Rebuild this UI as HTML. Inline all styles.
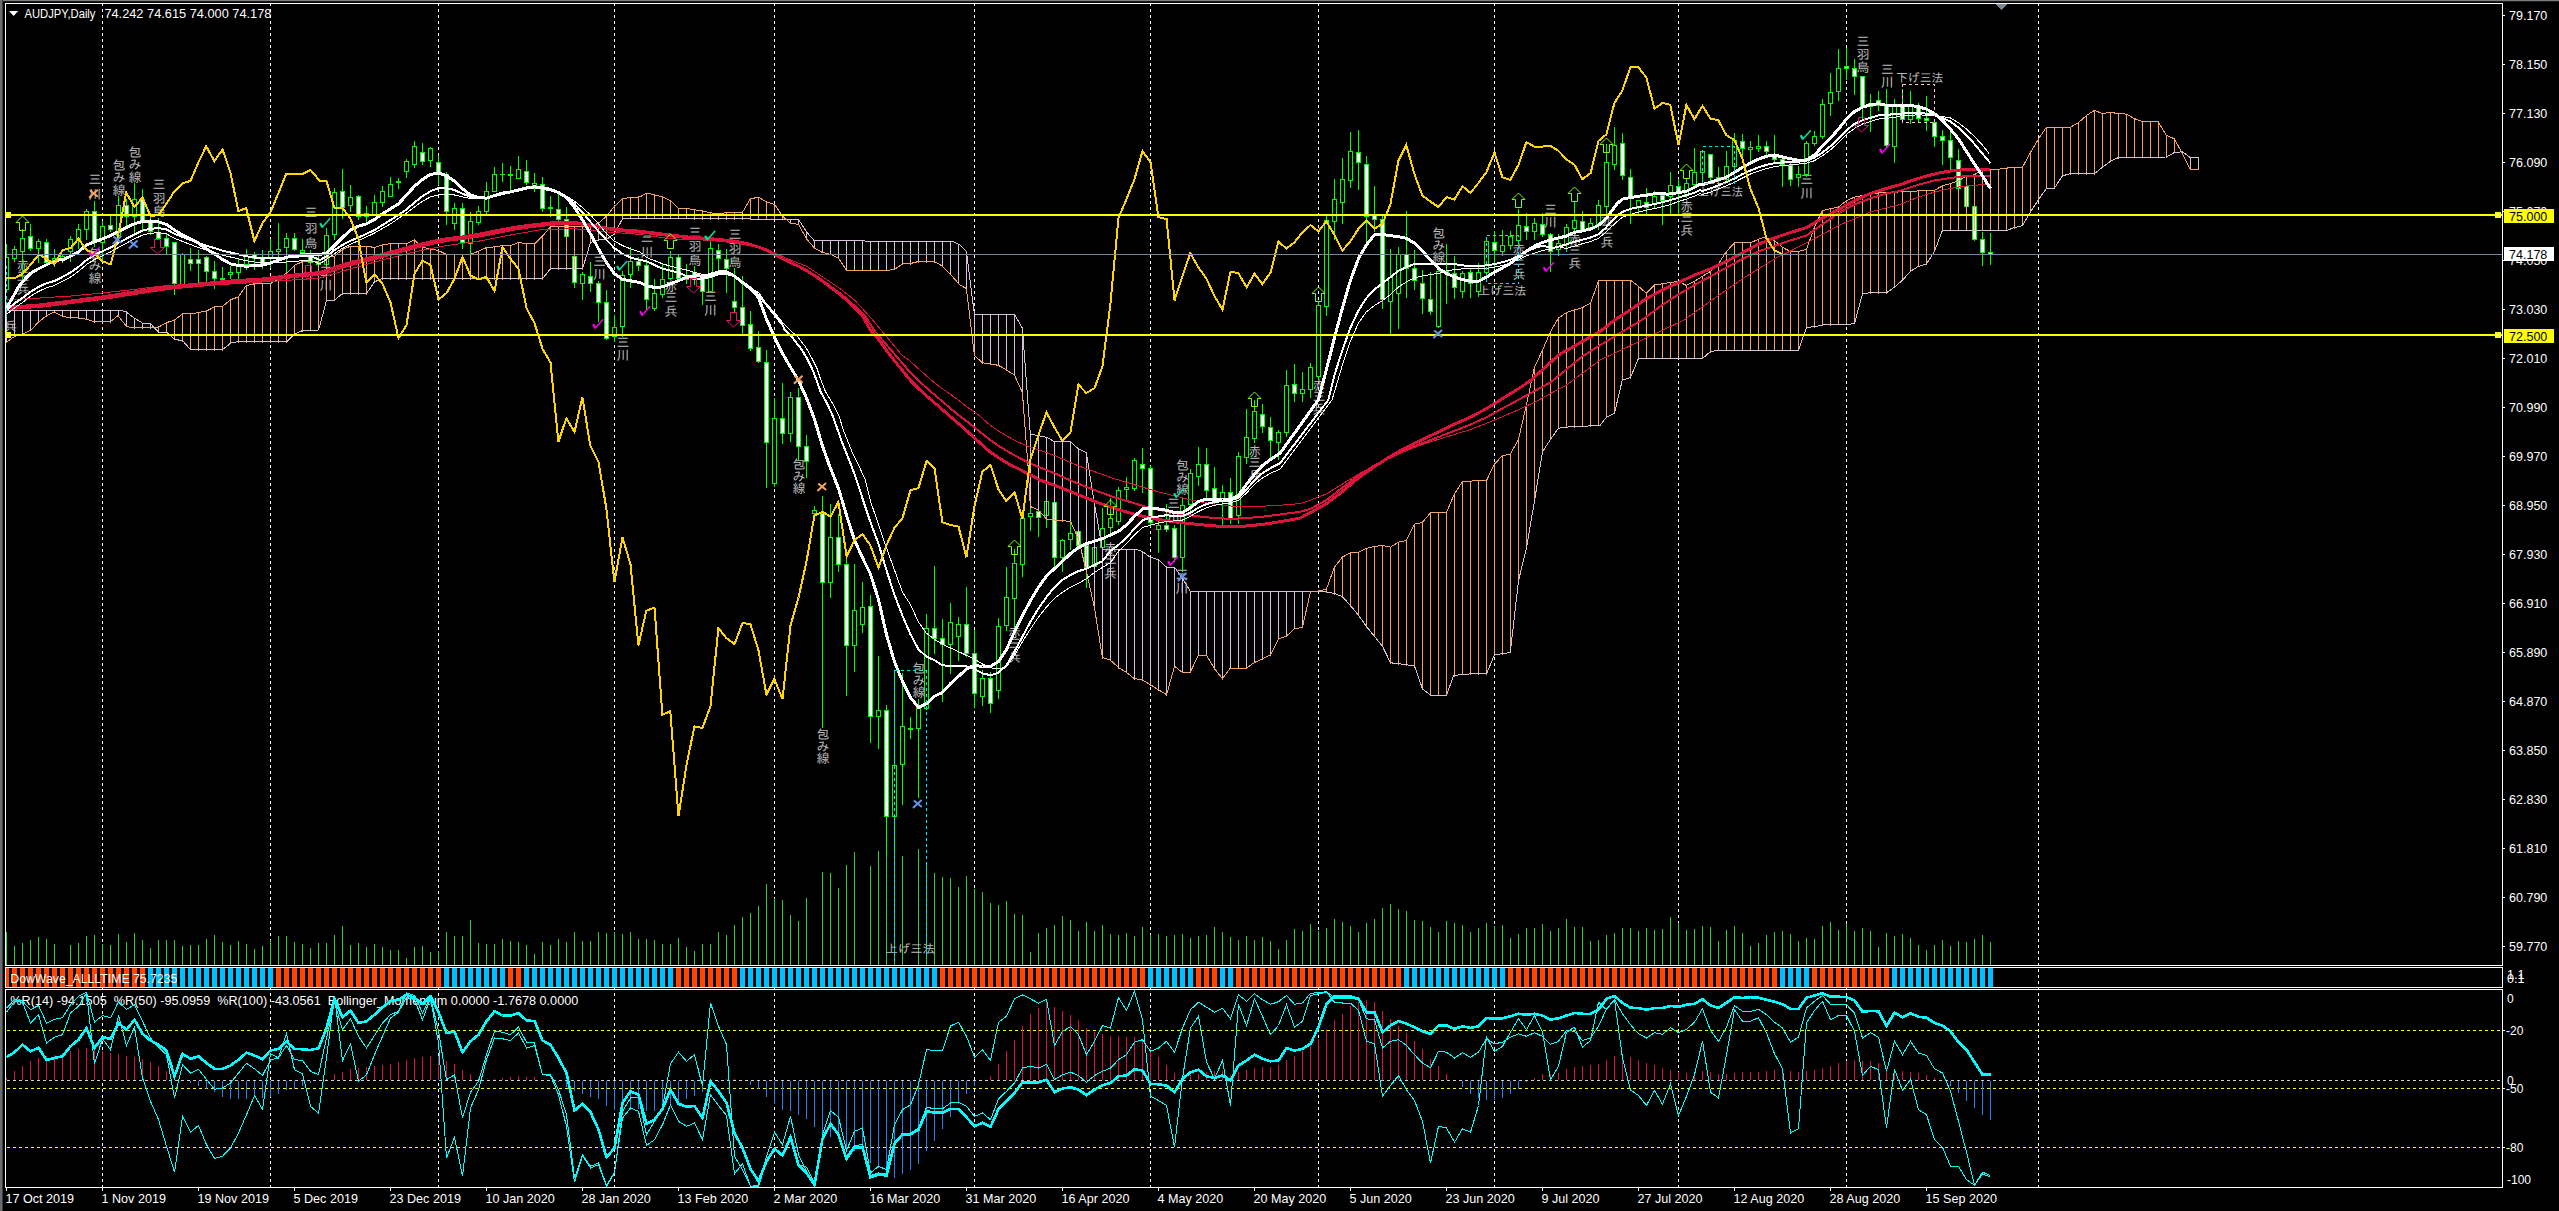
<!DOCTYPE html>
<html><head><meta charset="utf-8"><title>AUDJPY Daily</title><style>html,body{margin:0;padding:0;background:#000;overflow:hidden}svg{display:block}text{white-space:pre}</style></head><body>
<svg width="2559" height="1211" viewBox="0 0 2559 1211" shape-rendering="crispEdges" font-family="'Liberation Sans', 'Noto Sans CJK JP', sans-serif">
<rect x="0" y="0" width="2559" height="1211" fill="#000"/>
<rect x="0" y="0" width="2559" height="1" fill="#7c7c7c"/>
<rect x="0" y="1" width="2559" height="1" fill="#1c1c1c"/>
<rect x="0" y="0" width="2" height="1211" fill="#696d72"/>
<rect x="2" y="0" width="1" height="1211" fill="#3a3d40"/>
<g stroke="#fff" stroke-width="1" stroke-dasharray="3 3">
<line x1="102.5" y1="3" x2="102.5" y2="1187"/>
<line x1="270.5" y1="3" x2="270.5" y2="1187"/>
<line x1="438.5" y1="3" x2="438.5" y2="1187"/>
<line x1="614.5" y1="3" x2="614.5" y2="1187"/>
<line x1="774.5" y1="3" x2="774.5" y2="1187"/>
<line x1="974.5" y1="3" x2="974.5" y2="1187"/>
<line x1="1150.5" y1="3" x2="1150.5" y2="1187"/>
<line x1="1318.5" y1="3" x2="1318.5" y2="1187"/>
<line x1="1494.5" y1="3" x2="1494.5" y2="1187"/>
<line x1="1678.5" y1="3" x2="1678.5" y2="1187"/>
<line x1="1846.5" y1="3" x2="1846.5" y2="1187"/>
<line x1="2038.5" y1="3" x2="2038.5" y2="1187"/>
</g>
<rect x="6" y="932" width="1" height="33" fill="#32cd32"/>
<rect x="14" y="946" width="1" height="19" fill="#32cd32"/>
<rect x="22" y="943" width="1" height="22" fill="#32cd32"/>
<rect x="30" y="940" width="1" height="25" fill="#32cd32"/>
<rect x="38" y="937" width="1" height="28" fill="#32cd32"/>
<rect x="46" y="939" width="1" height="26" fill="#32cd32"/>
<rect x="54" y="944" width="1" height="21" fill="#32cd32"/>
<rect x="70" y="945" width="1" height="20" fill="#32cd32"/>
<rect x="78" y="943" width="1" height="22" fill="#32cd32"/>
<rect x="86" y="936" width="1" height="29" fill="#32cd32"/>
<rect x="94" y="935" width="1" height="30" fill="#32cd32"/>
<rect x="102" y="944" width="1" height="21" fill="#32cd32"/>
<rect x="110" y="945" width="1" height="20" fill="#32cd32"/>
<rect x="118" y="934" width="1" height="31" fill="#32cd32"/>
<rect x="126" y="942" width="1" height="23" fill="#32cd32"/>
<rect x="134" y="933" width="1" height="32" fill="#32cd32"/>
<rect x="142" y="940" width="1" height="25" fill="#32cd32"/>
<rect x="150" y="948" width="1" height="17" fill="#32cd32"/>
<rect x="158" y="940" width="1" height="25" fill="#32cd32"/>
<rect x="166" y="940" width="1" height="25" fill="#32cd32"/>
<rect x="174" y="940" width="1" height="25" fill="#32cd32"/>
<rect x="182" y="946" width="1" height="19" fill="#32cd32"/>
<rect x="190" y="945" width="1" height="20" fill="#32cd32"/>
<rect x="198" y="945" width="1" height="20" fill="#32cd32"/>
<rect x="206" y="939" width="1" height="26" fill="#32cd32"/>
<rect x="214" y="935" width="1" height="30" fill="#32cd32"/>
<rect x="222" y="942" width="1" height="23" fill="#32cd32"/>
<rect x="230" y="945" width="1" height="20" fill="#32cd32"/>
<rect x="238" y="941" width="1" height="24" fill="#32cd32"/>
<rect x="246" y="944" width="1" height="21" fill="#32cd32"/>
<rect x="254" y="949" width="1" height="16" fill="#32cd32"/>
<rect x="262" y="946" width="1" height="19" fill="#32cd32"/>
<rect x="270" y="940" width="1" height="25" fill="#32cd32"/>
<rect x="278" y="936" width="1" height="29" fill="#32cd32"/>
<rect x="286" y="936" width="1" height="29" fill="#32cd32"/>
<rect x="294" y="942" width="1" height="23" fill="#32cd32"/>
<rect x="302" y="944" width="1" height="21" fill="#32cd32"/>
<rect x="310" y="948" width="1" height="17" fill="#32cd32"/>
<rect x="318" y="943" width="1" height="22" fill="#32cd32"/>
<rect x="326" y="943" width="1" height="22" fill="#32cd32"/>
<rect x="334" y="935" width="1" height="30" fill="#32cd32"/>
<rect x="342" y="926" width="1" height="39" fill="#32cd32"/>
<rect x="350" y="945" width="1" height="20" fill="#32cd32"/>
<rect x="358" y="943" width="1" height="22" fill="#32cd32"/>
<rect x="366" y="947" width="1" height="18" fill="#32cd32"/>
<rect x="374" y="944" width="1" height="21" fill="#32cd32"/>
<rect x="382" y="947" width="1" height="18" fill="#32cd32"/>
<rect x="390" y="950" width="1" height="15" fill="#32cd32"/>
<rect x="398" y="950" width="1" height="15" fill="#32cd32"/>
<rect x="406" y="958" width="1" height="7" fill="#32cd32"/>
<rect x="414" y="947" width="1" height="18" fill="#32cd32"/>
<rect x="422" y="946" width="1" height="19" fill="#32cd32"/>
<rect x="430" y="952" width="1" height="13" fill="#32cd32"/>
<rect x="438" y="951" width="1" height="14" fill="#32cd32"/>
<rect x="446" y="932" width="1" height="33" fill="#32cd32"/>
<rect x="454" y="936" width="1" height="29" fill="#32cd32"/>
<rect x="462" y="936" width="1" height="29" fill="#32cd32"/>
<rect x="470" y="920" width="1" height="45" fill="#32cd32"/>
<rect x="478" y="943" width="1" height="22" fill="#32cd32"/>
<rect x="486" y="944" width="1" height="21" fill="#32cd32"/>
<rect x="494" y="944" width="1" height="21" fill="#32cd32"/>
<rect x="502" y="939" width="1" height="26" fill="#32cd32"/>
<rect x="510" y="941" width="1" height="24" fill="#32cd32"/>
<rect x="518" y="942" width="1" height="23" fill="#32cd32"/>
<rect x="526" y="945" width="1" height="20" fill="#32cd32"/>
<rect x="534" y="954" width="1" height="11" fill="#32cd32"/>
<rect x="542" y="942" width="1" height="23" fill="#32cd32"/>
<rect x="550" y="945" width="1" height="20" fill="#32cd32"/>
<rect x="558" y="939" width="1" height="26" fill="#32cd32"/>
<rect x="566" y="942" width="1" height="23" fill="#32cd32"/>
<rect x="574" y="932" width="1" height="33" fill="#32cd32"/>
<rect x="582" y="941" width="1" height="24" fill="#32cd32"/>
<rect x="590" y="941" width="1" height="24" fill="#32cd32"/>
<rect x="598" y="932" width="1" height="33" fill="#32cd32"/>
<rect x="606" y="933" width="1" height="32" fill="#32cd32"/>
<rect x="614" y="932" width="1" height="33" fill="#32cd32"/>
<rect x="622" y="934" width="1" height="31" fill="#32cd32"/>
<rect x="630" y="932" width="1" height="33" fill="#32cd32"/>
<rect x="638" y="939" width="1" height="26" fill="#32cd32"/>
<rect x="646" y="939" width="1" height="26" fill="#32cd32"/>
<rect x="654" y="940" width="1" height="25" fill="#32cd32"/>
<rect x="662" y="944" width="1" height="21" fill="#32cd32"/>
<rect x="670" y="944" width="1" height="21" fill="#32cd32"/>
<rect x="678" y="938" width="1" height="27" fill="#32cd32"/>
<rect x="686" y="947" width="1" height="18" fill="#32cd32"/>
<rect x="694" y="951" width="1" height="14" fill="#32cd32"/>
<rect x="702" y="944" width="1" height="21" fill="#32cd32"/>
<rect x="710" y="944" width="1" height="21" fill="#32cd32"/>
<rect x="718" y="932" width="1" height="33" fill="#32cd32"/>
<rect x="726" y="935" width="1" height="30" fill="#32cd32"/>
<rect x="734" y="925" width="1" height="40" fill="#32cd32"/>
<rect x="742" y="917" width="1" height="48" fill="#32cd32"/>
<rect x="750" y="913" width="1" height="52" fill="#32cd32"/>
<rect x="758" y="906" width="1" height="59" fill="#32cd32"/>
<rect x="766" y="884" width="1" height="81" fill="#32cd32"/>
<rect x="774" y="898" width="1" height="67" fill="#32cd32"/>
<rect x="782" y="900" width="1" height="65" fill="#32cd32"/>
<rect x="790" y="915" width="1" height="50" fill="#32cd32"/>
<rect x="798" y="921" width="1" height="44" fill="#32cd32"/>
<rect x="806" y="898" width="1" height="67" fill="#32cd32"/>
<rect x="822" y="872" width="1" height="93" fill="#32cd32"/>
<rect x="830" y="873" width="1" height="92" fill="#32cd32"/>
<rect x="838" y="888" width="1" height="77" fill="#32cd32"/>
<rect x="846" y="865" width="1" height="100" fill="#32cd32"/>
<rect x="854" y="852" width="1" height="113" fill="#32cd32"/>
<rect x="870" y="866" width="1" height="99" fill="#32cd32"/>
<rect x="878" y="851" width="1" height="114" fill="#32cd32"/>
<rect x="886" y="842" width="1" height="123" fill="#32cd32"/>
<rect x="894" y="845" width="1" height="120" fill="#32cd32"/>
<rect x="902" y="856" width="1" height="109" fill="#32cd32"/>
<rect x="918" y="849" width="1" height="116" fill="#32cd32"/>
<rect x="926" y="865" width="1" height="100" fill="#32cd32"/>
<rect x="934" y="873" width="1" height="92" fill="#32cd32"/>
<rect x="942" y="877" width="1" height="88" fill="#32cd32"/>
<rect x="950" y="878" width="1" height="87" fill="#32cd32"/>
<rect x="958" y="887" width="1" height="78" fill="#32cd32"/>
<rect x="966" y="876" width="1" height="89" fill="#32cd32"/>
<rect x="974" y="889" width="1" height="76" fill="#32cd32"/>
<rect x="982" y="892" width="1" height="73" fill="#32cd32"/>
<rect x="990" y="903" width="1" height="62" fill="#32cd32"/>
<rect x="998" y="905" width="1" height="60" fill="#32cd32"/>
<rect x="1006" y="901" width="1" height="64" fill="#32cd32"/>
<rect x="1014" y="914" width="1" height="51" fill="#32cd32"/>
<rect x="1022" y="915" width="1" height="50" fill="#32cd32"/>
<rect x="1030" y="952" width="1" height="13" fill="#32cd32"/>
<rect x="1038" y="933" width="1" height="32" fill="#32cd32"/>
<rect x="1046" y="928" width="1" height="37" fill="#32cd32"/>
<rect x="1054" y="925" width="1" height="40" fill="#32cd32"/>
<rect x="1062" y="916" width="1" height="49" fill="#32cd32"/>
<rect x="1070" y="920" width="1" height="45" fill="#32cd32"/>
<rect x="1078" y="931" width="1" height="34" fill="#32cd32"/>
<rect x="1086" y="922" width="1" height="43" fill="#32cd32"/>
<rect x="1094" y="931" width="1" height="34" fill="#32cd32"/>
<rect x="1102" y="925" width="1" height="40" fill="#32cd32"/>
<rect x="1110" y="934" width="1" height="31" fill="#32cd32"/>
<rect x="1118" y="935" width="1" height="30" fill="#32cd32"/>
<rect x="1126" y="933" width="1" height="32" fill="#32cd32"/>
<rect x="1134" y="936" width="1" height="29" fill="#32cd32"/>
<rect x="1142" y="927" width="1" height="38" fill="#32cd32"/>
<rect x="1150" y="935" width="1" height="30" fill="#32cd32"/>
<rect x="1158" y="934" width="1" height="31" fill="#32cd32"/>
<rect x="1166" y="936" width="1" height="29" fill="#32cd32"/>
<rect x="1174" y="935" width="1" height="30" fill="#32cd32"/>
<rect x="1182" y="934" width="1" height="31" fill="#32cd32"/>
<rect x="1190" y="938" width="1" height="27" fill="#32cd32"/>
<rect x="1198" y="936" width="1" height="29" fill="#32cd32"/>
<rect x="1206" y="935" width="1" height="30" fill="#32cd32"/>
<rect x="1214" y="927" width="1" height="38" fill="#32cd32"/>
<rect x="1222" y="932" width="1" height="33" fill="#32cd32"/>
<rect x="1230" y="937" width="1" height="28" fill="#32cd32"/>
<rect x="1238" y="940" width="1" height="25" fill="#32cd32"/>
<rect x="1246" y="936" width="1" height="29" fill="#32cd32"/>
<rect x="1254" y="940" width="1" height="25" fill="#32cd32"/>
<rect x="1262" y="937" width="1" height="28" fill="#32cd32"/>
<rect x="1270" y="941" width="1" height="24" fill="#32cd32"/>
<rect x="1278" y="949" width="1" height="16" fill="#32cd32"/>
<rect x="1286" y="940" width="1" height="25" fill="#32cd32"/>
<rect x="1294" y="929" width="1" height="36" fill="#32cd32"/>
<rect x="1302" y="931" width="1" height="34" fill="#32cd32"/>
<rect x="1310" y="924" width="1" height="41" fill="#32cd32"/>
<rect x="1318" y="931" width="1" height="34" fill="#32cd32"/>
<rect x="1326" y="928" width="1" height="37" fill="#32cd32"/>
<rect x="1334" y="919" width="1" height="46" fill="#32cd32"/>
<rect x="1342" y="922" width="1" height="43" fill="#32cd32"/>
<rect x="1350" y="926" width="1" height="39" fill="#32cd32"/>
<rect x="1358" y="932" width="1" height="33" fill="#32cd32"/>
<rect x="1366" y="923" width="1" height="42" fill="#32cd32"/>
<rect x="1374" y="919" width="1" height="46" fill="#32cd32"/>
<rect x="1382" y="908" width="1" height="57" fill="#32cd32"/>
<rect x="1390" y="904" width="1" height="61" fill="#32cd32"/>
<rect x="1398" y="909" width="1" height="56" fill="#32cd32"/>
<rect x="1406" y="911" width="1" height="54" fill="#32cd32"/>
<rect x="1414" y="920" width="1" height="45" fill="#32cd32"/>
<rect x="1422" y="921" width="1" height="44" fill="#32cd32"/>
<rect x="1430" y="927" width="1" height="38" fill="#32cd32"/>
<rect x="1438" y="932" width="1" height="33" fill="#32cd32"/>
<rect x="1446" y="921" width="1" height="44" fill="#32cd32"/>
<rect x="1454" y="923" width="1" height="42" fill="#32cd32"/>
<rect x="1462" y="925" width="1" height="40" fill="#32cd32"/>
<rect x="1470" y="932" width="1" height="33" fill="#32cd32"/>
<rect x="1478" y="928" width="1" height="37" fill="#32cd32"/>
<rect x="1486" y="923" width="1" height="42" fill="#32cd32"/>
<rect x="1494" y="926" width="1" height="39" fill="#32cd32"/>
<rect x="1502" y="925" width="1" height="40" fill="#32cd32"/>
<rect x="1510" y="938" width="1" height="27" fill="#32cd32"/>
<rect x="1518" y="934" width="1" height="31" fill="#32cd32"/>
<rect x="1526" y="928" width="1" height="37" fill="#32cd32"/>
<rect x="1534" y="928" width="1" height="37" fill="#32cd32"/>
<rect x="1542" y="924" width="1" height="41" fill="#32cd32"/>
<rect x="1550" y="931" width="1" height="34" fill="#32cd32"/>
<rect x="1558" y="928" width="1" height="37" fill="#32cd32"/>
<rect x="1566" y="919" width="1" height="46" fill="#32cd32"/>
<rect x="1574" y="927" width="1" height="38" fill="#32cd32"/>
<rect x="1582" y="927" width="1" height="38" fill="#32cd32"/>
<rect x="1590" y="941" width="1" height="24" fill="#32cd32"/>
<rect x="1598" y="940" width="1" height="25" fill="#32cd32"/>
<rect x="1606" y="935" width="1" height="30" fill="#32cd32"/>
<rect x="1614" y="933" width="1" height="32" fill="#32cd32"/>
<rect x="1622" y="928" width="1" height="37" fill="#32cd32"/>
<rect x="1630" y="928" width="1" height="37" fill="#32cd32"/>
<rect x="1638" y="931" width="1" height="34" fill="#32cd32"/>
<rect x="1646" y="928" width="1" height="37" fill="#32cd32"/>
<rect x="1654" y="930" width="1" height="35" fill="#32cd32"/>
<rect x="1662" y="929" width="1" height="36" fill="#32cd32"/>
<rect x="1670" y="917" width="1" height="48" fill="#32cd32"/>
<rect x="1678" y="923" width="1" height="42" fill="#32cd32"/>
<rect x="1686" y="930" width="1" height="35" fill="#32cd32"/>
<rect x="1694" y="929" width="1" height="36" fill="#32cd32"/>
<rect x="1702" y="926" width="1" height="39" fill="#32cd32"/>
<rect x="1710" y="927" width="1" height="38" fill="#32cd32"/>
<rect x="1718" y="941" width="1" height="24" fill="#32cd32"/>
<rect x="1726" y="930" width="1" height="35" fill="#32cd32"/>
<rect x="1734" y="926" width="1" height="39" fill="#32cd32"/>
<rect x="1742" y="933" width="1" height="32" fill="#32cd32"/>
<rect x="1750" y="946" width="1" height="19" fill="#32cd32"/>
<rect x="1758" y="943" width="1" height="22" fill="#32cd32"/>
<rect x="1766" y="935" width="1" height="30" fill="#32cd32"/>
<rect x="1774" y="932" width="1" height="33" fill="#32cd32"/>
<rect x="1782" y="931" width="1" height="34" fill="#32cd32"/>
<rect x="1790" y="934" width="1" height="31" fill="#32cd32"/>
<rect x="1798" y="941" width="1" height="24" fill="#32cd32"/>
<rect x="1806" y="938" width="1" height="27" fill="#32cd32"/>
<rect x="1814" y="939" width="1" height="26" fill="#32cd32"/>
<rect x="1822" y="926" width="1" height="39" fill="#32cd32"/>
<rect x="1830" y="922" width="1" height="43" fill="#32cd32"/>
<rect x="1838" y="930" width="1" height="35" fill="#32cd32"/>
<rect x="1846" y="924" width="1" height="41" fill="#32cd32"/>
<rect x="1854" y="931" width="1" height="34" fill="#32cd32"/>
<rect x="1862" y="928" width="1" height="37" fill="#32cd32"/>
<rect x="1870" y="931" width="1" height="34" fill="#32cd32"/>
<rect x="1878" y="947" width="1" height="18" fill="#32cd32"/>
<rect x="1886" y="933" width="1" height="32" fill="#32cd32"/>
<rect x="1894" y="936" width="1" height="29" fill="#32cd32"/>
<rect x="1902" y="934" width="1" height="31" fill="#32cd32"/>
<rect x="1910" y="938" width="1" height="27" fill="#32cd32"/>
<rect x="1918" y="945" width="1" height="20" fill="#32cd32"/>
<rect x="1926" y="950" width="1" height="15" fill="#32cd32"/>
<rect x="1934" y="945" width="1" height="20" fill="#32cd32"/>
<rect x="1942" y="940" width="1" height="25" fill="#32cd32"/>
<rect x="1950" y="946" width="1" height="19" fill="#32cd32"/>
<rect x="1958" y="941" width="1" height="24" fill="#32cd32"/>
<rect x="1966" y="942" width="1" height="23" fill="#32cd32"/>
<rect x="1974" y="939" width="1" height="26" fill="#32cd32"/>
<rect x="1982" y="935" width="1" height="30" fill="#32cd32"/>
<rect x="1990" y="942" width="1" height="23" fill="#32cd32"/>
<text x="95" y="184" fill="#bcbcbc" font-size="13" text-anchor="middle" font-family="'Liberation Sans','IPAGothic',sans-serif">三</text>
<text x="95" y="199" fill="#bcbcbc" font-size="13" text-anchor="middle" font-family="'Liberation Sans','IPAGothic',sans-serif">川</text>
<text x="119" y="170" fill="#bcbcbc" font-size="13" text-anchor="middle" font-family="'Liberation Sans','IPAGothic',sans-serif">包</text>
<text x="119" y="182" fill="#bcbcbc" font-size="13" text-anchor="middle" font-family="'Liberation Sans','IPAGothic',sans-serif">み</text>
<text x="119" y="194.5" fill="#bcbcbc" font-size="13" text-anchor="middle" font-family="'Liberation Sans','IPAGothic',sans-serif">線</text>
<text x="135" y="157" fill="#bcbcbc" font-size="13" text-anchor="middle" font-family="'Liberation Sans','IPAGothic',sans-serif">包</text>
<text x="135" y="169" fill="#bcbcbc" font-size="13" text-anchor="middle" font-family="'Liberation Sans','IPAGothic',sans-serif">み</text>
<text x="135" y="181.5" fill="#bcbcbc" font-size="13" text-anchor="middle" font-family="'Liberation Sans','IPAGothic',sans-serif">線</text>
<text x="159" y="189" fill="#bcbcbc" font-size="13" text-anchor="middle" font-family="'Liberation Sans','IPAGothic',sans-serif">三</text>
<text x="159" y="203" fill="#bcbcbc" font-size="13" text-anchor="middle" font-family="'Liberation Sans','IPAGothic',sans-serif">羽</text>
<text x="159" y="215.5" fill="#bcbcbc" font-size="13" text-anchor="middle" font-family="'Liberation Sans','IPAGothic',sans-serif">烏</text>
<text x="23" y="270" fill="#bcbcbc" font-size="13" text-anchor="middle" font-family="'Liberation Sans','IPAGothic',sans-serif">赤</text>
<text x="23" y="280.5" fill="#bcbcbc" font-size="13" text-anchor="middle" font-family="'Liberation Sans','IPAGothic',sans-serif">三</text>
<text x="23" y="294" fill="#bcbcbc" font-size="13" text-anchor="middle" font-family="'Liberation Sans','IPAGothic',sans-serif">兵</text>
<text x="95" y="258" fill="#bcbcbc" font-size="13" text-anchor="middle" font-family="'Liberation Sans','IPAGothic',sans-serif">包</text>
<text x="95" y="270" fill="#bcbcbc" font-size="13" text-anchor="middle" font-family="'Liberation Sans','IPAGothic',sans-serif">み</text>
<text x="95" y="283" fill="#bcbcbc" font-size="13" text-anchor="middle" font-family="'Liberation Sans','IPAGothic',sans-serif">線</text>
<text x="311" y="217" fill="#bcbcbc" font-size="13" text-anchor="middle" font-family="'Liberation Sans','IPAGothic',sans-serif">三</text>
<text x="311" y="233" fill="#bcbcbc" font-size="13" text-anchor="middle" font-family="'Liberation Sans','IPAGothic',sans-serif">羽</text>
<text x="311" y="248" fill="#bcbcbc" font-size="13" text-anchor="middle" font-family="'Liberation Sans','IPAGothic',sans-serif">烏</text>
<text x="326" y="276" fill="#bcbcbc" font-size="13" text-anchor="middle" font-family="'Liberation Sans','IPAGothic',sans-serif">三</text>
<text x="326" y="290" fill="#bcbcbc" font-size="13" text-anchor="middle" font-family="'Liberation Sans','IPAGothic',sans-serif">川</text>
<text x="599.5" y="265.5" fill="#bcbcbc" font-size="13" text-anchor="middle" font-family="'Liberation Sans','IPAGothic',sans-serif">三</text>
<text x="599.5" y="279" fill="#bcbcbc" font-size="13" text-anchor="middle" font-family="'Liberation Sans','IPAGothic',sans-serif">川</text>
<text x="623" y="347" fill="#bcbcbc" font-size="13" text-anchor="middle" font-family="'Liberation Sans','IPAGothic',sans-serif">三</text>
<text x="623" y="360" fill="#bcbcbc" font-size="13" text-anchor="middle" font-family="'Liberation Sans','IPAGothic',sans-serif">川</text>
<text x="647" y="242" fill="#bcbcbc" font-size="13" text-anchor="middle" font-family="'Liberation Sans','IPAGothic',sans-serif">三</text>
<text x="647" y="256.5" fill="#bcbcbc" font-size="13" text-anchor="middle" font-family="'Liberation Sans','IPAGothic',sans-serif">川</text>
<text x="695" y="237" fill="#bcbcbc" font-size="13" text-anchor="middle" font-family="'Liberation Sans','IPAGothic',sans-serif">三</text>
<text x="695" y="251" fill="#bcbcbc" font-size="13" text-anchor="middle" font-family="'Liberation Sans','IPAGothic',sans-serif">羽</text>
<text x="695" y="264.5" fill="#bcbcbc" font-size="13" text-anchor="middle" font-family="'Liberation Sans','IPAGothic',sans-serif">烏</text>
<text x="735" y="239" fill="#bcbcbc" font-size="13" text-anchor="middle" font-family="'Liberation Sans','IPAGothic',sans-serif">三</text>
<text x="735" y="253" fill="#bcbcbc" font-size="13" text-anchor="middle" font-family="'Liberation Sans','IPAGothic',sans-serif">羽</text>
<text x="735" y="266.5" fill="#bcbcbc" font-size="13" text-anchor="middle" font-family="'Liberation Sans','IPAGothic',sans-serif">烏</text>
<text x="671" y="290.5" fill="#bcbcbc" font-size="13" text-anchor="middle" font-family="'Liberation Sans','IPAGothic',sans-serif">赤</text>
<text x="671" y="302" fill="#bcbcbc" font-size="13" text-anchor="middle" font-family="'Liberation Sans','IPAGothic',sans-serif">三</text>
<text x="671" y="316" fill="#bcbcbc" font-size="13" text-anchor="middle" font-family="'Liberation Sans','IPAGothic',sans-serif">兵</text>
<text x="710.6" y="301" fill="#bcbcbc" font-size="13" text-anchor="middle" font-family="'Liberation Sans','IPAGothic',sans-serif">三</text>
<text x="710.6" y="315" fill="#bcbcbc" font-size="13" text-anchor="middle" font-family="'Liberation Sans','IPAGothic',sans-serif">川</text>
<text x="799" y="469" fill="#bcbcbc" font-size="13" text-anchor="middle" font-family="'Liberation Sans','IPAGothic',sans-serif">包</text>
<text x="799" y="481" fill="#bcbcbc" font-size="13" text-anchor="middle" font-family="'Liberation Sans','IPAGothic',sans-serif">み</text>
<text x="799" y="493" fill="#bcbcbc" font-size="13" text-anchor="middle" font-family="'Liberation Sans','IPAGothic',sans-serif">線</text>
<text x="823" y="739" fill="#bcbcbc" font-size="13" text-anchor="middle" font-family="'Liberation Sans','IPAGothic',sans-serif">包</text>
<text x="823" y="751" fill="#bcbcbc" font-size="13" text-anchor="middle" font-family="'Liberation Sans','IPAGothic',sans-serif">み</text>
<text x="823" y="762.5" fill="#bcbcbc" font-size="13" text-anchor="middle" font-family="'Liberation Sans','IPAGothic',sans-serif">線</text>
<text x="919" y="673" fill="#bcbcbc" font-size="13" text-anchor="middle" font-family="'Liberation Sans','IPAGothic',sans-serif">包</text>
<text x="919" y="684.5" fill="#bcbcbc" font-size="13" text-anchor="middle" font-family="'Liberation Sans','IPAGothic',sans-serif">み</text>
<text x="919" y="696.5" fill="#bcbcbc" font-size="13" text-anchor="middle" font-family="'Liberation Sans','IPAGothic',sans-serif">線</text>
<text x="1014.5" y="637" fill="#bcbcbc" font-size="13" text-anchor="middle" font-family="'Liberation Sans','IPAGothic',sans-serif">赤</text>
<text x="1014.5" y="648" fill="#bcbcbc" font-size="13" text-anchor="middle" font-family="'Liberation Sans','IPAGothic',sans-serif">三</text>
<text x="1014.5" y="662" fill="#bcbcbc" font-size="13" text-anchor="middle" font-family="'Liberation Sans','IPAGothic',sans-serif">兵</text>
<text x="1110.6" y="552.6" fill="#bcbcbc" font-size="13" text-anchor="middle" font-family="'Liberation Sans','IPAGothic',sans-serif">赤</text>
<text x="1110.6" y="563.7" fill="#bcbcbc" font-size="13" text-anchor="middle" font-family="'Liberation Sans','IPAGothic',sans-serif">三</text>
<text x="1110.6" y="577.5" fill="#bcbcbc" font-size="13" text-anchor="middle" font-family="'Liberation Sans','IPAGothic',sans-serif">兵</text>
<text x="1182.4" y="469.6" fill="#bcbcbc" font-size="13" text-anchor="middle" font-family="'Liberation Sans','IPAGothic',sans-serif">包</text>
<text x="1182.4" y="482" fill="#bcbcbc" font-size="13" text-anchor="middle" font-family="'Liberation Sans','IPAGothic',sans-serif">み</text>
<text x="1182.4" y="494" fill="#bcbcbc" font-size="13" text-anchor="middle" font-family="'Liberation Sans','IPAGothic',sans-serif">線</text>
<text x="1182" y="578.5" fill="#bcbcbc" font-size="13" text-anchor="middle" font-family="'Liberation Sans','IPAGothic',sans-serif">三</text>
<text x="1182" y="592.5" fill="#bcbcbc" font-size="13" text-anchor="middle" font-family="'Liberation Sans','IPAGothic',sans-serif">川</text>
<text x="1173.5" y="508" fill="#bcbcbc" font-size="13" text-anchor="middle" font-family="'Liberation Sans','IPAGothic',sans-serif">三</text>
<text x="1173.5" y="520.5" fill="#bcbcbc" font-size="13" text-anchor="middle" font-family="'Liberation Sans','IPAGothic',sans-serif">川</text>
<text x="1254.7" y="456" fill="#bcbcbc" font-size="13" text-anchor="middle" font-family="'Liberation Sans','IPAGothic',sans-serif">赤</text>
<text x="1254.7" y="466.5" fill="#bcbcbc" font-size="13" text-anchor="middle" font-family="'Liberation Sans','IPAGothic',sans-serif">三</text>
<text x="1254.7" y="479.5" fill="#bcbcbc" font-size="13" text-anchor="middle" font-family="'Liberation Sans','IPAGothic',sans-serif">兵</text>
<text x="1319" y="390" fill="#bcbcbc" font-size="13" text-anchor="middle" font-family="'Liberation Sans','IPAGothic',sans-serif">赤</text>
<text x="1319" y="400.5" fill="#bcbcbc" font-size="13" text-anchor="middle" font-family="'Liberation Sans','IPAGothic',sans-serif">三</text>
<text x="1319" y="414" fill="#bcbcbc" font-size="13" text-anchor="middle" font-family="'Liberation Sans','IPAGothic',sans-serif">兵</text>
<text x="1438.8" y="238" fill="#bcbcbc" font-size="13" text-anchor="middle" font-family="'Liberation Sans','IPAGothic',sans-serif">包</text>
<text x="1438.8" y="250" fill="#bcbcbc" font-size="13" text-anchor="middle" font-family="'Liberation Sans','IPAGothic',sans-serif">み</text>
<text x="1438.8" y="261.5" fill="#bcbcbc" font-size="13" text-anchor="middle" font-family="'Liberation Sans','IPAGothic',sans-serif">線</text>
<text x="1519" y="254" fill="#bcbcbc" font-size="13" text-anchor="middle" font-family="'Liberation Sans','IPAGothic',sans-serif">赤</text>
<text x="1519" y="264.8" fill="#bcbcbc" font-size="13" text-anchor="middle" font-family="'Liberation Sans','IPAGothic',sans-serif">三</text>
<text x="1519" y="278.8" fill="#bcbcbc" font-size="13" text-anchor="middle" font-family="'Liberation Sans','IPAGothic',sans-serif">兵</text>
<text x="1550.5" y="214" fill="#bcbcbc" font-size="13" text-anchor="middle" font-family="'Liberation Sans','IPAGothic',sans-serif">三</text>
<text x="1550.5" y="227" fill="#bcbcbc" font-size="13" text-anchor="middle" font-family="'Liberation Sans','IPAGothic',sans-serif">川</text>
<text x="1574.7" y="244" fill="#bcbcbc" font-size="13" text-anchor="middle" font-family="'Liberation Sans','IPAGothic',sans-serif">赤</text>
<text x="1574.7" y="254.9" fill="#bcbcbc" font-size="13" text-anchor="middle" font-family="'Liberation Sans','IPAGothic',sans-serif">三</text>
<text x="1574.7" y="267.6" fill="#bcbcbc" font-size="13" text-anchor="middle" font-family="'Liberation Sans','IPAGothic',sans-serif">兵</text>
<text x="1607" y="223.5" fill="#bcbcbc" font-size="13" text-anchor="middle" font-family="'Liberation Sans','IPAGothic',sans-serif">赤</text>
<text x="1607" y="233.5" fill="#bcbcbc" font-size="13" text-anchor="middle" font-family="'Liberation Sans','IPAGothic',sans-serif">三</text>
<text x="1607" y="247" fill="#bcbcbc" font-size="13" text-anchor="middle" font-family="'Liberation Sans','IPAGothic',sans-serif">兵</text>
<text x="1686.7" y="211" fill="#bcbcbc" font-size="13" text-anchor="middle" font-family="'Liberation Sans','IPAGothic',sans-serif">赤</text>
<text x="1686.7" y="222" fill="#bcbcbc" font-size="13" text-anchor="middle" font-family="'Liberation Sans','IPAGothic',sans-serif">三</text>
<text x="1686.7" y="234.5" fill="#bcbcbc" font-size="13" text-anchor="middle" font-family="'Liberation Sans','IPAGothic',sans-serif">兵</text>
<text x="1806.8" y="184" fill="#bcbcbc" font-size="13" text-anchor="middle" font-family="'Liberation Sans','IPAGothic',sans-serif">三</text>
<text x="1806.8" y="197.5" fill="#bcbcbc" font-size="13" text-anchor="middle" font-family="'Liberation Sans','IPAGothic',sans-serif">川</text>
<text x="1863" y="45.5" fill="#bcbcbc" font-size="13" text-anchor="middle" font-family="'Liberation Sans','IPAGothic',sans-serif">三</text>
<text x="1863" y="59" fill="#bcbcbc" font-size="13" text-anchor="middle" font-family="'Liberation Sans','IPAGothic',sans-serif">羽</text>
<text x="1863" y="71.8" fill="#bcbcbc" font-size="13" text-anchor="middle" font-family="'Liberation Sans','IPAGothic',sans-serif">烏</text>
<text x="1887.3" y="74" fill="#bcbcbc" font-size="13" text-anchor="middle" font-family="'Liberation Sans','IPAGothic',sans-serif">三</text>
<text x="1887.3" y="86.6" fill="#bcbcbc" font-size="13" text-anchor="middle" font-family="'Liberation Sans','IPAGothic',sans-serif">川</text>
<text x="885.4" y="953" fill="#bcbcbc" font-size="12" text-anchor="start" font-family="'Liberation Sans','IPAGothic',sans-serif" textLength="49.6" lengthAdjust="spacingAndGlyphs">上げ三法</text>
<text x="1478" y="294.8" fill="#bcbcbc" font-size="12" text-anchor="start" font-family="'Liberation Sans','IPAGothic',sans-serif" textLength="48.4" lengthAdjust="spacingAndGlyphs">上げ三法</text>
<text x="1697.8" y="195.5" fill="#bcbcbc" font-size="12" text-anchor="start" font-family="'Liberation Sans','IPAGothic',sans-serif" textLength="45.2" lengthAdjust="spacingAndGlyphs">上げ三法</text>
<text x="1896" y="82.2" fill="#bcbcbc" font-size="12" text-anchor="start" font-family="'Liberation Sans','IPAGothic',sans-serif" textLength="47.3" lengthAdjust="spacingAndGlyphs">下げ三法</text>
<clipPath id="cl"><rect x="6" y="4" width="2496" height="961"/></clipPath>
<g clip-path="url(#cl)">
<text x="10.5" y="330.5" fill="#bcbcbc" font-size="13" text-anchor="middle" font-family="'Liberation Sans','IPAGothic',sans-serif">兵</text>
</g>
<g>
<rect x="6" y="244" width="1" height="48" fill="#00ff00"/>
<rect x="4" y="257" width="5" height="33" fill="#00ff00"/>
<rect x="5" y="258" width="3" height="31" fill="#000"/>
<rect x="14" y="246" width="1" height="16" fill="#00ff00"/>
<rect x="12" y="249" width="5" height="10" fill="#00ff00"/>
<rect x="13" y="250" width="3" height="8" fill="#000"/>
<rect x="22" y="229" width="1" height="51" fill="#00ff00"/>
<rect x="20" y="238" width="5" height="14" fill="#00ff00"/>
<rect x="21" y="239" width="3" height="12" fill="#000"/>
<rect x="30" y="224" width="1" height="27" fill="#00ff00"/>
<rect x="28" y="236" width="5" height="13" fill="#00ff00"/>
<rect x="29" y="237" width="3" height="11" fill="#fff"/>
<rect x="38" y="239" width="1" height="24" fill="#00ff00"/>
<rect x="36" y="241" width="5" height="8" fill="#00ff00"/>
<rect x="37" y="242" width="3" height="6" fill="#000"/>
<rect x="46" y="239" width="1" height="26" fill="#00ff00"/>
<rect x="44" y="242" width="5" height="21" fill="#00ff00"/>
<rect x="45" y="243" width="3" height="19" fill="#fff"/>
<rect x="54" y="249" width="1" height="18" fill="#00ff00"/>
<rect x="52" y="258" width="5" height="5" fill="#00ff00"/>
<rect x="53" y="259" width="3" height="3" fill="#000"/>
<rect x="62" y="255" width="1" height="8" fill="#00ff00"/>
<rect x="60" y="256" width="5" height="4" fill="#00ff00"/>
<rect x="61" y="257" width="3" height="2" fill="#000"/>
<rect x="70" y="236" width="1" height="26" fill="#00ff00"/>
<rect x="68" y="239" width="5" height="13" fill="#00ff00"/>
<rect x="69" y="240" width="3" height="11" fill="#000"/>
<rect x="78" y="224" width="1" height="25" fill="#00ff00"/>
<rect x="76" y="229" width="5" height="11" fill="#00ff00"/>
<rect x="77" y="230" width="3" height="9" fill="#000"/>
<rect x="86" y="209" width="1" height="31" fill="#00ff00"/>
<rect x="84" y="211" width="5" height="19" fill="#00ff00"/>
<rect x="85" y="212" width="3" height="17" fill="#000"/>
<rect x="94" y="201" width="1" height="46" fill="#00ff00"/>
<rect x="92" y="211" width="5" height="32" fill="#00ff00"/>
<rect x="93" y="212" width="3" height="30" fill="#fff"/>
<rect x="102" y="221" width="1" height="40" fill="#00ff00"/>
<rect x="100" y="226" width="5" height="17" fill="#00ff00"/>
<rect x="101" y="227" width="3" height="15" fill="#000"/>
<rect x="110" y="216" width="1" height="16" fill="#00ff00"/>
<rect x="108" y="225" width="5" height="5" fill="#00ff00"/>
<rect x="109" y="226" width="3" height="3" fill="#fff"/>
<rect x="118" y="196" width="1" height="45" fill="#00ff00"/>
<rect x="116" y="205" width="5" height="31" fill="#00ff00"/>
<rect x="117" y="206" width="3" height="29" fill="#000"/>
<rect x="126" y="199" width="1" height="27" fill="#00ff00"/>
<rect x="124" y="205" width="5" height="12" fill="#00ff00"/>
<rect x="125" y="206" width="3" height="10" fill="#fff"/>
<rect x="134" y="183" width="1" height="53" fill="#00ff00"/>
<rect x="132" y="199" width="5" height="18" fill="#00ff00"/>
<rect x="133" y="200" width="3" height="16" fill="#000"/>
<rect x="142" y="189" width="1" height="41" fill="#00ff00"/>
<rect x="140" y="199" width="5" height="22" fill="#00ff00"/>
<rect x="141" y="200" width="3" height="20" fill="#fff"/>
<rect x="150" y="216" width="1" height="19" fill="#00ff00"/>
<rect x="148" y="220" width="5" height="12" fill="#00ff00"/>
<rect x="149" y="221" width="3" height="10" fill="#fff"/>
<rect x="158" y="218" width="1" height="22" fill="#00ff00"/>
<rect x="156" y="232" width="5" height="7" fill="#00ff00"/>
<rect x="157" y="233" width="3" height="5" fill="#fff"/>
<rect x="166" y="234" width="1" height="21" fill="#00ff00"/>
<rect x="164" y="238" width="5" height="9" fill="#00ff00"/>
<rect x="165" y="239" width="3" height="7" fill="#fff"/>
<rect x="174" y="242" width="1" height="53" fill="#00ff00"/>
<rect x="172" y="242" width="5" height="42" fill="#00ff00"/>
<rect x="173" y="243" width="3" height="40" fill="#fff"/>
<rect x="182" y="253" width="1" height="33" fill="#00ff00"/>
<rect x="180" y="254" width="5" height="31" fill="#00ff00"/>
<rect x="181" y="255" width="3" height="29" fill="#000"/>
<rect x="190" y="248" width="1" height="23" fill="#00ff00"/>
<rect x="188" y="259" width="5" height="5" fill="#00ff00"/>
<rect x="189" y="260" width="3" height="3" fill="#fff"/>
<rect x="198" y="250" width="1" height="34" fill="#00ff00"/>
<rect x="196" y="259" width="5" height="5" fill="#00ff00"/>
<rect x="197" y="260" width="3" height="3" fill="#fff"/>
<rect x="206" y="256" width="1" height="28" fill="#00ff00"/>
<rect x="204" y="257" width="5" height="15" fill="#00ff00"/>
<rect x="205" y="258" width="3" height="13" fill="#fff"/>
<rect x="214" y="261" width="1" height="28" fill="#00ff00"/>
<rect x="212" y="271" width="5" height="8" fill="#00ff00"/>
<rect x="213" y="272" width="3" height="6" fill="#fff"/>
<rect x="222" y="267" width="1" height="16" fill="#00ff00"/>
<rect x="220" y="278" width="5" height="2" fill="#00ff00"/>
<rect x="230" y="266" width="1" height="13" fill="#00ff00"/>
<rect x="228" y="272" width="5" height="3" fill="#00ff00"/>
<rect x="229" y="273" width="3" height="1" fill="#000"/>
<rect x="238" y="259" width="1" height="20" fill="#00ff00"/>
<rect x="236" y="264" width="5" height="9" fill="#00ff00"/>
<rect x="237" y="265" width="3" height="7" fill="#000"/>
<rect x="246" y="249" width="1" height="21" fill="#00ff00"/>
<rect x="244" y="256" width="5" height="9" fill="#00ff00"/>
<rect x="245" y="257" width="3" height="7" fill="#000"/>
<rect x="254" y="252" width="1" height="18" fill="#00ff00"/>
<rect x="252" y="254" width="5" height="5" fill="#00ff00"/>
<rect x="253" y="255" width="3" height="3" fill="#fff"/>
<rect x="262" y="250" width="1" height="19" fill="#00ff00"/>
<rect x="260" y="258" width="5" height="7" fill="#00ff00"/>
<rect x="261" y="259" width="3" height="5" fill="#fff"/>
<rect x="270" y="239" width="1" height="29" fill="#00ff00"/>
<rect x="268" y="251" width="5" height="8" fill="#00ff00"/>
<rect x="269" y="252" width="3" height="6" fill="#000"/>
<rect x="278" y="223" width="1" height="34" fill="#00ff00"/>
<rect x="276" y="249" width="5" height="3" fill="#00ff00"/>
<rect x="277" y="250" width="3" height="1" fill="#000"/>
<rect x="286" y="233" width="1" height="40" fill="#00ff00"/>
<rect x="284" y="238" width="5" height="10" fill="#00ff00"/>
<rect x="285" y="239" width="3" height="8" fill="#000"/>
<rect x="294" y="233" width="1" height="18" fill="#00ff00"/>
<rect x="292" y="238" width="5" height="12" fill="#00ff00"/>
<rect x="293" y="239" width="3" height="10" fill="#fff"/>
<rect x="302" y="239" width="1" height="14" fill="#00ff00"/>
<rect x="300" y="250" width="5" height="3" fill="#00ff00"/>
<rect x="301" y="251" width="3" height="1" fill="#000"/>
<rect x="310" y="250" width="1" height="17" fill="#00ff00"/>
<rect x="308" y="255" width="5" height="8" fill="#00ff00"/>
<rect x="309" y="256" width="3" height="6" fill="#fff"/>
<rect x="318" y="256" width="1" height="13" fill="#00ff00"/>
<rect x="316" y="262" width="5" height="3" fill="#00ff00"/>
<rect x="317" y="263" width="3" height="1" fill="#fff"/>
<rect x="326" y="228" width="1" height="38" fill="#00ff00"/>
<rect x="324" y="235" width="5" height="30" fill="#00ff00"/>
<rect x="325" y="236" width="3" height="28" fill="#000"/>
<rect x="334" y="188" width="1" height="52" fill="#00ff00"/>
<rect x="332" y="192" width="5" height="43" fill="#00ff00"/>
<rect x="333" y="193" width="3" height="41" fill="#000"/>
<rect x="342" y="169" width="1" height="50" fill="#00ff00"/>
<rect x="340" y="191" width="5" height="17" fill="#00ff00"/>
<rect x="341" y="192" width="3" height="15" fill="#fff"/>
<rect x="350" y="185" width="1" height="27" fill="#00ff00"/>
<rect x="348" y="197" width="5" height="9" fill="#00ff00"/>
<rect x="349" y="198" width="3" height="7" fill="#000"/>
<rect x="358" y="195" width="1" height="25" fill="#00ff00"/>
<rect x="356" y="196" width="5" height="21" fill="#00ff00"/>
<rect x="357" y="197" width="3" height="19" fill="#fff"/>
<rect x="366" y="206" width="1" height="16" fill="#00ff00"/>
<rect x="364" y="213" width="5" height="4" fill="#00ff00"/>
<rect x="365" y="214" width="3" height="2" fill="#000"/>
<rect x="374" y="195" width="1" height="20" fill="#00ff00"/>
<rect x="372" y="202" width="5" height="13" fill="#00ff00"/>
<rect x="373" y="203" width="3" height="11" fill="#000"/>
<rect x="382" y="186" width="1" height="21" fill="#00ff00"/>
<rect x="380" y="191" width="5" height="12" fill="#00ff00"/>
<rect x="381" y="192" width="3" height="10" fill="#000"/>
<rect x="390" y="177" width="1" height="20" fill="#00ff00"/>
<rect x="388" y="184" width="5" height="13" fill="#00ff00"/>
<rect x="389" y="185" width="3" height="11" fill="#000"/>
<rect x="398" y="178" width="1" height="11" fill="#00ff00"/>
<rect x="396" y="181" width="5" height="2" fill="#00ff00"/>
<rect x="406" y="159" width="1" height="19" fill="#00ff00"/>
<rect x="404" y="161" width="5" height="11" fill="#00ff00"/>
<rect x="405" y="162" width="3" height="9" fill="#000"/>
<rect x="414" y="141" width="1" height="27" fill="#00ff00"/>
<rect x="412" y="146" width="5" height="19" fill="#00ff00"/>
<rect x="413" y="147" width="3" height="17" fill="#000"/>
<rect x="422" y="143" width="1" height="22" fill="#00ff00"/>
<rect x="420" y="152" width="5" height="10" fill="#00ff00"/>
<rect x="421" y="153" width="3" height="8" fill="#fff"/>
<rect x="430" y="147" width="1" height="20" fill="#00ff00"/>
<rect x="428" y="148" width="5" height="13" fill="#00ff00"/>
<rect x="429" y="149" width="3" height="11" fill="#000"/>
<rect x="438" y="156" width="1" height="29" fill="#00ff00"/>
<rect x="436" y="162" width="5" height="11" fill="#00ff00"/>
<rect x="437" y="163" width="3" height="9" fill="#fff"/>
<rect x="446" y="172" width="1" height="53" fill="#00ff00"/>
<rect x="444" y="174" width="5" height="38" fill="#00ff00"/>
<rect x="445" y="175" width="3" height="36" fill="#fff"/>
<rect x="454" y="203" width="1" height="27" fill="#00ff00"/>
<rect x="452" y="208" width="5" height="16" fill="#00ff00"/>
<rect x="453" y="209" width="3" height="14" fill="#000"/>
<rect x="462" y="203" width="1" height="46" fill="#00ff00"/>
<rect x="460" y="208" width="5" height="35" fill="#00ff00"/>
<rect x="461" y="209" width="3" height="33" fill="#fff"/>
<rect x="470" y="212" width="1" height="44" fill="#00ff00"/>
<rect x="468" y="221" width="5" height="23" fill="#00ff00"/>
<rect x="469" y="222" width="3" height="21" fill="#000"/>
<rect x="478" y="206" width="1" height="19" fill="#00ff00"/>
<rect x="476" y="211" width="5" height="12" fill="#00ff00"/>
<rect x="477" y="212" width="3" height="10" fill="#000"/>
<rect x="486" y="182" width="1" height="33" fill="#00ff00"/>
<rect x="484" y="191" width="5" height="21" fill="#00ff00"/>
<rect x="485" y="192" width="3" height="19" fill="#000"/>
<rect x="494" y="167" width="1" height="25" fill="#00ff00"/>
<rect x="492" y="174" width="5" height="18" fill="#00ff00"/>
<rect x="493" y="175" width="3" height="16" fill="#000"/>
<rect x="502" y="163" width="1" height="19" fill="#00ff00"/>
<rect x="500" y="174" width="5" height="1" fill="#00ff00"/>
<rect x="510" y="166" width="1" height="24" fill="#00ff00"/>
<rect x="508" y="174" width="5" height="2" fill="#00ff00"/>
<rect x="518" y="156" width="1" height="23" fill="#00ff00"/>
<rect x="516" y="169" width="5" height="10" fill="#00ff00"/>
<rect x="517" y="170" width="3" height="8" fill="#000"/>
<rect x="526" y="160" width="1" height="25" fill="#00ff00"/>
<rect x="524" y="171" width="5" height="12" fill="#00ff00"/>
<rect x="525" y="172" width="3" height="10" fill="#fff"/>
<rect x="534" y="173" width="1" height="19" fill="#00ff00"/>
<rect x="532" y="183" width="5" height="4" fill="#00ff00"/>
<rect x="533" y="184" width="3" height="2" fill="#000"/>
<rect x="542" y="177" width="1" height="35" fill="#00ff00"/>
<rect x="540" y="184" width="5" height="25" fill="#00ff00"/>
<rect x="541" y="185" width="3" height="23" fill="#fff"/>
<rect x="550" y="196" width="1" height="21" fill="#00ff00"/>
<rect x="548" y="207" width="5" height="2" fill="#00ff00"/>
<rect x="558" y="194" width="1" height="31" fill="#00ff00"/>
<rect x="556" y="209" width="5" height="11" fill="#00ff00"/>
<rect x="557" y="210" width="3" height="9" fill="#fff"/>
<rect x="566" y="207" width="1" height="31" fill="#00ff00"/>
<rect x="564" y="219" width="5" height="18" fill="#00ff00"/>
<rect x="565" y="220" width="3" height="16" fill="#fff"/>
<rect x="574" y="255" width="1" height="33" fill="#00ff00"/>
<rect x="572" y="256" width="5" height="27" fill="#00ff00"/>
<rect x="573" y="257" width="3" height="25" fill="#fff"/>
<rect x="582" y="272" width="1" height="28" fill="#00ff00"/>
<rect x="580" y="274" width="5" height="10" fill="#00ff00"/>
<rect x="581" y="275" width="3" height="8" fill="#000"/>
<rect x="590" y="262" width="1" height="30" fill="#00ff00"/>
<rect x="588" y="276" width="5" height="8" fill="#00ff00"/>
<rect x="589" y="277" width="3" height="6" fill="#fff"/>
<rect x="598" y="281" width="1" height="41" fill="#00ff00"/>
<rect x="596" y="283" width="5" height="20" fill="#00ff00"/>
<rect x="597" y="284" width="3" height="18" fill="#fff"/>
<rect x="606" y="290" width="1" height="50" fill="#00ff00"/>
<rect x="604" y="302" width="5" height="37" fill="#00ff00"/>
<rect x="605" y="303" width="3" height="35" fill="#fff"/>
<rect x="614" y="315" width="1" height="27" fill="#00ff00"/>
<rect x="612" y="327" width="5" height="10" fill="#00ff00"/>
<rect x="613" y="328" width="3" height="8" fill="#000"/>
<rect x="622" y="271" width="1" height="66" fill="#00ff00"/>
<rect x="620" y="275" width="5" height="52" fill="#00ff00"/>
<rect x="621" y="276" width="3" height="50" fill="#000"/>
<rect x="630" y="247" width="1" height="41" fill="#00ff00"/>
<rect x="628" y="261" width="5" height="14" fill="#00ff00"/>
<rect x="629" y="262" width="3" height="12" fill="#000"/>
<rect x="638" y="257" width="1" height="14" fill="#00ff00"/>
<rect x="636" y="261" width="5" height="5" fill="#00ff00"/>
<rect x="637" y="262" width="3" height="3" fill="#fff"/>
<rect x="646" y="259" width="1" height="52" fill="#00ff00"/>
<rect x="644" y="265" width="5" height="35" fill="#00ff00"/>
<rect x="645" y="266" width="3" height="33" fill="#fff"/>
<rect x="654" y="279" width="1" height="32" fill="#00ff00"/>
<rect x="652" y="293" width="5" height="16" fill="#00ff00"/>
<rect x="653" y="294" width="3" height="14" fill="#000"/>
<rect x="662" y="264" width="1" height="34" fill="#00ff00"/>
<rect x="660" y="279" width="5" height="16" fill="#00ff00"/>
<rect x="661" y="280" width="3" height="14" fill="#000"/>
<rect x="670" y="251" width="1" height="29" fill="#00ff00"/>
<rect x="668" y="257" width="5" height="22" fill="#00ff00"/>
<rect x="669" y="258" width="3" height="20" fill="#000"/>
<rect x="678" y="255" width="1" height="25" fill="#00ff00"/>
<rect x="676" y="257" width="5" height="22" fill="#00ff00"/>
<rect x="677" y="258" width="3" height="20" fill="#fff"/>
<rect x="686" y="264" width="1" height="20" fill="#00ff00"/>
<rect x="684" y="276" width="5" height="4" fill="#00ff00"/>
<rect x="685" y="277" width="3" height="2" fill="#000"/>
<rect x="694" y="266" width="1" height="19" fill="#00ff00"/>
<rect x="692" y="272" width="5" height="8" fill="#00ff00"/>
<rect x="693" y="273" width="3" height="6" fill="#fff"/>
<rect x="702" y="275" width="1" height="30" fill="#00ff00"/>
<rect x="700" y="276" width="5" height="16" fill="#00ff00"/>
<rect x="701" y="277" width="3" height="14" fill="#fff"/>
<rect x="710" y="241" width="1" height="51" fill="#00ff00"/>
<rect x="708" y="248" width="5" height="44" fill="#00ff00"/>
<rect x="709" y="249" width="3" height="42" fill="#000"/>
<rect x="718" y="244" width="1" height="28" fill="#00ff00"/>
<rect x="716" y="250" width="5" height="9" fill="#00ff00"/>
<rect x="717" y="251" width="3" height="7" fill="#fff"/>
<rect x="726" y="249" width="1" height="44" fill="#00ff00"/>
<rect x="724" y="259" width="5" height="10" fill="#00ff00"/>
<rect x="725" y="260" width="3" height="8" fill="#fff"/>
<rect x="734" y="268" width="1" height="45" fill="#00ff00"/>
<rect x="732" y="301" width="5" height="7" fill="#00ff00"/>
<rect x="733" y="302" width="3" height="5" fill="#fff"/>
<rect x="742" y="276" width="1" height="58" fill="#00ff00"/>
<rect x="740" y="307" width="5" height="19" fill="#00ff00"/>
<rect x="741" y="308" width="3" height="17" fill="#fff"/>
<rect x="750" y="311" width="1" height="40" fill="#00ff00"/>
<rect x="748" y="324" width="5" height="25" fill="#00ff00"/>
<rect x="749" y="325" width="3" height="23" fill="#fff"/>
<rect x="758" y="331" width="1" height="32" fill="#00ff00"/>
<rect x="756" y="347" width="5" height="15" fill="#00ff00"/>
<rect x="757" y="348" width="3" height="13" fill="#fff"/>
<rect x="766" y="350" width="1" height="138" fill="#00ff00"/>
<rect x="764" y="362" width="5" height="81" fill="#00ff00"/>
<rect x="765" y="363" width="3" height="79" fill="#fff"/>
<rect x="774" y="398" width="1" height="89" fill="#00ff00"/>
<rect x="772" y="418" width="5" height="66" fill="#00ff00"/>
<rect x="773" y="419" width="3" height="64" fill="#000"/>
<rect x="782" y="383" width="1" height="61" fill="#00ff00"/>
<rect x="780" y="418" width="5" height="16" fill="#00ff00"/>
<rect x="781" y="419" width="3" height="14" fill="#fff"/>
<rect x="790" y="392" width="1" height="50" fill="#00ff00"/>
<rect x="788" y="397" width="5" height="37" fill="#00ff00"/>
<rect x="789" y="398" width="3" height="35" fill="#000"/>
<rect x="798" y="388" width="1" height="72" fill="#00ff00"/>
<rect x="796" y="397" width="5" height="50" fill="#00ff00"/>
<rect x="797" y="398" width="3" height="48" fill="#fff"/>
<rect x="806" y="435" width="1" height="43" fill="#00ff00"/>
<rect x="804" y="446" width="5" height="16" fill="#00ff00"/>
<rect x="805" y="447" width="3" height="14" fill="#fff"/>
<rect x="814" y="506" width="1" height="10" fill="#00ff00"/>
<rect x="812" y="510" width="5" height="4" fill="#00ff00"/>
<rect x="813" y="511" width="3" height="2" fill="#000"/>
<rect x="822" y="496" width="1" height="232" fill="#00ff00"/>
<rect x="820" y="513" width="5" height="70" fill="#00ff00"/>
<rect x="821" y="514" width="3" height="68" fill="#fff"/>
<rect x="830" y="504" width="1" height="94" fill="#00ff00"/>
<rect x="828" y="537" width="5" height="46" fill="#00ff00"/>
<rect x="829" y="538" width="3" height="44" fill="#000"/>
<rect x="838" y="514" width="1" height="58" fill="#00ff00"/>
<rect x="836" y="537" width="5" height="28" fill="#00ff00"/>
<rect x="837" y="538" width="3" height="26" fill="#fff"/>
<rect x="846" y="550" width="1" height="146" fill="#00ff00"/>
<rect x="844" y="564" width="5" height="82" fill="#00ff00"/>
<rect x="845" y="565" width="3" height="80" fill="#fff"/>
<rect x="854" y="564" width="1" height="108" fill="#00ff00"/>
<rect x="852" y="610" width="5" height="36" fill="#00ff00"/>
<rect x="853" y="611" width="3" height="34" fill="#000"/>
<rect x="862" y="582" width="1" height="51" fill="#00ff00"/>
<rect x="860" y="607" width="5" height="18" fill="#00ff00"/>
<rect x="861" y="608" width="3" height="16" fill="#000"/>
<rect x="870" y="595" width="1" height="148" fill="#00ff00"/>
<rect x="868" y="606" width="5" height="111" fill="#00ff00"/>
<rect x="869" y="607" width="3" height="109" fill="#fff"/>
<rect x="878" y="656" width="1" height="93" fill="#00ff00"/>
<rect x="876" y="710" width="5" height="7" fill="#00ff00"/>
<rect x="877" y="711" width="3" height="5" fill="#000"/>
<rect x="886" y="705" width="1" height="151" fill="#00ff00"/>
<rect x="884" y="710" width="5" height="107" fill="#00ff00"/>
<rect x="885" y="711" width="3" height="105" fill="#fff"/>
<rect x="894" y="670" width="1" height="180" fill="#00ff00"/>
<rect x="892" y="765" width="5" height="52" fill="#00ff00"/>
<rect x="893" y="766" width="3" height="50" fill="#000"/>
<rect x="902" y="673" width="1" height="132" fill="#00ff00"/>
<rect x="900" y="726" width="5" height="39" fill="#00ff00"/>
<rect x="901" y="727" width="3" height="37" fill="#000"/>
<rect x="910" y="717" width="1" height="22" fill="#00ff00"/>
<rect x="908" y="728" width="5" height="2" fill="#00ff00"/>
<rect x="918" y="699" width="1" height="99" fill="#00ff00"/>
<rect x="916" y="706" width="5" height="23" fill="#00ff00"/>
<rect x="917" y="707" width="3" height="21" fill="#000"/>
<rect x="926" y="614" width="1" height="96" fill="#00ff00"/>
<rect x="924" y="628" width="5" height="81" fill="#00ff00"/>
<rect x="925" y="629" width="3" height="79" fill="#000"/>
<rect x="934" y="566" width="1" height="88" fill="#00ff00"/>
<rect x="932" y="628" width="5" height="11" fill="#00ff00"/>
<rect x="933" y="629" width="3" height="9" fill="#fff"/>
<rect x="942" y="619" width="1" height="83" fill="#00ff00"/>
<rect x="940" y="638" width="5" height="7" fill="#00ff00"/>
<rect x="941" y="639" width="3" height="5" fill="#fff"/>
<rect x="950" y="603" width="1" height="71" fill="#00ff00"/>
<rect x="948" y="622" width="5" height="23" fill="#00ff00"/>
<rect x="949" y="623" width="3" height="21" fill="#000"/>
<rect x="958" y="617" width="1" height="44" fill="#00ff00"/>
<rect x="956" y="624" width="5" height="13" fill="#00ff00"/>
<rect x="957" y="625" width="3" height="11" fill="#000"/>
<rect x="966" y="587" width="1" height="70" fill="#00ff00"/>
<rect x="964" y="624" width="5" height="30" fill="#00ff00"/>
<rect x="965" y="625" width="3" height="28" fill="#fff"/>
<rect x="974" y="630" width="1" height="78" fill="#00ff00"/>
<rect x="972" y="653" width="5" height="41" fill="#00ff00"/>
<rect x="973" y="654" width="3" height="39" fill="#fff"/>
<rect x="982" y="670" width="1" height="36" fill="#00ff00"/>
<rect x="980" y="678" width="5" height="19" fill="#00ff00"/>
<rect x="981" y="679" width="3" height="17" fill="#000"/>
<rect x="990" y="672" width="1" height="41" fill="#00ff00"/>
<rect x="988" y="678" width="5" height="26" fill="#00ff00"/>
<rect x="989" y="679" width="3" height="24" fill="#fff"/>
<rect x="998" y="618" width="1" height="81" fill="#00ff00"/>
<rect x="996" y="626" width="5" height="65" fill="#00ff00"/>
<rect x="997" y="627" width="3" height="63" fill="#000"/>
<rect x="1006" y="567" width="1" height="64" fill="#00ff00"/>
<rect x="1004" y="597" width="5" height="29" fill="#00ff00"/>
<rect x="1005" y="598" width="3" height="27" fill="#000"/>
<rect x="1014" y="549" width="1" height="79" fill="#00ff00"/>
<rect x="1012" y="563" width="5" height="36" fill="#00ff00"/>
<rect x="1013" y="564" width="3" height="34" fill="#000"/>
<rect x="1022" y="510" width="1" height="67" fill="#00ff00"/>
<rect x="1020" y="518" width="5" height="47" fill="#00ff00"/>
<rect x="1021" y="519" width="3" height="45" fill="#000"/>
<rect x="1030" y="507" width="1" height="24" fill="#00ff00"/>
<rect x="1028" y="513" width="5" height="4" fill="#00ff00"/>
<rect x="1029" y="514" width="3" height="2" fill="#000"/>
<rect x="1038" y="508" width="1" height="29" fill="#00ff00"/>
<rect x="1036" y="511" width="5" height="7" fill="#00ff00"/>
<rect x="1037" y="512" width="3" height="5" fill="#fff"/>
<rect x="1046" y="498" width="1" height="30" fill="#00ff00"/>
<rect x="1044" y="501" width="5" height="15" fill="#00ff00"/>
<rect x="1045" y="502" width="3" height="13" fill="#000"/>
<rect x="1054" y="499" width="1" height="68" fill="#00ff00"/>
<rect x="1052" y="502" width="5" height="56" fill="#00ff00"/>
<rect x="1053" y="503" width="3" height="54" fill="#fff"/>
<rect x="1062" y="539" width="1" height="33" fill="#00ff00"/>
<rect x="1060" y="540" width="5" height="18" fill="#00ff00"/>
<rect x="1061" y="541" width="3" height="16" fill="#000"/>
<rect x="1070" y="523" width="1" height="27" fill="#00ff00"/>
<rect x="1068" y="533" width="5" height="7" fill="#00ff00"/>
<rect x="1069" y="534" width="3" height="5" fill="#000"/>
<rect x="1078" y="529" width="1" height="21" fill="#00ff00"/>
<rect x="1076" y="531" width="5" height="15" fill="#00ff00"/>
<rect x="1077" y="532" width="3" height="13" fill="#fff"/>
<rect x="1086" y="544" width="1" height="44" fill="#00ff00"/>
<rect x="1084" y="545" width="5" height="24" fill="#00ff00"/>
<rect x="1085" y="546" width="3" height="22" fill="#fff"/>
<rect x="1094" y="546" width="1" height="23" fill="#00ff00"/>
<rect x="1092" y="547" width="5" height="20" fill="#00ff00"/>
<rect x="1093" y="548" width="3" height="18" fill="#000"/>
<rect x="1102" y="508" width="1" height="44" fill="#00ff00"/>
<rect x="1100" y="528" width="5" height="20" fill="#00ff00"/>
<rect x="1101" y="529" width="3" height="18" fill="#000"/>
<rect x="1110" y="498" width="1" height="37" fill="#00ff00"/>
<rect x="1108" y="518" width="5" height="10" fill="#00ff00"/>
<rect x="1109" y="519" width="3" height="8" fill="#000"/>
<rect x="1118" y="487" width="1" height="38" fill="#00ff00"/>
<rect x="1116" y="490" width="5" height="32" fill="#00ff00"/>
<rect x="1117" y="491" width="3" height="30" fill="#000"/>
<rect x="1126" y="477" width="1" height="23" fill="#00ff00"/>
<rect x="1124" y="487" width="5" height="3" fill="#00ff00"/>
<rect x="1125" y="488" width="3" height="1" fill="#000"/>
<rect x="1134" y="458" width="1" height="33" fill="#00ff00"/>
<rect x="1132" y="460" width="5" height="29" fill="#00ff00"/>
<rect x="1133" y="461" width="3" height="27" fill="#000"/>
<rect x="1142" y="448" width="1" height="45" fill="#00ff00"/>
<rect x="1140" y="464" width="5" height="5" fill="#00ff00"/>
<rect x="1141" y="465" width="3" height="3" fill="#fff"/>
<rect x="1150" y="466" width="1" height="61" fill="#00ff00"/>
<rect x="1148" y="468" width="5" height="55" fill="#00ff00"/>
<rect x="1149" y="469" width="3" height="53" fill="#fff"/>
<rect x="1158" y="516" width="1" height="37" fill="#00ff00"/>
<rect x="1156" y="525" width="5" height="5" fill="#00ff00"/>
<rect x="1157" y="526" width="3" height="3" fill="#000"/>
<rect x="1166" y="504" width="1" height="28" fill="#00ff00"/>
<rect x="1164" y="525" width="5" height="5" fill="#00ff00"/>
<rect x="1165" y="526" width="3" height="3" fill="#fff"/>
<rect x="1174" y="525" width="1" height="37" fill="#00ff00"/>
<rect x="1172" y="528" width="5" height="30" fill="#00ff00"/>
<rect x="1173" y="529" width="3" height="28" fill="#fff"/>
<rect x="1182" y="497" width="1" height="75" fill="#00ff00"/>
<rect x="1180" y="505" width="5" height="53" fill="#00ff00"/>
<rect x="1181" y="506" width="3" height="51" fill="#000"/>
<rect x="1190" y="469" width="1" height="48" fill="#00ff00"/>
<rect x="1188" y="473" width="5" height="32" fill="#00ff00"/>
<rect x="1189" y="474" width="3" height="30" fill="#000"/>
<rect x="1198" y="447" width="1" height="39" fill="#00ff00"/>
<rect x="1196" y="464" width="5" height="13" fill="#00ff00"/>
<rect x="1197" y="465" width="3" height="11" fill="#000"/>
<rect x="1206" y="448" width="1" height="51" fill="#00ff00"/>
<rect x="1204" y="464" width="5" height="27" fill="#00ff00"/>
<rect x="1205" y="465" width="3" height="25" fill="#fff"/>
<rect x="1214" y="467" width="1" height="37" fill="#00ff00"/>
<rect x="1212" y="488" width="5" height="15" fill="#00ff00"/>
<rect x="1213" y="489" width="3" height="13" fill="#fff"/>
<rect x="1222" y="485" width="1" height="41" fill="#00ff00"/>
<rect x="1220" y="492" width="5" height="9" fill="#00ff00"/>
<rect x="1221" y="493" width="3" height="7" fill="#000"/>
<rect x="1230" y="478" width="1" height="46" fill="#00ff00"/>
<rect x="1228" y="492" width="5" height="27" fill="#00ff00"/>
<rect x="1229" y="493" width="3" height="25" fill="#fff"/>
<rect x="1238" y="452" width="1" height="72" fill="#00ff00"/>
<rect x="1236" y="456" width="5" height="60" fill="#00ff00"/>
<rect x="1237" y="457" width="3" height="58" fill="#000"/>
<rect x="1246" y="409" width="1" height="55" fill="#00ff00"/>
<rect x="1244" y="437" width="5" height="21" fill="#00ff00"/>
<rect x="1245" y="438" width="3" height="19" fill="#000"/>
<rect x="1254" y="400" width="1" height="43" fill="#00ff00"/>
<rect x="1252" y="411" width="5" height="28" fill="#00ff00"/>
<rect x="1253" y="412" width="3" height="26" fill="#000"/>
<rect x="1262" y="404" width="1" height="29" fill="#00ff00"/>
<rect x="1260" y="414" width="5" height="13" fill="#00ff00"/>
<rect x="1261" y="415" width="3" height="11" fill="#fff"/>
<rect x="1270" y="417" width="1" height="41" fill="#00ff00"/>
<rect x="1268" y="427" width="5" height="14" fill="#00ff00"/>
<rect x="1269" y="428" width="3" height="12" fill="#fff"/>
<rect x="1278" y="430" width="1" height="30" fill="#00ff00"/>
<rect x="1276" y="432" width="5" height="11" fill="#00ff00"/>
<rect x="1277" y="433" width="3" height="9" fill="#000"/>
<rect x="1286" y="370" width="1" height="67" fill="#00ff00"/>
<rect x="1284" y="385" width="5" height="48" fill="#00ff00"/>
<rect x="1285" y="386" width="3" height="46" fill="#000"/>
<rect x="1294" y="364" width="1" height="38" fill="#00ff00"/>
<rect x="1292" y="384" width="5" height="10" fill="#00ff00"/>
<rect x="1293" y="385" width="3" height="8" fill="#fff"/>
<rect x="1302" y="372" width="1" height="30" fill="#00ff00"/>
<rect x="1300" y="389" width="5" height="5" fill="#00ff00"/>
<rect x="1301" y="390" width="3" height="3" fill="#000"/>
<rect x="1310" y="363" width="1" height="35" fill="#00ff00"/>
<rect x="1308" y="367" width="5" height="23" fill="#00ff00"/>
<rect x="1309" y="368" width="3" height="21" fill="#000"/>
<rect x="1318" y="302" width="1" height="78" fill="#00ff00"/>
<rect x="1316" y="305" width="5" height="72" fill="#00ff00"/>
<rect x="1317" y="306" width="3" height="70" fill="#000"/>
<rect x="1326" y="216" width="1" height="100" fill="#00ff00"/>
<rect x="1324" y="220" width="5" height="87" fill="#00ff00"/>
<rect x="1325" y="221" width="3" height="85" fill="#000"/>
<rect x="1334" y="179" width="1" height="61" fill="#00ff00"/>
<rect x="1332" y="199" width="5" height="23" fill="#00ff00"/>
<rect x="1333" y="200" width="3" height="21" fill="#000"/>
<rect x="1342" y="158" width="1" height="66" fill="#00ff00"/>
<rect x="1340" y="179" width="5" height="24" fill="#00ff00"/>
<rect x="1341" y="180" width="3" height="22" fill="#000"/>
<rect x="1350" y="132" width="1" height="56" fill="#00ff00"/>
<rect x="1348" y="151" width="5" height="30" fill="#00ff00"/>
<rect x="1349" y="152" width="3" height="28" fill="#000"/>
<rect x="1358" y="130" width="1" height="60" fill="#00ff00"/>
<rect x="1356" y="152" width="5" height="11" fill="#00ff00"/>
<rect x="1357" y="153" width="3" height="9" fill="#fff"/>
<rect x="1366" y="156" width="1" height="87" fill="#00ff00"/>
<rect x="1364" y="164" width="5" height="53" fill="#00ff00"/>
<rect x="1365" y="165" width="3" height="51" fill="#fff"/>
<rect x="1374" y="186" width="1" height="46" fill="#00ff00"/>
<rect x="1372" y="215" width="5" height="5" fill="#00ff00"/>
<rect x="1373" y="216" width="3" height="3" fill="#fff"/>
<rect x="1382" y="216" width="1" height="93" fill="#00ff00"/>
<rect x="1380" y="219" width="5" height="81" fill="#00ff00"/>
<rect x="1381" y="220" width="3" height="79" fill="#fff"/>
<rect x="1390" y="249" width="1" height="86" fill="#00ff00"/>
<rect x="1388" y="277" width="5" height="25" fill="#00ff00"/>
<rect x="1389" y="278" width="3" height="23" fill="#000"/>
<rect x="1398" y="247" width="1" height="82" fill="#00ff00"/>
<rect x="1396" y="254" width="5" height="40" fill="#00ff00"/>
<rect x="1397" y="255" width="3" height="38" fill="#000"/>
<rect x="1406" y="211" width="1" height="87" fill="#00ff00"/>
<rect x="1404" y="254" width="5" height="15" fill="#00ff00"/>
<rect x="1405" y="255" width="3" height="13" fill="#fff"/>
<rect x="1414" y="250" width="1" height="40" fill="#00ff00"/>
<rect x="1412" y="268" width="5" height="13" fill="#00ff00"/>
<rect x="1413" y="269" width="3" height="11" fill="#fff"/>
<rect x="1422" y="270" width="1" height="44" fill="#00ff00"/>
<rect x="1420" y="283" width="5" height="16" fill="#00ff00"/>
<rect x="1421" y="284" width="3" height="14" fill="#fff"/>
<rect x="1430" y="272" width="1" height="43" fill="#00ff00"/>
<rect x="1428" y="299" width="5" height="13" fill="#00ff00"/>
<rect x="1429" y="300" width="3" height="11" fill="#fff"/>
<rect x="1438" y="268" width="1" height="60" fill="#00ff00"/>
<rect x="1436" y="271" width="5" height="56" fill="#00ff00"/>
<rect x="1437" y="272" width="3" height="54" fill="#000"/>
<rect x="1446" y="244" width="1" height="60" fill="#00ff00"/>
<rect x="1444" y="271" width="5" height="3" fill="#00ff00"/>
<rect x="1445" y="272" width="3" height="1" fill="#fff"/>
<rect x="1454" y="256" width="1" height="43" fill="#00ff00"/>
<rect x="1452" y="273" width="5" height="15" fill="#00ff00"/>
<rect x="1453" y="274" width="3" height="13" fill="#fff"/>
<rect x="1462" y="271" width="1" height="27" fill="#00ff00"/>
<rect x="1460" y="273" width="5" height="19" fill="#00ff00"/>
<rect x="1461" y="274" width="3" height="17" fill="#000"/>
<rect x="1470" y="268" width="1" height="30" fill="#00ff00"/>
<rect x="1468" y="272" width="5" height="12" fill="#00ff00"/>
<rect x="1469" y="273" width="3" height="10" fill="#fff"/>
<rect x="1478" y="263" width="1" height="34" fill="#00ff00"/>
<rect x="1476" y="272" width="5" height="20" fill="#00ff00"/>
<rect x="1477" y="273" width="3" height="18" fill="#000"/>
<rect x="1486" y="239" width="1" height="35" fill="#00ff00"/>
<rect x="1484" y="241" width="5" height="32" fill="#00ff00"/>
<rect x="1485" y="242" width="3" height="30" fill="#000"/>
<rect x="1494" y="231" width="1" height="38" fill="#00ff00"/>
<rect x="1492" y="242" width="5" height="9" fill="#00ff00"/>
<rect x="1493" y="243" width="3" height="7" fill="#fff"/>
<rect x="1502" y="230" width="1" height="26" fill="#00ff00"/>
<rect x="1500" y="245" width="5" height="7" fill="#00ff00"/>
<rect x="1501" y="246" width="3" height="5" fill="#000"/>
<rect x="1510" y="231" width="1" height="19" fill="#00ff00"/>
<rect x="1508" y="236" width="5" height="10" fill="#00ff00"/>
<rect x="1509" y="237" width="3" height="8" fill="#000"/>
<rect x="1518" y="209" width="1" height="38" fill="#00ff00"/>
<rect x="1516" y="225" width="5" height="16" fill="#00ff00"/>
<rect x="1517" y="226" width="3" height="14" fill="#000"/>
<rect x="1526" y="213" width="1" height="27" fill="#00ff00"/>
<rect x="1524" y="226" width="5" height="6" fill="#00ff00"/>
<rect x="1525" y="227" width="3" height="4" fill="#fff"/>
<rect x="1534" y="218" width="1" height="22" fill="#00ff00"/>
<rect x="1532" y="223" width="5" height="9" fill="#00ff00"/>
<rect x="1533" y="224" width="3" height="7" fill="#000"/>
<rect x="1542" y="213" width="1" height="24" fill="#00ff00"/>
<rect x="1540" y="224" width="5" height="11" fill="#00ff00"/>
<rect x="1541" y="225" width="3" height="9" fill="#fff"/>
<rect x="1550" y="233" width="1" height="39" fill="#00ff00"/>
<rect x="1548" y="234" width="5" height="18" fill="#00ff00"/>
<rect x="1549" y="235" width="3" height="16" fill="#fff"/>
<rect x="1558" y="234" width="1" height="22" fill="#00ff00"/>
<rect x="1556" y="243" width="5" height="7" fill="#00ff00"/>
<rect x="1557" y="244" width="3" height="5" fill="#000"/>
<rect x="1566" y="224" width="1" height="28" fill="#00ff00"/>
<rect x="1564" y="227" width="5" height="18" fill="#00ff00"/>
<rect x="1565" y="228" width="3" height="16" fill="#000"/>
<rect x="1574" y="202" width="1" height="33" fill="#00ff00"/>
<rect x="1572" y="220" width="5" height="9" fill="#00ff00"/>
<rect x="1573" y="221" width="3" height="7" fill="#000"/>
<rect x="1582" y="211" width="1" height="21" fill="#00ff00"/>
<rect x="1580" y="221" width="5" height="9" fill="#00ff00"/>
<rect x="1581" y="222" width="3" height="7" fill="#fff"/>
<rect x="1590" y="218" width="1" height="12" fill="#00ff00"/>
<rect x="1588" y="223" width="5" height="5" fill="#00ff00"/>
<rect x="1589" y="224" width="3" height="3" fill="#000"/>
<rect x="1598" y="200" width="1" height="30" fill="#00ff00"/>
<rect x="1596" y="205" width="5" height="20" fill="#00ff00"/>
<rect x="1597" y="206" width="3" height="18" fill="#000"/>
<rect x="1606" y="144" width="1" height="73" fill="#00ff00"/>
<rect x="1604" y="162" width="5" height="45" fill="#00ff00"/>
<rect x="1605" y="163" width="3" height="43" fill="#000"/>
<rect x="1614" y="127" width="1" height="43" fill="#00ff00"/>
<rect x="1612" y="145" width="5" height="20" fill="#00ff00"/>
<rect x="1613" y="146" width="3" height="18" fill="#000"/>
<rect x="1622" y="133" width="1" height="47" fill="#00ff00"/>
<rect x="1620" y="143" width="5" height="33" fill="#00ff00"/>
<rect x="1621" y="144" width="3" height="31" fill="#fff"/>
<rect x="1630" y="169" width="1" height="55" fill="#00ff00"/>
<rect x="1628" y="177" width="5" height="20" fill="#00ff00"/>
<rect x="1629" y="178" width="3" height="18" fill="#fff"/>
<rect x="1638" y="200" width="1" height="14" fill="#00ff00"/>
<rect x="1636" y="200" width="5" height="7" fill="#00ff00"/>
<rect x="1637" y="201" width="3" height="5" fill="#000"/>
<rect x="1646" y="188" width="1" height="26" fill="#00ff00"/>
<rect x="1644" y="202" width="5" height="6" fill="#00ff00"/>
<rect x="1645" y="203" width="3" height="4" fill="#fff"/>
<rect x="1654" y="191" width="1" height="18" fill="#00ff00"/>
<rect x="1652" y="196" width="5" height="8" fill="#00ff00"/>
<rect x="1653" y="197" width="3" height="6" fill="#000"/>
<rect x="1662" y="193" width="1" height="32" fill="#00ff00"/>
<rect x="1660" y="195" width="5" height="6" fill="#00ff00"/>
<rect x="1661" y="196" width="3" height="4" fill="#fff"/>
<rect x="1670" y="172" width="1" height="42" fill="#00ff00"/>
<rect x="1668" y="185" width="5" height="12" fill="#00ff00"/>
<rect x="1669" y="186" width="3" height="10" fill="#000"/>
<rect x="1678" y="179" width="1" height="35" fill="#00ff00"/>
<rect x="1676" y="186" width="5" height="8" fill="#00ff00"/>
<rect x="1677" y="187" width="3" height="6" fill="#fff"/>
<rect x="1686" y="179" width="1" height="19" fill="#00ff00"/>
<rect x="1684" y="183" width="5" height="13" fill="#00ff00"/>
<rect x="1685" y="184" width="3" height="11" fill="#000"/>
<rect x="1694" y="148" width="1" height="39" fill="#00ff00"/>
<rect x="1692" y="172" width="5" height="13" fill="#00ff00"/>
<rect x="1693" y="173" width="3" height="11" fill="#000"/>
<rect x="1702" y="150" width="1" height="32" fill="#00ff00"/>
<rect x="1700" y="151" width="5" height="22" fill="#00ff00"/>
<rect x="1701" y="152" width="3" height="20" fill="#000"/>
<rect x="1710" y="154" width="1" height="27" fill="#00ff00"/>
<rect x="1708" y="154" width="5" height="24" fill="#00ff00"/>
<rect x="1709" y="155" width="3" height="22" fill="#fff"/>
<rect x="1718" y="167" width="1" height="17" fill="#00ff00"/>
<rect x="1716" y="177" width="5" height="4" fill="#00ff00"/>
<rect x="1717" y="178" width="3" height="2" fill="#fff"/>
<rect x="1726" y="151" width="1" height="31" fill="#00ff00"/>
<rect x="1724" y="166" width="5" height="14" fill="#00ff00"/>
<rect x="1725" y="167" width="3" height="12" fill="#000"/>
<rect x="1734" y="133" width="1" height="37" fill="#00ff00"/>
<rect x="1732" y="140" width="5" height="27" fill="#00ff00"/>
<rect x="1733" y="141" width="3" height="25" fill="#000"/>
<rect x="1742" y="134" width="1" height="26" fill="#00ff00"/>
<rect x="1740" y="141" width="5" height="8" fill="#00ff00"/>
<rect x="1741" y="142" width="3" height="6" fill="#fff"/>
<rect x="1750" y="141" width="1" height="20" fill="#00ff00"/>
<rect x="1748" y="147" width="5" height="3" fill="#00ff00"/>
<rect x="1749" y="148" width="3" height="1" fill="#000"/>
<rect x="1758" y="135" width="1" height="17" fill="#00ff00"/>
<rect x="1756" y="146" width="5" height="3" fill="#00ff00"/>
<rect x="1757" y="147" width="3" height="1" fill="#000"/>
<rect x="1766" y="141" width="1" height="15" fill="#00ff00"/>
<rect x="1764" y="146" width="5" height="6" fill="#00ff00"/>
<rect x="1765" y="147" width="3" height="4" fill="#fff"/>
<rect x="1774" y="135" width="1" height="27" fill="#00ff00"/>
<rect x="1772" y="154" width="5" height="6" fill="#00ff00"/>
<rect x="1773" y="155" width="3" height="4" fill="#fff"/>
<rect x="1782" y="159" width="1" height="28" fill="#00ff00"/>
<rect x="1780" y="159" width="5" height="6" fill="#00ff00"/>
<rect x="1781" y="160" width="3" height="4" fill="#fff"/>
<rect x="1790" y="162" width="1" height="24" fill="#00ff00"/>
<rect x="1788" y="165" width="5" height="15" fill="#00ff00"/>
<rect x="1789" y="166" width="3" height="13" fill="#fff"/>
<rect x="1798" y="166" width="1" height="21" fill="#00ff00"/>
<rect x="1796" y="174" width="5" height="4" fill="#00ff00"/>
<rect x="1797" y="175" width="3" height="2" fill="#000"/>
<rect x="1806" y="141" width="1" height="36" fill="#00ff00"/>
<rect x="1804" y="143" width="5" height="32" fill="#00ff00"/>
<rect x="1805" y="144" width="3" height="30" fill="#000"/>
<rect x="1814" y="131" width="1" height="15" fill="#00ff00"/>
<rect x="1812" y="136" width="5" height="8" fill="#00ff00"/>
<rect x="1813" y="137" width="3" height="6" fill="#000"/>
<rect x="1822" y="99" width="1" height="40" fill="#00ff00"/>
<rect x="1820" y="104" width="5" height="33" fill="#00ff00"/>
<rect x="1821" y="105" width="3" height="31" fill="#000"/>
<rect x="1830" y="73" width="1" height="43" fill="#00ff00"/>
<rect x="1828" y="92" width="5" height="12" fill="#00ff00"/>
<rect x="1829" y="93" width="3" height="10" fill="#000"/>
<rect x="1838" y="49" width="1" height="52" fill="#00ff00"/>
<rect x="1836" y="68" width="5" height="24" fill="#00ff00"/>
<rect x="1837" y="69" width="3" height="22" fill="#000"/>
<rect x="1846" y="48" width="1" height="32" fill="#00ff00"/>
<rect x="1844" y="66" width="5" height="3" fill="#00ff00"/>
<rect x="1845" y="67" width="3" height="1" fill="#fff"/>
<rect x="1854" y="59" width="1" height="36" fill="#00ff00"/>
<rect x="1852" y="68" width="5" height="9" fill="#00ff00"/>
<rect x="1853" y="69" width="3" height="7" fill="#fff"/>
<rect x="1862" y="76" width="1" height="44" fill="#00ff00"/>
<rect x="1860" y="76" width="5" height="32" fill="#00ff00"/>
<rect x="1861" y="77" width="3" height="30" fill="#fff"/>
<rect x="1870" y="94" width="1" height="38" fill="#00ff00"/>
<rect x="1868" y="103" width="5" height="4" fill="#00ff00"/>
<rect x="1869" y="104" width="3" height="2" fill="#000"/>
<rect x="1878" y="91" width="1" height="20" fill="#00ff00"/>
<rect x="1876" y="100" width="5" height="6" fill="#00ff00"/>
<rect x="1877" y="101" width="3" height="4" fill="#fff"/>
<rect x="1886" y="89" width="1" height="58" fill="#00ff00"/>
<rect x="1884" y="105" width="5" height="41" fill="#00ff00"/>
<rect x="1885" y="106" width="3" height="39" fill="#fff"/>
<rect x="1894" y="99" width="1" height="64" fill="#00ff00"/>
<rect x="1892" y="105" width="5" height="42" fill="#00ff00"/>
<rect x="1893" y="106" width="3" height="40" fill="#000"/>
<rect x="1902" y="89" width="1" height="34" fill="#00ff00"/>
<rect x="1900" y="105" width="5" height="15" fill="#00ff00"/>
<rect x="1901" y="106" width="3" height="13" fill="#fff"/>
<rect x="1910" y="91" width="1" height="33" fill="#00ff00"/>
<rect x="1908" y="106" width="5" height="14" fill="#00ff00"/>
<rect x="1909" y="107" width="3" height="12" fill="#000"/>
<rect x="1918" y="103" width="1" height="20" fill="#00ff00"/>
<rect x="1916" y="107" width="5" height="12" fill="#00ff00"/>
<rect x="1917" y="108" width="3" height="10" fill="#fff"/>
<rect x="1926" y="96" width="1" height="35" fill="#00ff00"/>
<rect x="1924" y="118" width="5" height="3" fill="#00ff00"/>
<rect x="1925" y="119" width="3" height="1" fill="#fff"/>
<rect x="1934" y="120" width="1" height="27" fill="#00ff00"/>
<rect x="1932" y="122" width="5" height="15" fill="#00ff00"/>
<rect x="1933" y="123" width="3" height="13" fill="#fff"/>
<rect x="1942" y="130" width="1" height="35" fill="#00ff00"/>
<rect x="1940" y="136" width="5" height="5" fill="#00ff00"/>
<rect x="1941" y="137" width="3" height="3" fill="#fff"/>
<rect x="1950" y="129" width="1" height="41" fill="#00ff00"/>
<rect x="1948" y="140" width="5" height="18" fill="#00ff00"/>
<rect x="1949" y="141" width="3" height="16" fill="#fff"/>
<rect x="1958" y="149" width="1" height="40" fill="#00ff00"/>
<rect x="1956" y="160" width="5" height="29" fill="#00ff00"/>
<rect x="1957" y="161" width="3" height="27" fill="#fff"/>
<rect x="1966" y="185" width="1" height="23" fill="#00ff00"/>
<rect x="1964" y="186" width="5" height="21" fill="#00ff00"/>
<rect x="1965" y="187" width="3" height="19" fill="#fff"/>
<rect x="1974" y="206" width="1" height="35" fill="#00ff00"/>
<rect x="1972" y="206" width="5" height="34" fill="#00ff00"/>
<rect x="1973" y="207" width="3" height="32" fill="#fff"/>
<rect x="1982" y="232" width="1" height="34" fill="#00ff00"/>
<rect x="1980" y="239" width="5" height="14" fill="#00ff00"/>
<rect x="1981" y="240" width="3" height="12" fill="#fff"/>
<rect x="1990" y="233" width="1" height="32" fill="#00ff00"/>
<rect x="1988" y="252" width="5" height="3" fill="#00ff00"/>
<rect x="1989" y="253" width="3" height="1" fill="#fff"/>
</g>
<g>
<rect x="6" y="310" width="1" height="33" fill="#d8bfd8"/>
<rect x="14" y="310" width="1" height="27" fill="#d8bfd8"/>
<rect x="22" y="310" width="1" height="25" fill="#d8bfd8"/>
<rect x="30" y="310" width="1" height="21" fill="#d8bfd8"/>
<rect x="38" y="310" width="1" height="13" fill="#d8bfd8"/>
<rect x="46" y="310" width="1" height="7" fill="#d8bfd8"/>
<rect x="54" y="310" width="1" height="3" fill="#d8bfd8"/>
<rect x="62" y="310" width="1" height="7" fill="#d8bfd8"/>
<rect x="70" y="310" width="1" height="9" fill="#d8bfd8"/>
<rect x="78" y="310" width="1" height="9" fill="#d8bfd8"/>
<rect x="86" y="310" width="1" height="10" fill="#d8bfd8"/>
<rect x="94" y="310" width="1" height="13" fill="#d8bfd8"/>
<rect x="102" y="310" width="1" height="13" fill="#d8bfd8"/>
<rect x="110" y="310" width="1" height="13" fill="#d8bfd8"/>
<rect x="118" y="310" width="1" height="7" fill="#d8bfd8"/>
<rect x="126" y="312" width="1" height="15" fill="#d8bfd8"/>
<rect x="134" y="318" width="1" height="11" fill="#d8bfd8"/>
<rect x="142" y="323" width="1" height="6" fill="#d8bfd8"/>
<rect x="150" y="324" width="1" height="5" fill="#d8bfd8"/>
<rect x="158" y="327" width="1" height="6" fill="#f4a460"/>
<rect x="166" y="323" width="1" height="10" fill="#f4a460"/>
<rect x="174" y="320" width="1" height="20" fill="#f4a460"/>
<rect x="182" y="314" width="1" height="28" fill="#f4a460"/>
<rect x="190" y="314" width="1" height="36" fill="#f4a460"/>
<rect x="198" y="313" width="1" height="38" fill="#f4a460"/>
<rect x="206" y="311" width="1" height="40" fill="#f4a460"/>
<rect x="214" y="307" width="1" height="44" fill="#f4a460"/>
<rect x="222" y="306" width="1" height="45" fill="#f4a460"/>
<rect x="230" y="300" width="1" height="44" fill="#f4a460"/>
<rect x="238" y="297" width="1" height="46" fill="#f4a460"/>
<rect x="246" y="286" width="1" height="57" fill="#f4a460"/>
<rect x="254" y="284" width="1" height="59" fill="#f4a460"/>
<rect x="262" y="284" width="1" height="59" fill="#f4a460"/>
<rect x="270" y="284" width="1" height="59" fill="#f4a460"/>
<rect x="278" y="279" width="1" height="64" fill="#f4a460"/>
<rect x="286" y="273" width="1" height="70" fill="#f4a460"/>
<rect x="294" y="265" width="1" height="70" fill="#f4a460"/>
<rect x="302" y="262" width="1" height="70" fill="#f4a460"/>
<rect x="310" y="262" width="1" height="69" fill="#f4a460"/>
<rect x="318" y="261" width="1" height="69" fill="#f4a460"/>
<rect x="326" y="258" width="1" height="44" fill="#f4a460"/>
<rect x="334" y="256" width="1" height="45" fill="#f4a460"/>
<rect x="342" y="249" width="1" height="46" fill="#f4a460"/>
<rect x="350" y="246" width="1" height="49" fill="#f4a460"/>
<rect x="358" y="246" width="1" height="49" fill="#f4a460"/>
<rect x="366" y="246" width="1" height="49" fill="#f4a460"/>
<rect x="374" y="248" width="1" height="35" fill="#f4a460"/>
<rect x="382" y="245" width="1" height="35" fill="#f4a460"/>
<rect x="390" y="244" width="1" height="36" fill="#f4a460"/>
<rect x="398" y="244" width="1" height="36" fill="#f4a460"/>
<rect x="406" y="244" width="1" height="36" fill="#f4a460"/>
<rect x="414" y="240" width="1" height="40" fill="#f4a460"/>
<rect x="422" y="248" width="1" height="32" fill="#f4a460"/>
<rect x="430" y="249" width="1" height="31" fill="#f4a460"/>
<rect x="438" y="251" width="1" height="29" fill="#f4a460"/>
<rect x="446" y="254" width="1" height="26" fill="#f4a460"/>
<rect x="454" y="254" width="1" height="26" fill="#f4a460"/>
<rect x="462" y="254" width="1" height="26" fill="#f4a460"/>
<rect x="470" y="254" width="1" height="26" fill="#f4a460"/>
<rect x="478" y="251" width="1" height="29" fill="#f4a460"/>
<rect x="486" y="248" width="1" height="32" fill="#f4a460"/>
<rect x="494" y="247" width="1" height="33" fill="#f4a460"/>
<rect x="502" y="246" width="1" height="34" fill="#f4a460"/>
<rect x="510" y="246" width="1" height="34" fill="#f4a460"/>
<rect x="518" y="242" width="1" height="38" fill="#f4a460"/>
<rect x="526" y="244" width="1" height="36" fill="#f4a460"/>
<rect x="534" y="244" width="1" height="36" fill="#f4a460"/>
<rect x="542" y="236" width="1" height="44" fill="#f4a460"/>
<rect x="550" y="227" width="1" height="43" fill="#f4a460"/>
<rect x="558" y="227" width="1" height="43" fill="#f4a460"/>
<rect x="566" y="227" width="1" height="43" fill="#f4a460"/>
<rect x="574" y="227" width="1" height="43" fill="#f4a460"/>
<rect x="582" y="227" width="1" height="43" fill="#f4a460"/>
<rect x="590" y="227" width="1" height="16" fill="#f4a460"/>
<rect x="598" y="223" width="1" height="18" fill="#f4a460"/>
<rect x="606" y="216" width="1" height="24" fill="#f4a460"/>
<rect x="614" y="206" width="1" height="29" fill="#f4a460"/>
<rect x="622" y="199" width="1" height="21" fill="#f4a460"/>
<rect x="630" y="198" width="1" height="21" fill="#f4a460"/>
<rect x="638" y="197" width="1" height="22" fill="#f4a460"/>
<rect x="646" y="193" width="1" height="26" fill="#f4a460"/>
<rect x="654" y="195" width="1" height="24" fill="#f4a460"/>
<rect x="662" y="197" width="1" height="22" fill="#f4a460"/>
<rect x="670" y="201" width="1" height="18" fill="#f4a460"/>
<rect x="678" y="208" width="1" height="11" fill="#f4a460"/>
<rect x="686" y="208" width="1" height="11" fill="#f4a460"/>
<rect x="694" y="210" width="1" height="10" fill="#f4a460"/>
<rect x="702" y="211" width="1" height="9" fill="#f4a460"/>
<rect x="710" y="213" width="1" height="7" fill="#f4a460"/>
<rect x="718" y="214" width="1" height="6" fill="#f4a460"/>
<rect x="726" y="212" width="1" height="8" fill="#f4a460"/>
<rect x="734" y="212" width="1" height="8" fill="#f4a460"/>
<rect x="742" y="212" width="1" height="8" fill="#f4a460"/>
<rect x="750" y="199" width="1" height="21" fill="#f4a460"/>
<rect x="758" y="197" width="1" height="23" fill="#f4a460"/>
<rect x="766" y="202" width="1" height="18" fill="#f4a460"/>
<rect x="774" y="204" width="1" height="16" fill="#f4a460"/>
<rect x="782" y="216" width="1" height="4" fill="#f4a460"/>
<rect x="790" y="219" width="1" height="5" fill="#d8bfd8"/>
<rect x="798" y="219" width="1" height="6" fill="#d8bfd8"/>
<rect x="806" y="232" width="1" height="8" fill="#d8bfd8"/>
<rect x="814" y="241" width="1" height="8" fill="#d8bfd8"/>
<rect x="822" y="241" width="1" height="12" fill="#d8bfd8"/>
<rect x="830" y="241" width="1" height="14" fill="#d8bfd8"/>
<rect x="838" y="241" width="1" height="18" fill="#d8bfd8"/>
<rect x="846" y="241" width="1" height="30" fill="#d8bfd8"/>
<rect x="854" y="241" width="1" height="30" fill="#d8bfd8"/>
<rect x="862" y="241" width="1" height="30" fill="#d8bfd8"/>
<rect x="870" y="241" width="1" height="30" fill="#d8bfd8"/>
<rect x="878" y="241" width="1" height="30" fill="#d8bfd8"/>
<rect x="886" y="241" width="1" height="30" fill="#d8bfd8"/>
<rect x="894" y="241" width="1" height="29" fill="#d8bfd8"/>
<rect x="902" y="241" width="1" height="24" fill="#d8bfd8"/>
<rect x="910" y="241" width="1" height="24" fill="#d8bfd8"/>
<rect x="918" y="241" width="1" height="22" fill="#d8bfd8"/>
<rect x="926" y="241" width="1" height="22" fill="#d8bfd8"/>
<rect x="934" y="241" width="1" height="22" fill="#d8bfd8"/>
<rect x="942" y="241" width="1" height="26" fill="#d8bfd8"/>
<rect x="950" y="241" width="1" height="34" fill="#d8bfd8"/>
<rect x="958" y="244" width="1" height="40" fill="#d8bfd8"/>
<rect x="966" y="252" width="1" height="38" fill="#d8bfd8"/>
<rect x="974" y="314" width="1" height="42" fill="#d8bfd8"/>
<rect x="982" y="314" width="1" height="50" fill="#d8bfd8"/>
<rect x="990" y="314" width="1" height="51" fill="#d8bfd8"/>
<rect x="998" y="314" width="1" height="52" fill="#d8bfd8"/>
<rect x="1006" y="314" width="1" height="57" fill="#d8bfd8"/>
<rect x="1014" y="314" width="1" height="62" fill="#d8bfd8"/>
<rect x="1022" y="329" width="1" height="66" fill="#d8bfd8"/>
<rect x="1030" y="434" width="1" height="74" fill="#d8bfd8"/>
<rect x="1038" y="436" width="1" height="75" fill="#d8bfd8"/>
<rect x="1046" y="437" width="1" height="83" fill="#d8bfd8"/>
<rect x="1054" y="442" width="1" height="79" fill="#d8bfd8"/>
<rect x="1062" y="442" width="1" height="80" fill="#d8bfd8"/>
<rect x="1070" y="442" width="1" height="80" fill="#d8bfd8"/>
<rect x="1078" y="449" width="1" height="91" fill="#d8bfd8"/>
<rect x="1086" y="454" width="1" height="119" fill="#d8bfd8"/>
<rect x="1094" y="504" width="1" height="105" fill="#d8bfd8"/>
<rect x="1102" y="549" width="1" height="110" fill="#d8bfd8"/>
<rect x="1110" y="549" width="1" height="112" fill="#d8bfd8"/>
<rect x="1118" y="549" width="1" height="120" fill="#d8bfd8"/>
<rect x="1126" y="549" width="1" height="124" fill="#d8bfd8"/>
<rect x="1134" y="549" width="1" height="131" fill="#d8bfd8"/>
<rect x="1142" y="552" width="1" height="129" fill="#d8bfd8"/>
<rect x="1150" y="557" width="1" height="129" fill="#d8bfd8"/>
<rect x="1158" y="560" width="1" height="131" fill="#d8bfd8"/>
<rect x="1166" y="567" width="1" height="129" fill="#d8bfd8"/>
<rect x="1174" y="567" width="1" height="100" fill="#d8bfd8"/>
<rect x="1182" y="578" width="1" height="95" fill="#d8bfd8"/>
<rect x="1190" y="591" width="1" height="82" fill="#d8bfd8"/>
<rect x="1198" y="591" width="1" height="65" fill="#d8bfd8"/>
<rect x="1206" y="591" width="1" height="65" fill="#d8bfd8"/>
<rect x="1214" y="591" width="1" height="79" fill="#d8bfd8"/>
<rect x="1222" y="591" width="1" height="89" fill="#d8bfd8"/>
<rect x="1230" y="591" width="1" height="78" fill="#d8bfd8"/>
<rect x="1238" y="591" width="1" height="78" fill="#d8bfd8"/>
<rect x="1246" y="591" width="1" height="78" fill="#d8bfd8"/>
<rect x="1254" y="591" width="1" height="72" fill="#d8bfd8"/>
<rect x="1262" y="591" width="1" height="69" fill="#d8bfd8"/>
<rect x="1270" y="591" width="1" height="65" fill="#d8bfd8"/>
<rect x="1278" y="591" width="1" height="49" fill="#d8bfd8"/>
<rect x="1286" y="591" width="1" height="46" fill="#d8bfd8"/>
<rect x="1294" y="591" width="1" height="38" fill="#d8bfd8"/>
<rect x="1302" y="592" width="1" height="36" fill="#d8bfd8"/>
<rect x="1326" y="589" width="1" height="4" fill="#f4a460"/>
<rect x="1334" y="567" width="1" height="28" fill="#f4a460"/>
<rect x="1342" y="557" width="1" height="41" fill="#f4a460"/>
<rect x="1350" y="553" width="1" height="54" fill="#f4a460"/>
<rect x="1358" y="552" width="1" height="64" fill="#f4a460"/>
<rect x="1366" y="548" width="1" height="80" fill="#f4a460"/>
<rect x="1374" y="546" width="1" height="91" fill="#f4a460"/>
<rect x="1382" y="545" width="1" height="102" fill="#f4a460"/>
<rect x="1390" y="547" width="1" height="117" fill="#f4a460"/>
<rect x="1398" y="542" width="1" height="123" fill="#f4a460"/>
<rect x="1406" y="540" width="1" height="126" fill="#f4a460"/>
<rect x="1414" y="524" width="1" height="143" fill="#f4a460"/>
<rect x="1422" y="522" width="1" height="168" fill="#f4a460"/>
<rect x="1430" y="513" width="1" height="183" fill="#f4a460"/>
<rect x="1438" y="513" width="1" height="183" fill="#f4a460"/>
<rect x="1446" y="512" width="1" height="184" fill="#f4a460"/>
<rect x="1454" y="494" width="1" height="183" fill="#f4a460"/>
<rect x="1462" y="482" width="1" height="193" fill="#f4a460"/>
<rect x="1470" y="481" width="1" height="194" fill="#f4a460"/>
<rect x="1478" y="481" width="1" height="194" fill="#f4a460"/>
<rect x="1486" y="480" width="1" height="195" fill="#f4a460"/>
<rect x="1494" y="464" width="1" height="192" fill="#f4a460"/>
<rect x="1502" y="455" width="1" height="200" fill="#f4a460"/>
<rect x="1510" y="454" width="1" height="198" fill="#f4a460"/>
<rect x="1518" y="439" width="1" height="143" fill="#f4a460"/>
<rect x="1526" y="404" width="1" height="145" fill="#f4a460"/>
<rect x="1534" y="367" width="1" height="135" fill="#f4a460"/>
<rect x="1542" y="350" width="1" height="103" fill="#f4a460"/>
<rect x="1550" y="332" width="1" height="108" fill="#f4a460"/>
<rect x="1558" y="318" width="1" height="111" fill="#f4a460"/>
<rect x="1566" y="313" width="1" height="115" fill="#f4a460"/>
<rect x="1574" y="310" width="1" height="118" fill="#f4a460"/>
<rect x="1582" y="308" width="1" height="119" fill="#f4a460"/>
<rect x="1590" y="303" width="1" height="124" fill="#f4a460"/>
<rect x="1598" y="281" width="1" height="145" fill="#f4a460"/>
<rect x="1606" y="280" width="1" height="138" fill="#f4a460"/>
<rect x="1614" y="280" width="1" height="134" fill="#f4a460"/>
<rect x="1622" y="280" width="1" height="101" fill="#f4a460"/>
<rect x="1630" y="280" width="1" height="99" fill="#f4a460"/>
<rect x="1638" y="286" width="1" height="73" fill="#f4a460"/>
<rect x="1646" y="293" width="1" height="66" fill="#f4a460"/>
<rect x="1654" y="285" width="1" height="74" fill="#f4a460"/>
<rect x="1662" y="284" width="1" height="75" fill="#f4a460"/>
<rect x="1670" y="282" width="1" height="77" fill="#f4a460"/>
<rect x="1678" y="281" width="1" height="78" fill="#f4a460"/>
<rect x="1686" y="285" width="1" height="74" fill="#f4a460"/>
<rect x="1694" y="281" width="1" height="78" fill="#f4a460"/>
<rect x="1702" y="276" width="1" height="83" fill="#f4a460"/>
<rect x="1710" y="271" width="1" height="82" fill="#f4a460"/>
<rect x="1718" y="264" width="1" height="87" fill="#f4a460"/>
<rect x="1726" y="251" width="1" height="100" fill="#f4a460"/>
<rect x="1734" y="243" width="1" height="108" fill="#f4a460"/>
<rect x="1742" y="243" width="1" height="108" fill="#f4a460"/>
<rect x="1750" y="243" width="1" height="108" fill="#f4a460"/>
<rect x="1758" y="239" width="1" height="112" fill="#f4a460"/>
<rect x="1766" y="238" width="1" height="113" fill="#f4a460"/>
<rect x="1774" y="240" width="1" height="111" fill="#f4a460"/>
<rect x="1782" y="247" width="1" height="104" fill="#f4a460"/>
<rect x="1790" y="252" width="1" height="99" fill="#f4a460"/>
<rect x="1798" y="252" width="1" height="99" fill="#f4a460"/>
<rect x="1806" y="249" width="1" height="80" fill="#f4a460"/>
<rect x="1814" y="227" width="1" height="101" fill="#f4a460"/>
<rect x="1822" y="211" width="1" height="115" fill="#f4a460"/>
<rect x="1830" y="209" width="1" height="117" fill="#f4a460"/>
<rect x="1838" y="207" width="1" height="118" fill="#f4a460"/>
<rect x="1846" y="201" width="1" height="124" fill="#f4a460"/>
<rect x="1854" y="197" width="1" height="127" fill="#f4a460"/>
<rect x="1862" y="195" width="1" height="100" fill="#f4a460"/>
<rect x="1870" y="193" width="1" height="101" fill="#f4a460"/>
<rect x="1878" y="193" width="1" height="101" fill="#f4a460"/>
<rect x="1886" y="193" width="1" height="101" fill="#f4a460"/>
<rect x="1894" y="192" width="1" height="96" fill="#f4a460"/>
<rect x="1902" y="192" width="1" height="89" fill="#f4a460"/>
<rect x="1910" y="191" width="1" height="81" fill="#f4a460"/>
<rect x="1918" y="191" width="1" height="76" fill="#f4a460"/>
<rect x="1926" y="191" width="1" height="74" fill="#f4a460"/>
<rect x="1934" y="190" width="1" height="62" fill="#f4a460"/>
<rect x="1942" y="186" width="1" height="45" fill="#f4a460"/>
<rect x="1950" y="183" width="1" height="48" fill="#f4a460"/>
<rect x="1958" y="181" width="1" height="50" fill="#f4a460"/>
<rect x="1966" y="176" width="1" height="55" fill="#f4a460"/>
<rect x="1974" y="175" width="1" height="56" fill="#f4a460"/>
<rect x="1982" y="170" width="1" height="61" fill="#f4a460"/>
<rect x="1990" y="170" width="1" height="61" fill="#f4a460"/>
<rect x="1998" y="169" width="1" height="62" fill="#f4a460"/>
<rect x="2006" y="168" width="1" height="63" fill="#f4a460"/>
<rect x="2014" y="167" width="1" height="62" fill="#f4a460"/>
<rect x="2022" y="167" width="1" height="59" fill="#f4a460"/>
<rect x="2030" y="152" width="1" height="61" fill="#f4a460"/>
<rect x="2038" y="139" width="1" height="62" fill="#f4a460"/>
<rect x="2046" y="127" width="1" height="62" fill="#f4a460"/>
<rect x="2054" y="127" width="1" height="62" fill="#f4a460"/>
<rect x="2062" y="127" width="1" height="50" fill="#f4a460"/>
<rect x="2070" y="127" width="1" height="48" fill="#f4a460"/>
<rect x="2078" y="123" width="1" height="52" fill="#f4a460"/>
<rect x="2086" y="115" width="1" height="60" fill="#f4a460"/>
<rect x="2094" y="110" width="1" height="65" fill="#f4a460"/>
<rect x="2102" y="114" width="1" height="54" fill="#f4a460"/>
<rect x="2110" y="112" width="1" height="50" fill="#f4a460"/>
<rect x="2118" y="114" width="1" height="45" fill="#f4a460"/>
<rect x="2126" y="114" width="1" height="44" fill="#f4a460"/>
<rect x="2134" y="119" width="1" height="39" fill="#f4a460"/>
<rect x="2142" y="122" width="1" height="36" fill="#f4a460"/>
<rect x="2150" y="122" width="1" height="36" fill="#f4a460"/>
<rect x="2158" y="122" width="1" height="36" fill="#f4a460"/>
<rect x="2166" y="135" width="1" height="23" fill="#f4a460"/>
<rect x="2174" y="139" width="1" height="14" fill="#f4a460"/>
<rect x="2182" y="152" width="1" height="3" fill="#d8bfd8"/>
<rect x="2190" y="158" width="1" height="12" fill="#d8bfd8"/>
<rect x="2198" y="158" width="1" height="12" fill="#d8bfd8"/>
</g>
<polyline points="6.2,310.0 120.0,310.0 126.2,311.9 134.4,318.1 142.5,323.1 150.6,323.8 158.8,332.5 166.9,332.5 174.4,339.4 182.5,340.6 190.6,349.6 222.5,349.6 231.2,342.8 238.8,341.5 286.9,341.5 295.0,333.8 302.5,330.6 318.1,330.0 320.0,325.0 326.5,300.6 334.5,300.0 342.5,293.5 366.5,293.5 374.5,281.9 381.2,278.8 542.5,278.8 550.5,268.8 582.5,268.8 590.5,242.5 598.5,240.0 606.5,239.4 614.5,233.8 622.5,218.8 639.9,218.1 798.5,219.4 806.5,231.9 814.5,240.9 952.5,241.2 959.9,245.0 966.4,251.4 974.4,314.5 1014.5,314.5 1022.4,328.1 1030.3,434.2 1046.4,437.2 1054.4,441.6 1070.5,441.6 1078.4,449.0 1086.3,452.5 1094.5,504.0 1102.4,549.1 1135.9,549.1 1142.5,551.6 1150.5,557.3 1158.4,559.8 1166.6,567.2 1174.5,567.2 1182.4,578.3 1190.3,591.2 1280.0,591.2 1310.5,591.8 1326.3,591.8 1334.5,593.5 1342.4,596.7 1350.3,605.4 1358.5,615.3 1366.4,626.4 1374.4,636.3 1382.5,646.3 1390.5,662.8 1398.4,663.6 1406.3,664.8 1414.5,666.1 1422.5,688.8 1430.5,695.2 1446.5,695.2 1453.4,676.0 1462.5,674.2 1486.6,673.5 1494.5,654.9 1502.4,653.7 1510.3,652.4 1518.5,580.6 1526.4,548.4 1534.4,501.4 1542.5,451.8 1550.5,439.4 1558.4,428.3 1566.6,427.1 1600.0,425.4 1606.4,417.2 1614.4,413.5 1622.3,380.0 1630.5,377.6 1638.4,358.5 1702.5,358.5 1710.5,351.5 1718.4,350.3 1798.4,350.3 1806.6,327.3 1814.5,326.8 1822.4,324.8 1846.4,324.3 1854.4,323.8 1862.5,293.8 1870.5,292.6 1886.6,292.6 1894.5,287.2 1902.5,280.1 1910.4,271.4 1918.3,266.4 1926.5,264.0 1934.4,251.6 1942.4,230.5 2006.5,230.5 2014.4,227.6 2022.4,225.6 2030.5,212.0 2038.5,199.6 2046.4,188.4 2054.3,188.4 2062.2,176.0 2070.4,173.6 2094.4,173.6 2102.4,167.4 2110.5,161.2 2118.5,157.5 2166.3,157.0 2174.4,152.5 2182.4,151.8 2190.3,157.5 2198.5,157.5" fill="none" stroke="#d8bfd8" stroke-width="1"/>
<polyline points="6.2,342.5 14.8,336.2 22.8,334.0 30.8,330.0 38.8,321.9 46.8,315.4 54.4,312.1 62.5,316.2 70.6,317.9 78.8,317.9 86.9,319.4 94.4,321.6 102.5,321.9 110.6,321.6 118.1,315.6 126.2,326.2 131.2,327.5 153.8,327.5 158.8,326.9 166.9,322.5 174.4,320.2 182.5,313.8 190.6,313.8 198.8,312.5 206.9,310.9 214.4,306.9 222.5,306.5 230.6,299.6 238.1,297.2 246.2,285.6 254.4,283.8 270.6,283.5 278.8,278.8 286.9,272.8 295.0,265.0 302.5,261.6 318.1,261.6 320.0,260.0 326.5,257.5 334.5,256.2 342.5,249.4 350.5,246.2 366.5,246.2 374.5,247.5 382.5,245.0 390.5,243.5 406.5,243.5 414.5,240.0 422.5,247.5 430.5,248.8 438.5,250.6 446.5,254.4 470.5,254.4 478.5,251.2 486.5,247.5 494.5,246.9 502.5,245.6 510.5,245.6 518.5,242.5 526.5,243.8 534.5,243.8 542.5,236.2 550.5,226.9 590.5,226.9 598.5,223.1 606.5,216.2 614.5,206.2 622.5,198.8 630.5,197.5 639.9,196.9 646.5,193.1 654.5,194.8 662.5,196.9 670.5,200.6 678.5,208.5 686.5,208.5 694.5,209.8 702.5,211.0 710.5,212.8 718.5,214.0 726.5,212.5 742.5,212.2 750.5,198.8 758.5,197.2 766.5,201.9 774.5,204.4 782.5,216.2 790.5,223.1 798.5,224.4 806.5,238.8 814.5,248.1 822.5,252.5 830.5,254.4 838.5,258.1 846.5,270.2 888.8,270.2 894.5,269.4 902.5,264.0 910.5,263.5 918.5,261.5 934.5,261.5 942.5,266.2 950.5,274.4 959.9,285.0 966.4,288.5 974.4,355.4 982.3,362.8 990.5,364.1 998.4,365.3 1006.3,369.8 1014.5,375.2 1022.4,392.5 1028.1,466.9 1030.3,506.5 1038.5,510.2 1046.4,518.9 1054.4,520.1 1070.5,521.4 1078.4,538.7 1086.3,570.9 1094.5,608.0 1102.4,657.6 1110.3,660.1 1118.5,667.5 1126.4,672.4 1134.4,678.6 1142.5,679.9 1150.5,684.8 1158.4,689.8 1166.6,694.7 1174.5,666.3 1182.4,672.4 1190.3,672.0 1198.5,655.1 1206.4,655.1 1214.4,668.7 1222.5,678.6 1230.5,668.0 1246.6,668.0 1254.5,662.5 1262.4,658.8 1270.6,654.6 1278.5,639.0 1286.4,636.3 1294.4,628.4 1302.3,627.7 1310.5,591.8 1318.4,591.0 1326.3,589.3 1334.5,567.0 1342.4,557.1 1350.3,552.9 1358.5,552.1 1366.4,548.4 1374.4,546.4 1382.5,545.4 1390.5,547.2 1398.4,542.2 1406.3,540.5 1414.5,524.1 1422.4,522.4 1430.3,513.0 1446.4,512.5 1454.4,493.9 1462.5,481.5 1486.6,480.3 1494.5,464.2 1502.4,455.5 1510.3,454.3 1518.5,439.4 1526.4,404.8 1534.4,367.5 1542.5,350.2 1550.5,331.6 1558.4,318.0 1566.6,312.5 1574.5,310.0 1582.4,307.6 1590.6,303.1 1598.5,280.8 1600.0,280.1 1630.5,280.1 1638.4,286.3 1646.3,293.2 1654.5,285.0 1662.4,283.8 1670.3,282.5 1678.5,281.3 1686.4,285.5 1694.4,281.3 1702.5,276.3 1710.5,271.4 1718.4,264.0 1726.3,251.6 1734.5,242.9 1750.3,242.9 1758.5,239.2 1763.5,237.5 1774.4,240.4 1782.5,247.4 1790.5,251.6 1798.4,251.6 1806.6,249.1 1814.5,226.8 1822.4,210.7 1830.3,208.7 1838.5,207.0 1846.4,200.8 1854.4,197.1 1862.5,195.4 1870.5,193.4 1894.5,192.1 1902.5,191.9 1918.3,190.9 1934.4,190.4 1942.4,185.9 1950.3,183.5 1958.5,181.0 1966.4,176.0 1974.3,174.8 1982.5,169.8 1990.4,169.8 1998.3,169.3 2006.5,168.1 2014.4,167.4 2022.4,167.4 2030.5,152.5 2038.5,138.9 2046.4,127.2 2070.4,127.2 2078.3,122.8 2086.5,115.4 2094.4,110.4 2102.4,113.6 2110.5,112.4 2118.5,113.6 2126.4,114.1 2134.3,118.6 2142.5,121.5 2158.3,122.0 2166.3,135.2 2174.4,138.9 2182.4,153.7 2190.3,169.3 2198.5,169.3" fill="none" stroke="#f4a460" stroke-width="1"/>
<polyline points="6.0,300.0 40.0,298.0 71.0,296.0 102.0,293.0 134.0,289.5 167.0,285.5 199.0,286.0 262.0,282.0 320.0,278.1 350.5,268.8 382.5,260.0 414.5,251.9 446.5,245.6 478.5,241.2 510.5,235.0 542.5,229.4 574.5,228.8 606.5,231.9 639.9,234.4 670.5,238.8 702.5,240.0 734.5,241.5 766.5,249.4 790.5,260.0 806.5,266.2 822.5,276.9 838.5,287.5 854.5,300.0 870.5,317.5 902.5,355.7 908.9,360.0 919.8,369.9 929.7,378.8 939.6,386.8 949.6,393.7 959.5,401.1 969.4,408.6 979.3,415.5 989.2,424.4 999.1,431.4 1009.0,437.3 1018.9,442.3 1028.8,446.7 1040.0,450.4 1054.9,455.6 1069.7,462.3 1084.6,468.2 1099.5,473.4 1114.3,478.7 1129.2,483.1 1144.1,487.6 1158.9,492.0 1173.8,495.7 1188.7,499.5 1203.5,502.4 1218.4,504.7 1233.3,506.2 1248.1,506.6 1263.0,506.2 1277.8,505.4 1292.7,504.2 1300.0,503.6 1310.5,500.1 1326.3,493.9 1342.4,484.0 1358.5,474.1 1374.4,465.4 1390.5,458.0 1406.3,450.6 1422.4,444.4 1438.5,439.4 1454.4,434.5 1470.5,429.5 1486.6,423.3 1502.4,416.7 1518.5,409.7 1534.4,402.3 1550.5,393.6 1566.6,385.0 1600.0,360.1 1684.2,319.9 1710.5,301.1 1742.4,278.8 1774.4,259.0 1806.6,242.9 1838.5,225.6 1870.5,212.0 1900.0,204.5 1918.3,197.1 1934.4,192.1 1950.3,188.4 1966.4,185.9 1982.5,184.7 1990.4,184.7" fill="none" stroke="#dc143c" stroke-width="1"/>
<polyline points="9.5,309.1 42.5,306.6 74.5,302.6 105.5,298.6 137.5,293.6 170.5,288.6 202.5,285.6 234.5,282.6 265.5,280.6 297.5,276.6 323.5,274.1 338.0,269.1 354.0,264.1 370.0,260.4 386.0,256.0 402.0,251.6 418.0,247.2 434.0,243.5 450.0,240.4 466.0,238.5 482.0,236.0 498.0,232.8 514.0,229.7 530.0,227.2 546.0,225.4 562.0,223.8 578.0,224.1 594.0,226.6 610.0,229.7 626.0,231.6 643.4,232.8 658.0,234.7 674.0,236.6 690.0,238.5 706.0,239.7 722.0,241.0 738.0,242.8 754.0,246.0 770.0,251.6 778.0,256.0 786.0,260.4 794.0,264.1 802.0,267.8 810.0,272.2 818.0,277.2 826.0,282.8 834.0,289.1 842.0,294.7 850.0,301.6 858.0,309.1 866.0,317.2 873.9,330.0 885.0,343.0 897.0,357.0 909.9,371.9 919.8,381.8 929.7,390.7 939.6,399.1 949.6,407.6 959.5,416.0 969.4,423.4 979.3,431.4 989.2,439.3 999.1,446.2 1009.0,452.2 1018.9,457.6 1028.8,462.6 1040.0,467.5 1054.9,473.4 1069.7,480.1 1084.6,486.1 1099.5,492.0 1114.3,497.2 1129.2,501.7 1144.1,506.2 1158.9,509.9 1173.8,512.8 1188.7,515.1 1203.5,517.0 1218.4,518.3 1233.3,518.8 1248.1,518.0 1263.0,516.6 1277.8,514.8 1292.7,512.8 1300.0,511.8 1310.5,508.8 1326.3,500.1 1342.4,487.7 1358.5,475.4 1374.4,465.4 1390.5,456.8 1406.3,449.3 1422.4,443.2 1438.5,437.0 1454.4,430.8 1470.5,424.6 1486.6,417.2 1502.4,408.5 1518.5,399.8 1534.4,391.1 1550.5,382.5 1582.4,356.3 1600.0,345.2 1642.1,319.9 1662.4,304.8 1678.5,294.4 1694.4,285.0 1710.5,276.3 1726.3,267.7 1742.4,259.0 1758.5,251.6 1774.4,245.9 1790.5,240.4 1806.6,235.5 1822.4,224.3 1838.5,213.2 1854.4,204.5 1870.5,198.3 1886.6,193.4 1900.0,190.9 1918.3,184.7 1934.4,180.5 1950.3,178.0 1966.4,176.0 1982.5,175.5 1990.4,175.5" fill="none" stroke="#dc143c" stroke-width="2"/>
<polyline points="6.0,307.5 39.0,305.0 71.0,301.0 102.0,297.0 134.0,292.0 167.0,287.0 199.0,284.0 231.0,281.0 262.0,279.0 294.0,275.0 320.0,272.5 334.5,267.5 350.5,262.5 366.5,258.8 382.5,254.4 398.5,250.0 414.5,245.6 430.5,241.9 446.5,238.8 462.5,236.9 478.5,234.4 494.5,231.2 510.5,228.1 526.5,225.6 542.5,223.8 558.5,222.2 574.5,222.5 590.5,225.0 606.5,228.1 622.5,230.0 639.9,231.2 654.5,233.1 670.5,235.0 686.5,236.9 702.5,238.1 718.5,239.4 734.5,241.2 750.5,244.4 766.5,250.0 774.5,254.4 782.5,258.8 790.5,262.5 798.5,266.2 806.5,270.6 814.5,275.6 822.5,281.2 830.5,287.5 838.5,293.1 846.5,300.0 854.5,307.5 862.5,315.6 870.2,330.0 878.9,339.9 888.8,353.5 898.7,365.9 909.9,379.8 919.8,389.7 929.7,398.7 939.6,407.1 949.6,416.0 959.5,424.4 969.4,433.3 979.3,442.3 989.2,451.2 999.1,458.1 1009.0,464.1 1018.9,469.0 1028.8,474.0 1040.0,480.1 1054.9,485.3 1069.7,491.3 1084.6,497.2 1099.5,503.2 1114.3,508.4 1129.2,512.8 1144.1,516.6 1158.9,519.5 1173.8,521.8 1188.7,523.5 1203.5,525.0 1218.4,526.2 1233.3,526.7 1248.1,525.9 1263.0,524.3 1277.8,522.1 1292.7,519.5 1300.0,518.0 1310.5,512.5 1326.3,503.8 1342.4,491.5 1358.5,477.8 1374.4,466.7 1390.5,456.3 1406.3,447.4 1422.4,439.4 1438.5,432.0 1454.4,424.1 1470.5,417.2 1486.6,408.5 1502.4,398.6 1518.5,388.7 1531.4,380.0 1558.4,355.1 1582.4,341.5 1600.0,331.6 1614.9,319.9 1630.5,309.8 1646.3,298.6 1662.4,290.0 1678.5,282.5 1694.4,275.1 1710.5,268.9 1726.3,261.5 1742.4,252.8 1758.5,244.1 1774.4,238.0 1790.5,232.5 1806.6,227.6 1822.4,218.1 1838.5,209.5 1854.4,200.8 1870.5,193.4 1886.6,188.4 1900.0,184.7 1910.4,181.0 1918.3,178.5 1926.5,176.0 1934.4,174.1 1942.4,172.3 1950.3,171.1 1958.5,170.1 1966.4,169.6 1974.3,169.3 1982.5,169.3 1990.4,169.8" fill="none" stroke="#dc143c" stroke-width="3"/>
<polyline points="5.9,315.0 14.9,307.6 22.3,302.6 30.2,296.5 38.4,291.5 46.3,287.8 54.4,285.5 62.5,281.4 70.6,277.0 78.5,271.4 86.5,264.5 94.4,259.5 102.5,255.7 110.6,252.0 118.1,247.6 126.2,243.3 134.4,238.9 142.5,235.1 150.6,233.3 158.5,232.6 166.5,233.9 174.4,238.3 182.5,241.4 190.4,244.5 198.4,247.6 206.2,250.1 214.4,252.6 222.5,255.1 230.4,257.0 238.4,258.9 246.2,260.7 254.4,262.0 262.5,262.6 270.4,263.0 278.4,262.6 286.2,262.0 294.4,261.4 302.5,260.7 310.6,260.5 320.0,263.8 342.5,248.1 358.5,240.6 374.5,233.1 390.5,223.8 406.5,213.1 414.5,206.9 422.5,201.2 430.5,196.9 438.5,195.0 446.5,194.4 454.5,195.0 462.5,196.9 470.5,198.5 478.5,198.8 494.5,196.6 510.5,192.5 534.5,187.5 558.5,192.5 566.5,196.2 574.5,201.2 582.5,207.5 590.5,215.0 598.5,223.8 606.5,233.8 614.5,241.2 622.5,245.6 630.5,248.8 639.9,251.9 646.5,257.5 654.5,260.6 662.5,263.8 670.5,266.2 678.5,268.1 686.5,270.0 694.5,272.5 702.5,274.4 710.5,275.0 718.5,274.4 726.5,274.4 734.5,276.9 742.5,282.5 750.5,288.1 758.5,292.5 766.5,303.8 774.5,312.5 782.5,322.5 789.7,330.0 797.2,336.2 805.8,347.3 812.0,358.5 817.0,368.4 820.7,379.5 825.6,391.9 833.1,404.3 839.3,416.7 843.0,429.1 847.9,441.5 852.9,453.8 859.1,466.2 865.3,480.0 870.3,500.6 886.4,547.7 902.5,592.3 910.5,604.6 918.4,621.9 926.3,633.1 934.5,639.3 942.4,644.2 950.3,647.9 958.5,651.6 966.4,655.4 974.4,659.1 982.5,664.0 990.5,667.7 998.4,669.0 1006.6,666.5 1014.5,655.4 1022.4,641.7 1030.3,629.3 1038.5,617.0 1046.4,607.1 1054.4,598.4 1062.5,592.2 1070.5,587.2 1078.4,583.5 1086.6,578.6 1094.5,572.4 1102.4,567.4 1110.6,562.5 1118.5,551.1 1126.4,543.7 1134.4,535.0 1142.5,527.6 1150.5,525.1 1158.4,523.1 1166.6,521.4 1174.5,520.9 1182.4,520.1 1190.3,516.4 1198.5,511.5 1206.4,507.7 1214.4,505.3 1222.5,504.0 1230.5,502.8 1238.4,500.3 1246.6,492.9 1254.5,484.2 1262.4,478.0 1270.6,473.1 1280.0,469.3 1332.0,399.9 1342.4,365.0 1350.3,341.5 1358.5,322.9 1366.4,311.8 1374.4,305.6 1382.5,300.6 1390.5,294.4 1398.4,287.0 1406.3,282.0 1414.5,277.8 1422.4,275.9 1430.3,274.6 1438.5,273.4 1446.4,270.9 1454.4,269.7 1462.5,268.9 1470.5,268.4 1478.4,268.4 1486.6,268.4 1494.5,267.2 1502.4,265.4 1510.3,263.0 1518.5,259.8 1526.4,256.0 1534.4,253.1 1542.5,250.6 1550.5,248.6 1558.4,246.6 1565.8,248.6 1582.6,243.7 1591.5,241.2 1598.5,238.2 1605.4,232.8 1611.4,226.8 1617.3,221.4 1622.3,217.4 1630.2,214.4 1639.1,212.0 1647.0,210.0 1655.0,208.5 1662.9,206.5 1668.8,205.0 1678.8,201.5 1686.7,199.0 1694.6,196.1 1700.0,193.6 1702.5,194.6 1710.5,192.1 1718.4,188.9 1726.3,185.9 1734.5,182.2 1742.4,178.0 1750.3,174.1 1758.5,171.1 1766.4,168.6 1774.4,166.6 1782.5,165.6 1790.5,164.9 1798.4,164.1 1806.6,163.2 1814.5,160.7 1822.4,155.7 1830.3,150.0 1838.5,142.6 1846.4,134.4 1854.4,128.5 1862.5,124.0 1870.5,121.5 1878.4,119.1 1886.6,118.3 1894.5,117.3 1902.5,115.4 1918.3,114.9 1934.4,115.4 1950.3,117.8 1958.5,122.8 1966.4,129.0 1974.3,136.4 1982.5,145.1 1989.2,153.7" fill="none" stroke="#fff" stroke-width="1"/>
<polyline points="5.9,310.5 14.9,303.1 22.3,298.1 30.2,292.0 38.4,287.0 46.3,283.3 54.4,281.0 62.5,276.9 70.6,272.5 78.5,266.9 86.5,260.0 94.4,255.0 102.5,251.2 110.6,247.5 118.1,243.1 126.2,238.8 134.4,234.4 142.5,230.6 150.6,228.8 158.5,228.1 166.5,229.4 174.4,233.8 182.5,236.9 190.4,240.0 198.4,243.1 206.2,245.6 214.4,248.1 222.5,250.6 230.4,252.5 238.4,254.4 246.2,256.2 254.4,257.5 262.5,258.1 270.4,258.5 278.4,258.1 286.2,257.5 294.4,256.9 302.5,256.2 310.6,256.0 320.0,260.0 326.5,256.2 334.5,250.0 342.5,245.0 350.5,240.6 358.5,237.5 366.5,233.8 374.5,230.0 382.5,225.0 390.5,220.0 398.5,215.0 406.5,209.4 414.5,202.5 422.5,196.2 430.5,191.2 438.5,188.1 446.5,188.1 454.5,190.0 462.5,193.8 470.5,196.9 478.5,198.1 486.5,198.1 494.5,196.2 502.5,193.8 510.5,192.2 518.5,190.4 526.5,188.1 534.5,187.2 542.5,188.1 550.5,189.8 558.5,192.5 566.5,196.9 574.5,203.8 582.5,212.5 590.5,221.9 598.5,231.2 606.5,240.0 614.5,248.1 622.5,253.8 630.5,257.5 639.9,260.0 646.5,261.2 654.5,265.0 662.5,268.8 670.5,270.6 678.5,272.5 686.5,276.2 694.5,278.8 702.5,278.8 710.5,276.9 718.5,274.4 726.5,273.8 734.5,276.2 742.5,281.9 750.5,287.5 758.5,295.0 766.5,305.0 774.5,315.0 782.5,325.0 784.8,330.0 792.2,337.4 800.9,348.6 807.1,358.5 812.0,368.4 816.3,379.5 820.7,391.9 827.5,404.3 833.1,416.7 837.4,429.1 841.7,441.5 846.7,453.8 851.6,466.2 856.6,480.0 862.4,498.1 870.3,521.7 878.5,544.0 886.4,570.0 894.4,594.7 902.5,615.7 910.5,634.3 918.4,649.2 926.3,656.6 934.5,660.3 942.4,665.3 950.3,666.0 958.5,666.0 966.4,666.5 974.4,669.0 982.5,673.4 990.5,675.2 998.4,672.7 1006.6,665.3 1014.5,651.6 1022.4,636.8 1030.3,621.9 1038.5,608.3 1046.4,597.2 1054.4,587.2 1062.5,579.8 1070.5,574.9 1078.4,571.1 1086.6,568.7 1094.5,565.0 1102.4,561.2 1110.3,551.1 1118.5,544.9 1126.4,537.5 1134.4,528.8 1142.5,520.1 1150.5,517.6 1158.4,516.4 1166.6,515.2 1174.5,516.4 1182.4,515.9 1190.3,512.7 1198.5,507.7 1206.4,504.0 1214.4,502.0 1222.5,501.1 1230.5,500.3 1238.4,497.8 1246.6,489.2 1254.5,480.5 1262.4,473.1 1270.6,468.1 1280.0,463.2 1328.3,399.9 1334.5,374.9 1342.4,350.2 1350.3,327.9 1358.5,310.5 1366.4,298.1 1374.4,289.5 1382.5,283.3 1390.5,277.1 1398.4,270.9 1406.3,267.2 1414.5,264.0 1422.4,263.5 1430.3,263.5 1438.5,263.5 1446.4,263.5 1454.4,264.0 1462.5,265.4 1470.5,265.9 1478.4,265.9 1486.6,265.4 1494.5,264.0 1502.4,262.2 1510.3,259.8 1518.5,256.0 1526.4,251.6 1534.4,248.1 1542.5,245.6 1552.9,248.1 1565.8,244.6 1574.7,241.7 1582.6,239.7 1591.5,237.2 1598.5,234.2 1605.4,228.3 1611.4,221.4 1617.3,215.4 1622.3,211.9 1630.2,209.0 1639.1,207.0 1647.0,205.5 1655.0,204.0 1662.9,202.0 1668.8,200.5 1678.8,197.6 1686.7,195.1 1694.6,192.6 1700.0,190.1 1702.5,190.9 1710.5,188.4 1718.4,185.4 1726.3,182.2 1734.5,178.5 1742.4,174.1 1750.3,170.6 1758.5,167.4 1766.4,164.9 1774.4,163.2 1782.5,162.4 1790.5,161.9 1798.4,161.7 1806.6,160.7 1814.5,157.5 1822.4,152.5 1830.3,146.3 1838.5,138.4 1846.4,130.2 1854.4,124.0 1862.5,120.3 1870.5,117.8 1878.4,115.4 1886.6,114.9 1894.5,114.1 1902.5,113.6 1910.4,112.9 1918.3,112.9 1926.5,113.6 1934.4,115.4 1942.4,117.8 1950.3,121.5 1958.5,127.7 1966.4,135.2 1974.3,143.8 1982.5,153.7 1990.4,163.2" fill="none" stroke="#fff" stroke-width="2"/>
<polyline points="6.0,309.0 12.4,297.9 18.6,286.7 24.8,279.3 31.0,273.1 37.2,269.4 43.4,266.3 49.6,263.2 60.0,259.5 62.5,260.0 70.6,256.2 78.5,251.9 86.5,245.0 94.4,241.9 102.5,238.8 110.6,235.6 118.1,231.9 126.2,227.5 134.4,223.8 142.5,221.5 150.6,221.0 158.5,221.9 166.5,224.4 174.4,230.0 182.5,235.0 190.4,238.8 198.4,243.1 206.2,248.8 214.4,253.8 222.5,259.4 230.4,263.8 238.4,265.6 246.2,266.2 254.4,265.6 262.5,265.0 270.4,263.1 278.4,260.0 286.2,257.5 294.4,255.6 302.5,254.8 310.6,254.4 320.0,254.4 326.5,253.1 334.5,245.6 342.5,237.5 350.5,230.0 358.5,226.2 366.5,223.8 374.5,219.4 382.5,213.8 390.5,208.8 398.5,203.8 406.5,195.0 414.5,186.2 422.5,179.4 430.5,174.4 438.5,173.1 446.5,175.6 454.5,181.2 462.5,188.8 470.5,195.0 478.5,197.5 486.5,198.1 494.5,195.6 502.5,193.1 510.5,191.9 518.5,190.0 526.5,187.8 534.5,186.9 542.5,187.8 550.5,189.4 558.5,192.5 566.5,197.5 574.5,207.5 582.5,220.0 590.5,233.8 598.5,248.8 606.5,262.5 614.5,273.8 622.5,279.4 640.0,282.5 646.5,285.6 654.5,287.5 662.5,286.9 670.5,283.8 678.5,280.6 686.5,277.5 694.5,275.6 702.5,276.2 710.5,274.4 718.5,271.9 726.5,271.9 734.5,276.2 742.5,282.5 750.5,288.8 758.5,297.5 766.3,318.6 774.5,337.2 782.4,353.3 790.3,366.9 798.5,380.5 806.4,397.8 814.4,418.9 822.5,446.1 830.5,468.4 838.4,488.2 846.6,515.5 854.5,540.2 862.4,557.6 870.3,573.6 878.5,599.6 886.4,634.3 894.4,661.5 902.5,681.4 910.5,697.5 918.4,707.4 926.3,703.7 934.5,696.2 942.4,692.5 950.3,683.8 958.5,676.4 966.4,669.0 974.4,665.3 982.5,666.5 990.5,666.5 998.4,661.5 1006.6,649.2 1014.5,631.8 1022.4,615.7 1030.3,600.9 1038.5,587.2 1046.4,576.1 1054.4,568.7 1062.5,561.2 1070.5,553.6 1078.4,547.4 1086.3,543.7 1094.5,541.2 1102.4,538.7 1110.3,535.0 1118.5,531.3 1126.4,525.1 1134.4,516.4 1142.5,509.0 1150.5,507.7 1158.4,509.0 1166.6,510.2 1174.5,512.7 1182.4,512.7 1190.3,507.7 1198.5,501.5 1206.4,499.1 1214.4,499.1 1222.5,499.6 1230.5,499.6 1238.4,495.4 1246.6,484.2 1254.5,474.3 1262.4,465.6 1270.6,459.4 1280.0,453.3 1318.4,399.9 1326.3,370.0 1334.5,337.8 1342.4,308.0 1350.3,280.8 1358.5,258.5 1366.4,244.9 1374.4,235.0 1382.5,234.5 1390.5,235.7 1398.4,236.7 1406.3,238.2 1414.5,243.2 1422.4,251.1 1430.3,259.8 1438.5,268.4 1446.4,273.4 1454.4,277.1 1462.5,279.6 1470.5,281.3 1478.4,281.3 1486.6,277.1 1494.5,272.1 1502.4,267.9 1510.3,263.5 1518.5,257.3 1526.4,251.1 1534.4,246.1 1542.5,242.4 1552.9,239.2 1565.8,236.2 1574.7,232.3 1582.6,230.8 1591.5,228.8 1598.5,225.3 1605.4,219.4 1611.4,211.4 1617.3,203.5 1622.3,199.1 1630.2,197.6 1639.1,196.1 1647.0,195.1 1655.0,193.6 1668.8,194.1 1678.8,192.6 1686.7,191.1 1694.6,187.2 1700.0,184.2 1702.5,184.7 1710.5,182.2 1718.4,179.8 1726.3,177.3 1734.5,172.3 1742.4,167.4 1750.3,163.2 1758.5,159.2 1766.4,156.2 1774.4,155.0 1782.5,157.0 1790.5,158.7 1798.4,160.4 1806.6,159.9 1814.5,155.0 1822.4,146.3 1830.3,138.4 1838.5,129.0 1846.4,119.1 1854.4,111.6 1862.5,107.2 1870.5,104.7 1878.4,103.7 1886.6,105.4 1894.5,105.4 1902.5,105.4 1910.4,105.4 1918.3,106.7 1926.5,109.2 1934.4,113.6 1942.4,120.3 1950.3,129.0 1958.5,138.9 1966.4,151.3 1974.3,163.7 1982.5,176.0 1990.4,188.4" fill="none" stroke="#fff" stroke-width="3"/>
<polyline points="6.2,278.4 14.8,278.1 22.8,273.8 30.8,264.4 38.8,254.4 46.8,258.8 54.4,264.4 62.5,250.2 70.6,248.1 78.5,238.8 86.5,250.0 94.4,253.8 102.5,261.2 110.6,264.4 118.1,235.6 126.2,192.5 134.4,206.9 142.5,197.5 150.6,216.2 158.5,215.0 166.5,203.8 174.4,191.2 182.5,183.1 190.4,181.0 198.4,162.5 206.2,146.2 214.4,161.2 222.5,149.4 230.4,172.5 238.4,211.2 246.2,208.1 254.4,241.2 262.5,223.1 270.4,212.5 278.4,193.1 286.2,173.8 294.4,174.4 302.5,174.0 310.6,170.0 320.0,181.2 326.5,181.2 334.5,208.1 342.5,208.1 350.5,218.8 358.5,238.8 362.5,262.5 366.5,282.5 374.5,274.4 382.5,283.8 390.5,302.5 398.5,338.1 406.5,325.0 414.5,273.8 422.5,260.6 430.5,265.0 438.5,299.4 446.5,293.1 454.5,278.8 462.5,256.9 470.5,275.6 478.5,279.4 486.5,276.9 494.5,291.2 502.5,246.9 510.5,258.8 518.5,268.8 526.5,308.1 534.5,323.1 542.5,348.8 550.5,362.5 558.4,441.9 566.3,418.4 574.5,432.0 582.4,397.3 590.3,445.6 598.5,461.7 606.4,508.8 614.4,582.3 622.5,537.3 630.5,564.5 638.4,645.4 646.3,610.8 654.5,607.6 662.4,714.8 670.3,711.1 678.5,816.3 686.4,765.6 694.4,726.4 702.5,727.9 710.5,706.1 718.4,628.1 726.3,638.0 734.5,644.2 742.4,623.2 750.3,623.9 758.5,650.4 766.4,694.5 774.4,678.9 782.5,699.2 790.5,625.6 798.5,597.5 806.4,562.0 814.4,515.5 822.5,511.8 830.5,516.7 838.4,501.9 846.6,556.3 854.5,540.2 862.4,534.1 870.3,545.2 878.5,567.5 886.4,545.2 894.4,527.9 902.5,518.0 910.5,490.2 918.4,488.2 926.6,461.0 934.5,468.4 942.4,522.4 950.6,524.9 958.5,526.6 966.4,557.3 974.4,506.5 982.3,471.8 990.5,464.9 998.4,489.2 1006.3,501.1 1014.5,492.1 1022.4,518.9 1030.3,459.4 1038.5,434.7 1046.4,412.4 1054.4,427.2 1062.5,440.9 1070.5,432.2 1078.4,384.6 1086.3,393.0 1094.5,388.1 1102.4,366.5 1110.3,305.0 1118.5,217.9 1126.4,199.3 1134.4,179.5 1142.5,151.1 1150.5,162.2 1158.4,217.2 1166.6,219.2 1174.5,300.4 1182.4,276.1 1190.3,253.3 1198.5,267.5 1206.4,278.6 1214.4,295.9 1222.5,309.6 1230.5,271.7 1238.4,273.2 1246.6,287.3 1254.5,273.7 1262.4,284.1 1270.6,272.4 1278.5,241.5 1286.4,248.6 1294.4,242.4 1302.3,232.5 1310.5,225.1 1318.4,231.3 1326.3,221.4 1334.5,235.0 1342.4,250.6 1350.3,241.2 1358.5,228.8 1366.4,220.1 1374.4,228.8 1382.5,223.8 1390.5,204.0 1398.4,160.7 1406.3,145.1 1414.5,174.3 1422.4,195.4 1430.3,201.5 1438.5,207.0 1446.4,197.1 1454.4,199.6 1462.5,186.2 1470.5,192.9 1478.4,183.0 1486.6,171.8 1494.5,152.5 1502.4,177.3 1510.3,179.8 1518.5,164.9 1526.4,142.1 1534.4,146.6 1542.5,146.6 1550.5,145.8 1558.4,150.8 1566.6,159.4 1574.5,164.9 1582.4,179.3 1590.6,173.1 1598.5,140.9 1606.4,134.4 1614.4,103.0 1622.3,90.6 1630.5,67.1 1638.4,67.1 1646.3,77.5 1654.5,108.7 1662.4,103.0 1670.3,104.7 1678.5,145.1 1686.4,105.0 1694.4,119.1 1702.5,105.9 1710.5,118.6 1718.4,120.3 1726.3,135.2 1734.5,140.1 1742.4,158.7 1750.3,188.4 1758.5,208.2 1766.4,238.0 1774.4,250.3 1782.5,254.1" fill="none" stroke="#ffd700" stroke-width="2"/>
<rect x="6" y="254" width="2496" height="1" fill="#778899"/>
<rect x="6" y="214" width="2496" height="2" fill="#ffff00"/>
<rect x="6" y="334" width="2496" height="2" fill="#ffff00"/>
<rect x="5" y="3" width="2498" height="1" fill="#fff"/>
<rect x="5" y="965" width="2498" height="1" fill="#fff"/>
<rect x="5" y="967" width="2498" height="1" fill="#fff"/>
<rect x="5" y="987" width="2498" height="1" fill="#fff"/>
<rect x="5" y="989" width="2498" height="1" fill="#fff"/>
<rect x="5" y="1187" width="2498" height="1" fill="#fff"/>
<rect x="5" y="3" width="1" height="1185" fill="#fff"/>
<rect x="2502" y="3" width="1" height="1185" fill="#fff"/>
<rect x="5" y="966" width="1" height="1" fill="#000"/>
<rect x="5" y="988" width="1" height="1" fill="#000"/>
<rect x="2502" y="966" width="1" height="1" fill="#000"/>
<rect x="2502" y="988" width="1" height="1" fill="#000"/>
<rect x="3" y="2" width="2" height="1209" fill="#000"/>
<rect x="5" y="3" width="1" height="1185" fill="#fff"/>
<rect x="5" y="966" width="1" height="1" fill="#000"/>
<rect x="5" y="988" width="1" height="1" fill="#000"/>
<rect x="5" y="212" width="6" height="6" fill="#ffff00"/>
<rect x="7" y="214" width="2" height="2" fill="#fff"/>
<rect x="2495" y="212" width="6" height="6" fill="#ffff00"/>
<rect x="2497" y="214" width="2" height="2" fill="#fff"/>
<rect x="5" y="332" width="6" height="6" fill="#ffff00"/>
<rect x="7" y="334" width="2" height="2" fill="#fff"/>
<rect x="2495" y="332" width="6" height="6" fill="#ffff00"/>
<rect x="2497" y="334" width="2" height="2" fill="#fff"/>
<rect x="1996" y="4" width="11" height="1" fill="#778899"/>
<rect x="1997" y="5" width="9" height="1" fill="#778899"/>
<rect x="1998" y="6" width="7" height="1" fill="#778899"/>
<rect x="1999" y="7" width="5" height="1" fill="#778899"/>
<rect x="2000" y="8" width="3" height="1" fill="#778899"/>
<rect x="2001" y="9" width="1" height="1" fill="#778899"/>
<rect x="6" y="968" width="3" height="19" fill="#ff4500"/>
<rect x="12" y="968" width="5" height="19" fill="#ff4500"/>
<rect x="20" y="968" width="5" height="19" fill="#ff4500"/>
<rect x="28" y="968" width="5" height="19" fill="#ff4500"/>
<rect x="36" y="968" width="5" height="19" fill="#ff4500"/>
<rect x="44" y="968" width="5" height="19" fill="#ff4500"/>
<rect x="52" y="968" width="5" height="19" fill="#ff4500"/>
<rect x="60" y="968" width="5" height="19" fill="#ff4500"/>
<rect x="68" y="968" width="5" height="19" fill="#ff4500"/>
<rect x="76" y="968" width="5" height="19" fill="#ff4500"/>
<rect x="84" y="968" width="5" height="19" fill="#ff4500"/>
<rect x="92" y="968" width="5" height="19" fill="#ff4500"/>
<rect x="100" y="968" width="5" height="19" fill="#ff4500"/>
<rect x="108" y="968" width="5" height="19" fill="#ff4500"/>
<rect x="116" y="968" width="5" height="19" fill="#ff4500"/>
<rect x="124" y="968" width="5" height="19" fill="#ff4500"/>
<rect x="132" y="968" width="5" height="19" fill="#ff4500"/>
<rect x="140" y="968" width="5" height="19" fill="#ff4500"/>
<rect x="148" y="968" width="5" height="19" fill="#00bfff"/>
<rect x="156" y="968" width="5" height="19" fill="#00bfff"/>
<rect x="164" y="968" width="5" height="19" fill="#00bfff"/>
<rect x="172" y="968" width="5" height="19" fill="#00bfff"/>
<rect x="180" y="968" width="5" height="19" fill="#00bfff"/>
<rect x="188" y="968" width="5" height="19" fill="#00bfff"/>
<rect x="196" y="968" width="5" height="19" fill="#00bfff"/>
<rect x="204" y="968" width="5" height="19" fill="#00bfff"/>
<rect x="212" y="968" width="5" height="19" fill="#00bfff"/>
<rect x="220" y="968" width="5" height="19" fill="#00bfff"/>
<rect x="228" y="968" width="5" height="19" fill="#00bfff"/>
<rect x="236" y="968" width="5" height="19" fill="#00bfff"/>
<rect x="244" y="968" width="5" height="19" fill="#00bfff"/>
<rect x="252" y="968" width="5" height="19" fill="#00bfff"/>
<rect x="260" y="968" width="5" height="19" fill="#00bfff"/>
<rect x="268" y="968" width="5" height="19" fill="#00bfff"/>
<rect x="276" y="968" width="5" height="19" fill="#ff4500"/>
<rect x="284" y="968" width="5" height="19" fill="#ff4500"/>
<rect x="292" y="968" width="5" height="19" fill="#ff4500"/>
<rect x="300" y="968" width="5" height="19" fill="#ff4500"/>
<rect x="308" y="968" width="5" height="19" fill="#ff4500"/>
<rect x="316" y="968" width="5" height="19" fill="#ff4500"/>
<rect x="324" y="968" width="5" height="19" fill="#ff4500"/>
<rect x="332" y="968" width="5" height="19" fill="#ff4500"/>
<rect x="340" y="968" width="5" height="19" fill="#ff4500"/>
<rect x="348" y="968" width="5" height="19" fill="#ff4500"/>
<rect x="356" y="968" width="5" height="19" fill="#ff4500"/>
<rect x="364" y="968" width="5" height="19" fill="#ff4500"/>
<rect x="372" y="968" width="5" height="19" fill="#ff4500"/>
<rect x="380" y="968" width="5" height="19" fill="#ff4500"/>
<rect x="388" y="968" width="5" height="19" fill="#ff4500"/>
<rect x="396" y="968" width="5" height="19" fill="#ff4500"/>
<rect x="404" y="968" width="5" height="19" fill="#ff4500"/>
<rect x="412" y="968" width="5" height="19" fill="#ff4500"/>
<rect x="420" y="968" width="5" height="19" fill="#ff4500"/>
<rect x="428" y="968" width="5" height="19" fill="#ff4500"/>
<rect x="436" y="968" width="5" height="19" fill="#ff4500"/>
<rect x="444" y="968" width="5" height="19" fill="#00bfff"/>
<rect x="452" y="968" width="5" height="19" fill="#00bfff"/>
<rect x="460" y="968" width="5" height="19" fill="#00bfff"/>
<rect x="468" y="968" width="5" height="19" fill="#00bfff"/>
<rect x="476" y="968" width="5" height="19" fill="#00bfff"/>
<rect x="484" y="968" width="5" height="19" fill="#00bfff"/>
<rect x="492" y="968" width="5" height="19" fill="#00bfff"/>
<rect x="500" y="968" width="5" height="19" fill="#00bfff"/>
<rect x="508" y="968" width="5" height="19" fill="#ff4500"/>
<rect x="516" y="968" width="5" height="19" fill="#ff4500"/>
<rect x="524" y="968" width="5" height="19" fill="#00bfff"/>
<rect x="532" y="968" width="5" height="19" fill="#00bfff"/>
<rect x="540" y="968" width="5" height="19" fill="#00bfff"/>
<rect x="548" y="968" width="5" height="19" fill="#00bfff"/>
<rect x="556" y="968" width="5" height="19" fill="#00bfff"/>
<rect x="564" y="968" width="5" height="19" fill="#00bfff"/>
<rect x="572" y="968" width="5" height="19" fill="#00bfff"/>
<rect x="580" y="968" width="5" height="19" fill="#00bfff"/>
<rect x="588" y="968" width="5" height="19" fill="#00bfff"/>
<rect x="596" y="968" width="5" height="19" fill="#00bfff"/>
<rect x="604" y="968" width="5" height="19" fill="#00bfff"/>
<rect x="612" y="968" width="5" height="19" fill="#00bfff"/>
<rect x="620" y="968" width="5" height="19" fill="#00bfff"/>
<rect x="628" y="968" width="5" height="19" fill="#00bfff"/>
<rect x="636" y="968" width="5" height="19" fill="#00bfff"/>
<rect x="644" y="968" width="5" height="19" fill="#00bfff"/>
<rect x="652" y="968" width="5" height="19" fill="#00bfff"/>
<rect x="660" y="968" width="5" height="19" fill="#00bfff"/>
<rect x="668" y="968" width="5" height="19" fill="#00bfff"/>
<rect x="676" y="968" width="5" height="19" fill="#ff4500"/>
<rect x="684" y="968" width="5" height="19" fill="#ff4500"/>
<rect x="692" y="968" width="5" height="19" fill="#ff4500"/>
<rect x="700" y="968" width="5" height="19" fill="#ff4500"/>
<rect x="708" y="968" width="5" height="19" fill="#ff4500"/>
<rect x="716" y="968" width="5" height="19" fill="#ff4500"/>
<rect x="724" y="968" width="5" height="19" fill="#ff4500"/>
<rect x="732" y="968" width="5" height="19" fill="#ff4500"/>
<rect x="740" y="968" width="5" height="19" fill="#00bfff"/>
<rect x="748" y="968" width="5" height="19" fill="#00bfff"/>
<rect x="756" y="968" width="5" height="19" fill="#00bfff"/>
<rect x="764" y="968" width="5" height="19" fill="#00bfff"/>
<rect x="772" y="968" width="5" height="19" fill="#00bfff"/>
<rect x="780" y="968" width="5" height="19" fill="#00bfff"/>
<rect x="788" y="968" width="5" height="19" fill="#00bfff"/>
<rect x="796" y="968" width="5" height="19" fill="#00bfff"/>
<rect x="804" y="968" width="5" height="19" fill="#00bfff"/>
<rect x="812" y="968" width="5" height="19" fill="#00bfff"/>
<rect x="820" y="968" width="5" height="19" fill="#00bfff"/>
<rect x="828" y="968" width="5" height="19" fill="#00bfff"/>
<rect x="836" y="968" width="5" height="19" fill="#00bfff"/>
<rect x="844" y="968" width="5" height="19" fill="#00bfff"/>
<rect x="852" y="968" width="5" height="19" fill="#00bfff"/>
<rect x="860" y="968" width="5" height="19" fill="#00bfff"/>
<rect x="868" y="968" width="5" height="19" fill="#00bfff"/>
<rect x="876" y="968" width="5" height="19" fill="#00bfff"/>
<rect x="884" y="968" width="5" height="19" fill="#00bfff"/>
<rect x="892" y="968" width="5" height="19" fill="#00bfff"/>
<rect x="900" y="968" width="5" height="19" fill="#00bfff"/>
<rect x="908" y="968" width="5" height="19" fill="#00bfff"/>
<rect x="916" y="968" width="5" height="19" fill="#00bfff"/>
<rect x="924" y="968" width="5" height="19" fill="#00bfff"/>
<rect x="932" y="968" width="5" height="19" fill="#00bfff"/>
<rect x="940" y="968" width="5" height="19" fill="#ff4500"/>
<rect x="948" y="968" width="5" height="19" fill="#ff4500"/>
<rect x="956" y="968" width="5" height="19" fill="#ff4500"/>
<rect x="964" y="968" width="5" height="19" fill="#ff4500"/>
<rect x="972" y="968" width="5" height="19" fill="#ff4500"/>
<rect x="980" y="968" width="5" height="19" fill="#ff4500"/>
<rect x="988" y="968" width="5" height="19" fill="#ff4500"/>
<rect x="996" y="968" width="5" height="19" fill="#ff4500"/>
<rect x="1004" y="968" width="5" height="19" fill="#ff4500"/>
<rect x="1012" y="968" width="5" height="19" fill="#ff4500"/>
<rect x="1020" y="968" width="5" height="19" fill="#ff4500"/>
<rect x="1028" y="968" width="5" height="19" fill="#ff4500"/>
<rect x="1036" y="968" width="5" height="19" fill="#ff4500"/>
<rect x="1044" y="968" width="5" height="19" fill="#ff4500"/>
<rect x="1052" y="968" width="5" height="19" fill="#ff4500"/>
<rect x="1060" y="968" width="5" height="19" fill="#ff4500"/>
<rect x="1068" y="968" width="5" height="19" fill="#ff4500"/>
<rect x="1076" y="968" width="5" height="19" fill="#ff4500"/>
<rect x="1084" y="968" width="5" height="19" fill="#ff4500"/>
<rect x="1092" y="968" width="5" height="19" fill="#ff4500"/>
<rect x="1100" y="968" width="5" height="19" fill="#ff4500"/>
<rect x="1108" y="968" width="5" height="19" fill="#ff4500"/>
<rect x="1116" y="968" width="5" height="19" fill="#ff4500"/>
<rect x="1124" y="968" width="5" height="19" fill="#ff4500"/>
<rect x="1132" y="968" width="5" height="19" fill="#ff4500"/>
<rect x="1140" y="968" width="5" height="19" fill="#ff4500"/>
<rect x="1148" y="968" width="5" height="19" fill="#00bfff"/>
<rect x="1156" y="968" width="5" height="19" fill="#00bfff"/>
<rect x="1164" y="968" width="5" height="19" fill="#00bfff"/>
<rect x="1172" y="968" width="5" height="19" fill="#00bfff"/>
<rect x="1180" y="968" width="5" height="19" fill="#00bfff"/>
<rect x="1188" y="968" width="5" height="19" fill="#00bfff"/>
<rect x="1196" y="968" width="5" height="19" fill="#ff4500"/>
<rect x="1204" y="968" width="5" height="19" fill="#ff4500"/>
<rect x="1212" y="968" width="5" height="19" fill="#ff4500"/>
<rect x="1220" y="968" width="5" height="19" fill="#00bfff"/>
<rect x="1228" y="968" width="5" height="19" fill="#00bfff"/>
<rect x="1236" y="968" width="5" height="19" fill="#ff4500"/>
<rect x="1244" y="968" width="5" height="19" fill="#ff4500"/>
<rect x="1252" y="968" width="5" height="19" fill="#ff4500"/>
<rect x="1260" y="968" width="5" height="19" fill="#ff4500"/>
<rect x="1268" y="968" width="5" height="19" fill="#ff4500"/>
<rect x="1276" y="968" width="5" height="19" fill="#ff4500"/>
<rect x="1284" y="968" width="5" height="19" fill="#ff4500"/>
<rect x="1292" y="968" width="5" height="19" fill="#ff4500"/>
<rect x="1300" y="968" width="5" height="19" fill="#ff4500"/>
<rect x="1308" y="968" width="5" height="19" fill="#ff4500"/>
<rect x="1316" y="968" width="5" height="19" fill="#ff4500"/>
<rect x="1324" y="968" width="5" height="19" fill="#ff4500"/>
<rect x="1332" y="968" width="5" height="19" fill="#ff4500"/>
<rect x="1340" y="968" width="5" height="19" fill="#ff4500"/>
<rect x="1348" y="968" width="5" height="19" fill="#ff4500"/>
<rect x="1356" y="968" width="5" height="19" fill="#ff4500"/>
<rect x="1364" y="968" width="5" height="19" fill="#ff4500"/>
<rect x="1372" y="968" width="5" height="19" fill="#ff4500"/>
<rect x="1380" y="968" width="5" height="19" fill="#ff4500"/>
<rect x="1388" y="968" width="5" height="19" fill="#ff4500"/>
<rect x="1396" y="968" width="5" height="19" fill="#ff4500"/>
<rect x="1404" y="968" width="5" height="19" fill="#00bfff"/>
<rect x="1412" y="968" width="5" height="19" fill="#00bfff"/>
<rect x="1420" y="968" width="5" height="19" fill="#00bfff"/>
<rect x="1428" y="968" width="5" height="19" fill="#00bfff"/>
<rect x="1436" y="968" width="5" height="19" fill="#00bfff"/>
<rect x="1444" y="968" width="5" height="19" fill="#00bfff"/>
<rect x="1452" y="968" width="5" height="19" fill="#00bfff"/>
<rect x="1460" y="968" width="5" height="19" fill="#00bfff"/>
<rect x="1468" y="968" width="5" height="19" fill="#00bfff"/>
<rect x="1476" y="968" width="5" height="19" fill="#00bfff"/>
<rect x="1484" y="968" width="5" height="19" fill="#00bfff"/>
<rect x="1492" y="968" width="5" height="19" fill="#00bfff"/>
<rect x="1500" y="968" width="5" height="19" fill="#00bfff"/>
<rect x="1508" y="968" width="5" height="19" fill="#ff4500"/>
<rect x="1516" y="968" width="5" height="19" fill="#ff4500"/>
<rect x="1524" y="968" width="5" height="19" fill="#ff4500"/>
<rect x="1532" y="968" width="5" height="19" fill="#ff4500"/>
<rect x="1540" y="968" width="5" height="19" fill="#ff4500"/>
<rect x="1548" y="968" width="5" height="19" fill="#ff4500"/>
<rect x="1556" y="968" width="5" height="19" fill="#ff4500"/>
<rect x="1564" y="968" width="5" height="19" fill="#ff4500"/>
<rect x="1572" y="968" width="5" height="19" fill="#ff4500"/>
<rect x="1580" y="968" width="5" height="19" fill="#ff4500"/>
<rect x="1588" y="968" width="5" height="19" fill="#ff4500"/>
<rect x="1596" y="968" width="5" height="19" fill="#ff4500"/>
<rect x="1604" y="968" width="5" height="19" fill="#ff4500"/>
<rect x="1612" y="968" width="5" height="19" fill="#ff4500"/>
<rect x="1620" y="968" width="5" height="19" fill="#ff4500"/>
<rect x="1628" y="968" width="5" height="19" fill="#ff4500"/>
<rect x="1636" y="968" width="5" height="19" fill="#ff4500"/>
<rect x="1644" y="968" width="5" height="19" fill="#ff4500"/>
<rect x="1652" y="968" width="5" height="19" fill="#ff4500"/>
<rect x="1660" y="968" width="5" height="19" fill="#ff4500"/>
<rect x="1668" y="968" width="5" height="19" fill="#ff4500"/>
<rect x="1676" y="968" width="5" height="19" fill="#ff4500"/>
<rect x="1684" y="968" width="5" height="19" fill="#ff4500"/>
<rect x="1692" y="968" width="5" height="19" fill="#ff4500"/>
<rect x="1700" y="968" width="5" height="19" fill="#ff4500"/>
<rect x="1708" y="968" width="5" height="19" fill="#ff4500"/>
<rect x="1716" y="968" width="5" height="19" fill="#ff4500"/>
<rect x="1724" y="968" width="5" height="19" fill="#ff4500"/>
<rect x="1732" y="968" width="5" height="19" fill="#ff4500"/>
<rect x="1740" y="968" width="5" height="19" fill="#ff4500"/>
<rect x="1748" y="968" width="5" height="19" fill="#ff4500"/>
<rect x="1756" y="968" width="5" height="19" fill="#ff4500"/>
<rect x="1764" y="968" width="5" height="19" fill="#ff4500"/>
<rect x="1772" y="968" width="5" height="19" fill="#ff4500"/>
<rect x="1780" y="968" width="5" height="19" fill="#00bfff"/>
<rect x="1788" y="968" width="5" height="19" fill="#00bfff"/>
<rect x="1796" y="968" width="5" height="19" fill="#00bfff"/>
<rect x="1804" y="968" width="5" height="19" fill="#00bfff"/>
<rect x="1812" y="968" width="5" height="19" fill="#ff4500"/>
<rect x="1820" y="968" width="5" height="19" fill="#ff4500"/>
<rect x="1828" y="968" width="5" height="19" fill="#ff4500"/>
<rect x="1836" y="968" width="5" height="19" fill="#ff4500"/>
<rect x="1844" y="968" width="5" height="19" fill="#ff4500"/>
<rect x="1852" y="968" width="5" height="19" fill="#ff4500"/>
<rect x="1860" y="968" width="5" height="19" fill="#ff4500"/>
<rect x="1868" y="968" width="5" height="19" fill="#ff4500"/>
<rect x="1876" y="968" width="5" height="19" fill="#ff4500"/>
<rect x="1884" y="968" width="5" height="19" fill="#ff4500"/>
<rect x="1892" y="968" width="5" height="19" fill="#00bfff"/>
<rect x="1900" y="968" width="5" height="19" fill="#00bfff"/>
<rect x="1908" y="968" width="5" height="19" fill="#00bfff"/>
<rect x="1916" y="968" width="5" height="19" fill="#00bfff"/>
<rect x="1924" y="968" width="5" height="19" fill="#00bfff"/>
<rect x="1932" y="968" width="5" height="19" fill="#00bfff"/>
<rect x="1940" y="968" width="5" height="19" fill="#00bfff"/>
<rect x="1948" y="968" width="5" height="19" fill="#00bfff"/>
<rect x="1956" y="968" width="5" height="19" fill="#00bfff"/>
<rect x="1964" y="968" width="5" height="19" fill="#00bfff"/>
<rect x="1972" y="968" width="5" height="19" fill="#00bfff"/>
<rect x="1980" y="968" width="5" height="19" fill="#00bfff"/>
<rect x="1988" y="968" width="5" height="19" fill="#00bfff"/>
<g stroke-width="1" stroke-dasharray="3 3">
<line x1="7" y1="1030.5" x2="2502" y2="1030.5" stroke="#ffff00"/>
<line x1="7" y1="1088.5" x2="2502" y2="1088.5" stroke="#ffff00"/>
<line x1="7" y1="1147.5" x2="2502" y2="1147.5" stroke="#ffff00"/>
<line x1="7" y1="1080.5" x2="2502" y2="1080.5" stroke="#d0d0d0"/>
</g>
<rect x="6" y="1078" width="1" height="2" fill="#dc143c"/>
<rect x="14" y="1071" width="1" height="9" fill="#dc143c"/>
<rect x="22" y="1066" width="1" height="14" fill="#dc143c"/>
<rect x="30" y="1061" width="1" height="19" fill="#dc143c"/>
<rect x="38" y="1058" width="1" height="22" fill="#dc143c"/>
<rect x="46" y="1056" width="1" height="24" fill="#dc143c"/>
<rect x="54" y="1055" width="1" height="25" fill="#dc143c"/>
<rect x="62" y="1053" width="1" height="27" fill="#dc143c"/>
<rect x="70" y="1051" width="1" height="29" fill="#dc143c"/>
<rect x="78" y="1049" width="1" height="31" fill="#dc143c"/>
<rect x="86" y="1048" width="1" height="32" fill="#dc143c"/>
<rect x="94" y="1050" width="1" height="30" fill="#dc143c"/>
<rect x="102" y="1051" width="1" height="29" fill="#dc143c"/>
<rect x="110" y="1053" width="1" height="27" fill="#dc143c"/>
<rect x="118" y="1054" width="1" height="26" fill="#dc143c"/>
<rect x="126" y="1056" width="1" height="24" fill="#dc143c"/>
<rect x="134" y="1057" width="1" height="23" fill="#dc143c"/>
<rect x="142" y="1059" width="1" height="21" fill="#dc143c"/>
<rect x="150" y="1062" width="1" height="18" fill="#dc143c"/>
<rect x="158" y="1066" width="1" height="14" fill="#dc143c"/>
<rect x="166" y="1071" width="1" height="9" fill="#dc143c"/>
<rect x="174" y="1077" width="1" height="3" fill="#dc143c"/>
<rect x="190" y="1081" width="1" height="2" fill="#2f7cf0"/>
<rect x="198" y="1081" width="1" height="5" fill="#2f7cf0"/>
<rect x="206" y="1081" width="1" height="8" fill="#2f7cf0"/>
<rect x="214" y="1081" width="1" height="11" fill="#2f7cf0"/>
<rect x="222" y="1081" width="1" height="16" fill="#2f7cf0"/>
<rect x="230" y="1081" width="1" height="18" fill="#2f7cf0"/>
<rect x="238" y="1081" width="1" height="18" fill="#2f7cf0"/>
<rect x="246" y="1081" width="1" height="18" fill="#2f7cf0"/>
<rect x="254" y="1081" width="1" height="16" fill="#2f7cf0"/>
<rect x="262" y="1081" width="1" height="17" fill="#2f7cf0"/>
<rect x="270" y="1081" width="1" height="16" fill="#2f7cf0"/>
<rect x="278" y="1081" width="1" height="13" fill="#2f7cf0"/>
<rect x="286" y="1081" width="1" height="9" fill="#2f7cf0"/>
<rect x="294" y="1081" width="1" height="8" fill="#2f7cf0"/>
<rect x="302" y="1081" width="1" height="5" fill="#2f7cf0"/>
<rect x="310" y="1081" width="1" height="2" fill="#2f7cf0"/>
<rect x="326" y="1079" width="1" height="1" fill="#dc143c"/>
<rect x="334" y="1074" width="1" height="6" fill="#dc143c"/>
<rect x="342" y="1072" width="1" height="8" fill="#dc143c"/>
<rect x="350" y="1069" width="1" height="11" fill="#dc143c"/>
<rect x="358" y="1068" width="1" height="12" fill="#dc143c"/>
<rect x="366" y="1067" width="1" height="13" fill="#dc143c"/>
<rect x="374" y="1066" width="1" height="14" fill="#dc143c"/>
<rect x="382" y="1065" width="1" height="15" fill="#dc143c"/>
<rect x="390" y="1064" width="1" height="16" fill="#dc143c"/>
<rect x="398" y="1062" width="1" height="18" fill="#dc143c"/>
<rect x="406" y="1060" width="1" height="20" fill="#dc143c"/>
<rect x="414" y="1058" width="1" height="22" fill="#dc143c"/>
<rect x="422" y="1057" width="1" height="23" fill="#dc143c"/>
<rect x="430" y="1056" width="1" height="24" fill="#dc143c"/>
<rect x="438" y="1056" width="1" height="24" fill="#dc143c"/>
<rect x="446" y="1061" width="1" height="19" fill="#dc143c"/>
<rect x="454" y="1064" width="1" height="16" fill="#dc143c"/>
<rect x="462" y="1070" width="1" height="10" fill="#dc143c"/>
<rect x="470" y="1074" width="1" height="6" fill="#dc143c"/>
<rect x="478" y="1078" width="1" height="2" fill="#dc143c"/>
<rect x="494" y="1079" width="1" height="1" fill="#dc143c"/>
<rect x="502" y="1078" width="1" height="2" fill="#dc143c"/>
<rect x="510" y="1077" width="1" height="3" fill="#dc143c"/>
<rect x="518" y="1076" width="1" height="4" fill="#dc143c"/>
<rect x="526" y="1077" width="1" height="3" fill="#dc143c"/>
<rect x="534" y="1077" width="1" height="3" fill="#dc143c"/>
<rect x="558" y="1081" width="1" height="1" fill="#2f7cf0"/>
<rect x="566" y="1081" width="1" height="6" fill="#2f7cf0"/>
<rect x="574" y="1081" width="1" height="10" fill="#2f7cf0"/>
<rect x="582" y="1081" width="1" height="13" fill="#2f7cf0"/>
<rect x="590" y="1081" width="1" height="16" fill="#2f7cf0"/>
<rect x="598" y="1081" width="1" height="18" fill="#2f7cf0"/>
<rect x="606" y="1081" width="1" height="25" fill="#2f7cf0"/>
<rect x="614" y="1081" width="1" height="29" fill="#2f7cf0"/>
<rect x="622" y="1081" width="1" height="30" fill="#2f7cf0"/>
<rect x="630" y="1081" width="1" height="29" fill="#2f7cf0"/>
<rect x="638" y="1081" width="1" height="28" fill="#2f7cf0"/>
<rect x="646" y="1081" width="1" height="30" fill="#2f7cf0"/>
<rect x="654" y="1081" width="1" height="30" fill="#2f7cf0"/>
<rect x="662" y="1081" width="1" height="28" fill="#2f7cf0"/>
<rect x="670" y="1081" width="1" height="25" fill="#2f7cf0"/>
<rect x="678" y="1081" width="1" height="21" fill="#2f7cf0"/>
<rect x="686" y="1081" width="1" height="18" fill="#2f7cf0"/>
<rect x="694" y="1081" width="1" height="15" fill="#2f7cf0"/>
<rect x="702" y="1081" width="1" height="11" fill="#2f7cf0"/>
<rect x="710" y="1081" width="1" height="5" fill="#2f7cf0"/>
<rect x="718" y="1081" width="1" height="1" fill="#2f7cf0"/>
<rect x="726" y="1079" width="1" height="1" fill="#dc143c"/>
<rect x="734" y="1079" width="1" height="1" fill="#dc143c"/>
<rect x="750" y="1081" width="1" height="4" fill="#2f7cf0"/>
<rect x="758" y="1081" width="1" height="8" fill="#2f7cf0"/>
<rect x="766" y="1081" width="1" height="16" fill="#2f7cf0"/>
<rect x="774" y="1081" width="1" height="23" fill="#2f7cf0"/>
<rect x="782" y="1081" width="1" height="29" fill="#2f7cf0"/>
<rect x="790" y="1081" width="1" height="30" fill="#2f7cf0"/>
<rect x="798" y="1081" width="1" height="34" fill="#2f7cf0"/>
<rect x="806" y="1081" width="1" height="38" fill="#2f7cf0"/>
<rect x="814" y="1081" width="1" height="46" fill="#2f7cf0"/>
<rect x="822" y="1081" width="1" height="55" fill="#2f7cf0"/>
<rect x="830" y="1081" width="1" height="56" fill="#2f7cf0"/>
<rect x="838" y="1081" width="1" height="58" fill="#2f7cf0"/>
<rect x="846" y="1081" width="1" height="69" fill="#2f7cf0"/>
<rect x="854" y="1081" width="1" height="70" fill="#2f7cf0"/>
<rect x="862" y="1081" width="1" height="69" fill="#2f7cf0"/>
<rect x="870" y="1081" width="1" height="82" fill="#2f7cf0"/>
<rect x="878" y="1081" width="1" height="87" fill="#2f7cf0"/>
<rect x="886" y="1081" width="1" height="90" fill="#2f7cf0"/>
<rect x="894" y="1081" width="1" height="97" fill="#2f7cf0"/>
<rect x="902" y="1081" width="1" height="93" fill="#2f7cf0"/>
<rect x="910" y="1081" width="1" height="89" fill="#2f7cf0"/>
<rect x="918" y="1081" width="1" height="83" fill="#2f7cf0"/>
<rect x="926" y="1081" width="1" height="70" fill="#2f7cf0"/>
<rect x="934" y="1081" width="1" height="60" fill="#2f7cf0"/>
<rect x="942" y="1081" width="1" height="48" fill="#2f7cf0"/>
<rect x="950" y="1081" width="1" height="36" fill="#2f7cf0"/>
<rect x="958" y="1081" width="1" height="23" fill="#2f7cf0"/>
<rect x="966" y="1081" width="1" height="13" fill="#2f7cf0"/>
<rect x="974" y="1081" width="1" height="5" fill="#2f7cf0"/>
<rect x="990" y="1076" width="1" height="4" fill="#dc143c"/>
<rect x="998" y="1064" width="1" height="16" fill="#dc143c"/>
<rect x="1006" y="1051" width="1" height="29" fill="#dc143c"/>
<rect x="1014" y="1040" width="1" height="40" fill="#dc143c"/>
<rect x="1022" y="1026" width="1" height="54" fill="#dc143c"/>
<rect x="1030" y="1014" width="1" height="66" fill="#dc143c"/>
<rect x="1038" y="1008" width="1" height="72" fill="#dc143c"/>
<rect x="1046" y="1002" width="1" height="78" fill="#dc143c"/>
<rect x="1054" y="1007" width="1" height="73" fill="#dc143c"/>
<rect x="1062" y="1011" width="1" height="69" fill="#dc143c"/>
<rect x="1070" y="1015" width="1" height="65" fill="#dc143c"/>
<rect x="1078" y="1020" width="1" height="60" fill="#dc143c"/>
<rect x="1086" y="1028" width="1" height="52" fill="#dc143c"/>
<rect x="1094" y="1032" width="1" height="48" fill="#dc143c"/>
<rect x="1102" y="1034" width="1" height="46" fill="#dc143c"/>
<rect x="1110" y="1036" width="1" height="44" fill="#dc143c"/>
<rect x="1118" y="1036" width="1" height="44" fill="#dc143c"/>
<rect x="1126" y="1037" width="1" height="43" fill="#dc143c"/>
<rect x="1134" y="1037" width="1" height="43" fill="#dc143c"/>
<rect x="1142" y="1040" width="1" height="40" fill="#dc143c"/>
<rect x="1150" y="1048" width="1" height="32" fill="#dc143c"/>
<rect x="1158" y="1057" width="1" height="23" fill="#dc143c"/>
<rect x="1166" y="1065" width="1" height="15" fill="#dc143c"/>
<rect x="1174" y="1073" width="1" height="7" fill="#dc143c"/>
<rect x="1182" y="1076" width="1" height="4" fill="#dc143c"/>
<rect x="1190" y="1075" width="1" height="5" fill="#dc143c"/>
<rect x="1198" y="1074" width="1" height="6" fill="#dc143c"/>
<rect x="1206" y="1072" width="1" height="8" fill="#dc143c"/>
<rect x="1214" y="1071" width="1" height="9" fill="#dc143c"/>
<rect x="1222" y="1071" width="1" height="9" fill="#dc143c"/>
<rect x="1230" y="1075" width="1" height="5" fill="#dc143c"/>
<rect x="1238" y="1072" width="1" height="8" fill="#dc143c"/>
<rect x="1246" y="1070" width="1" height="10" fill="#dc143c"/>
<rect x="1254" y="1068" width="1" height="12" fill="#dc143c"/>
<rect x="1262" y="1067" width="1" height="13" fill="#dc143c"/>
<rect x="1270" y="1067" width="1" height="13" fill="#dc143c"/>
<rect x="1278" y="1065" width="1" height="15" fill="#dc143c"/>
<rect x="1286" y="1060" width="1" height="20" fill="#dc143c"/>
<rect x="1294" y="1056" width="1" height="24" fill="#dc143c"/>
<rect x="1302" y="1051" width="1" height="29" fill="#dc143c"/>
<rect x="1310" y="1045" width="1" height="35" fill="#dc143c"/>
<rect x="1318" y="1039" width="1" height="41" fill="#dc143c"/>
<rect x="1326" y="1029" width="1" height="51" fill="#dc143c"/>
<rect x="1334" y="1020" width="1" height="60" fill="#dc143c"/>
<rect x="1342" y="1014" width="1" height="66" fill="#dc143c"/>
<rect x="1350" y="1006" width="1" height="74" fill="#dc143c"/>
<rect x="1358" y="1002" width="1" height="78" fill="#dc143c"/>
<rect x="1366" y="1000" width="1" height="80" fill="#dc143c"/>
<rect x="1374" y="1002" width="1" height="78" fill="#dc143c"/>
<rect x="1382" y="1011" width="1" height="69" fill="#dc143c"/>
<rect x="1390" y="1019" width="1" height="61" fill="#dc143c"/>
<rect x="1398" y="1026" width="1" height="54" fill="#dc143c"/>
<rect x="1406" y="1033" width="1" height="47" fill="#dc143c"/>
<rect x="1414" y="1041" width="1" height="39" fill="#dc143c"/>
<rect x="1422" y="1049" width="1" height="31" fill="#dc143c"/>
<rect x="1430" y="1059" width="1" height="21" fill="#dc143c"/>
<rect x="1438" y="1066" width="1" height="14" fill="#dc143c"/>
<rect x="1446" y="1074" width="1" height="6" fill="#dc143c"/>
<rect x="1462" y="1081" width="1" height="6" fill="#2f7cf0"/>
<rect x="1470" y="1081" width="1" height="13" fill="#2f7cf0"/>
<rect x="1478" y="1081" width="1" height="17" fill="#2f7cf0"/>
<rect x="1486" y="1081" width="1" height="19" fill="#2f7cf0"/>
<rect x="1494" y="1081" width="1" height="19" fill="#2f7cf0"/>
<rect x="1502" y="1081" width="1" height="17" fill="#2f7cf0"/>
<rect x="1510" y="1081" width="1" height="13" fill="#2f7cf0"/>
<rect x="1518" y="1081" width="1" height="8" fill="#2f7cf0"/>
<rect x="1526" y="1081" width="1" height="1" fill="#2f7cf0"/>
<rect x="1534" y="1078" width="1" height="2" fill="#dc143c"/>
<rect x="1542" y="1074" width="1" height="6" fill="#dc143c"/>
<rect x="1550" y="1074" width="1" height="6" fill="#dc143c"/>
<rect x="1558" y="1073" width="1" height="7" fill="#dc143c"/>
<rect x="1566" y="1069" width="1" height="11" fill="#dc143c"/>
<rect x="1574" y="1067" width="1" height="13" fill="#dc143c"/>
<rect x="1582" y="1066" width="1" height="14" fill="#dc143c"/>
<rect x="1590" y="1065" width="1" height="15" fill="#dc143c"/>
<rect x="1598" y="1064" width="1" height="16" fill="#dc143c"/>
<rect x="1606" y="1060" width="1" height="20" fill="#dc143c"/>
<rect x="1614" y="1056" width="1" height="24" fill="#dc143c"/>
<rect x="1622" y="1056" width="1" height="24" fill="#dc143c"/>
<rect x="1630" y="1057" width="1" height="23" fill="#dc143c"/>
<rect x="1638" y="1060" width="1" height="20" fill="#dc143c"/>
<rect x="1646" y="1063" width="1" height="17" fill="#dc143c"/>
<rect x="1654" y="1065" width="1" height="15" fill="#dc143c"/>
<rect x="1662" y="1068" width="1" height="12" fill="#dc143c"/>
<rect x="1670" y="1070" width="1" height="10" fill="#dc143c"/>
<rect x="1678" y="1072" width="1" height="8" fill="#dc143c"/>
<rect x="1686" y="1073" width="1" height="7" fill="#dc143c"/>
<rect x="1694" y="1073" width="1" height="7" fill="#dc143c"/>
<rect x="1702" y="1071" width="1" height="9" fill="#dc143c"/>
<rect x="1710" y="1072" width="1" height="8" fill="#dc143c"/>
<rect x="1718" y="1074" width="1" height="6" fill="#dc143c"/>
<rect x="1726" y="1074" width="1" height="6" fill="#dc143c"/>
<rect x="1734" y="1073" width="1" height="7" fill="#dc143c"/>
<rect x="1742" y="1072" width="1" height="8" fill="#dc143c"/>
<rect x="1750" y="1072" width="1" height="8" fill="#dc143c"/>
<rect x="1758" y="1072" width="1" height="8" fill="#dc143c"/>
<rect x="1766" y="1071" width="1" height="9" fill="#dc143c"/>
<rect x="1774" y="1070" width="1" height="10" fill="#dc143c"/>
<rect x="1782" y="1069" width="1" height="11" fill="#dc143c"/>
<rect x="1790" y="1071" width="1" height="9" fill="#dc143c"/>
<rect x="1798" y="1072" width="1" height="8" fill="#dc143c"/>
<rect x="1806" y="1071" width="1" height="9" fill="#dc143c"/>
<rect x="1814" y="1070" width="1" height="10" fill="#dc143c"/>
<rect x="1822" y="1068" width="1" height="12" fill="#dc143c"/>
<rect x="1830" y="1066" width="1" height="14" fill="#dc143c"/>
<rect x="1838" y="1063" width="1" height="17" fill="#dc143c"/>
<rect x="1846" y="1061" width="1" height="19" fill="#dc143c"/>
<rect x="1854" y="1060" width="1" height="20" fill="#dc143c"/>
<rect x="1862" y="1061" width="1" height="19" fill="#dc143c"/>
<rect x="1870" y="1061" width="1" height="19" fill="#dc143c"/>
<rect x="1878" y="1063" width="1" height="17" fill="#dc143c"/>
<rect x="1886" y="1068" width="1" height="12" fill="#dc143c"/>
<rect x="1894" y="1069" width="1" height="11" fill="#dc143c"/>
<rect x="1902" y="1071" width="1" height="9" fill="#dc143c"/>
<rect x="1910" y="1072" width="1" height="8" fill="#dc143c"/>
<rect x="1918" y="1073" width="1" height="7" fill="#dc143c"/>
<rect x="1926" y="1075" width="1" height="5" fill="#dc143c"/>
<rect x="1934" y="1078" width="1" height="2" fill="#dc143c"/>
<rect x="1950" y="1081" width="1" height="5" fill="#2f7cf0"/>
<rect x="1958" y="1081" width="1" height="12" fill="#2f7cf0"/>
<rect x="1966" y="1081" width="1" height="20" fill="#2f7cf0"/>
<rect x="1974" y="1081" width="1" height="27" fill="#2f7cf0"/>
<rect x="1982" y="1081" width="1" height="34" fill="#2f7cf0"/>
<rect x="1990" y="1081" width="1" height="39" fill="#2f7cf0"/>
<text x="10.3" y="1005" fill="#fff" font-size="12" textLength="568" lengthAdjust="spacingAndGlyphs" style="white-space:pre">%R(14) -94.1505  %R(50) -95.0959  %R(100) -43.0561  Bollinger_Momentum 0.0000 -1.7678 0.0000</text>
<polyline points="6.5,1012.2 14.5,1001.3 22.5,1002.2 30.5,1023.0 38.5,1014.7 46.5,1043.0 54.5,1037.2 62.5,1034.7 70.5,1013.0 78.5,1006.3 86.5,993.0 94.5,1063.8 102.5,1038.8 110.5,1049.7 118.5,1015.5 126.5,1045.5 134.5,1027.2 142.5,1078.0 150.5,1101.3 158.5,1119.7 166.5,1146.3 174.5,1172.2 182.5,1116.3 190.5,1132.2 198.5,1125.5 206.5,1144.7 214.5,1158.3 222.5,1156.3 230.5,1148.0 238.5,1133.0 246.5,1114.7 254.5,1095.5 262.5,1109.3 270.5,1053.8 278.5,1058.0 286.5,1033.8 294.5,1069.7 302.5,1073.8 310.5,1106.3 318.5,1113.3 326.5,1058.0 334.5,996.3 342.5,1060.5 350.5,1043.8 358.5,1081.3 366.5,1074.7 374.5,1054.7 382.5,1036.3 390.5,1018.0 398.5,1012.2 406.5,997.2 414.5,999.7 422.5,1019.7 430.5,998.0 438.5,1043.0 446.5,1158.0 454.5,1137.2 462.5,1176.3 470.5,1108.0 478.5,1089.7 486.5,1059.7 494.5,1038.0 502.5,1038.8 510.5,1040.5 518.5,1033.0 526.5,1048.0 534.5,1045.5 542.5,1074.7 550.5,1075.5 558.5,1094.7 566.5,1126.3 574.5,1182.2 582.5,1155.5 590.5,1168.0 598.5,1164.7 606.5,1186.3 614.5,1173.0 622.5,1111.3 630.5,1098.0 638.5,1097.2 646.5,1134.7 654.5,1121.3 662.5,1107.2 670.5,1063.8 678.5,1052.2 686.5,1061.3 694.5,1054.7 702.5,1086.3 710.5,1003.0 718.5,1026.3 726.5,1044.7 734.5,1156.3 742.5,1169.7 750.5,1186.3 758.5,1186.3 766.5,1161.3 774.5,1148.0 782.5,1155.5 790.5,1137.2 798.5,1164.7 806.5,1167.2 814.5,1183.0 822.5,1134.7 830.5,1110.5 838.5,1117.2 846.5,1150.5 854.5,1131.3 862.5,1128.0 870.5,1173.0 878.5,1166.3 886.5,1169.7 894.5,1124.7 902.5,1109.7 910.5,1104.7 918.5,1084.7 926.5,1049.7 934.5,1050.5 942.5,1050.5 950.5,1026.0 958.5,1022.2 966.5,1036.3 974.5,1057.2 982.5,1049.7 990.5,1060.5 998.5,1022.2 1006.5,1016.3 1014.5,998.8 1022.5,995.0 1030.5,998.8 1038.5,1003.3 1046.5,999.3 1054.5,1045.5 1062.5,1031.3 1070.5,1026.7 1078.5,1034.7 1086.5,1054.7 1094.5,1041.3 1102.5,1025.5 1110.5,1028.0 1118.5,997.7 1126.5,1010.5 1134.5,991.3 1142.5,1019.7 1150.5,1096.3 1158.5,1100.5 1166.5,1105.5 1174.5,1147.2 1182.5,1078.0 1190.5,1028.0 1198.5,1016.3 1206.5,1062.2 1214.5,1078.8 1222.5,1060.5 1230.5,1105.5 1238.5,1004.3 1246.5,1025.5 1254.5,998.8 1262.5,1016.3 1270.5,1034.7 1278.5,1025.5 1286.5,1004.7 1294.5,1027.2 1302.5,1021.3 1310.5,995.5 1318.5,993.8 1326.5,992.2 1334.5,1002.2 1342.5,1003.0 1350.5,1003.0 1358.5,1010.5 1366.5,1041.3 1374.5,1043.8 1382.5,1096.3 1390.5,1085.5 1398.5,1075.5 1406.5,1089.7 1414.5,1100.5 1422.5,1121.3 1430.5,1163.0 1438.5,1126.3 1446.5,1128.0 1454.5,1142.2 1462.5,1128.8 1470.5,1132.2 1478.5,1105.5 1486.5,1037.2 1494.5,1051.3 1502.5,1046.3 1510.5,1032.2 1518.5,1018.8 1526.5,1029.7 1534.5,1015.5 1542.5,1032.2 1550.5,1079.7 1558.5,1066.3 1566.5,1032.2 1574.5,1027.2 1582.5,1047.2 1590.5,1040.5 1598.5,1002.2 1606.5,1009.7 1614.5,999.7 1622.5,1058.0 1630.5,1090.0 1638.5,1095.5 1646.5,1105.5 1654.5,1090.5 1662.5,1104.3 1670.5,1083.8 1678.5,1115.5 1686.5,1096.3 1694.5,1074.7 1702.5,1041.0 1710.5,1092.2 1718.5,1098.0 1726.5,1054.7 1734.5,1009.7 1742.5,1021.3 1750.5,1021.3 1758.5,1017.7 1766.5,1033.0 1774.5,1053.8 1782.5,1068.8 1790.5,1133.0 1798.5,1128.8 1806.5,1023.0 1814.5,1010.5 1822.5,1001.3 1830.5,1019.7 1838.5,1015.5 1846.5,1015.5 1854.5,1031.3 1862.5,1075.5 1870.5,1066.3 1878.5,1069.7 1886.5,1127.7 1894.5,1069.3 1902.5,1090.5 1910.5,1079.3 1918.5,1109.7 1926.5,1114.7 1934.5,1139.7 1942.5,1147.2 1950.5,1166.3 1958.5,1166.3 1966.5,1179.7 1974.5,1185.2 1982.5,1173.8 1990.5,1177.2" fill="none" stroke="#00ffff" stroke-width="1"/>
<polyline points="6.5,1008.0 14.5,999.7 22.5,1001.0 30.5,1009.7 38.5,1005.5 46.5,1023.0 54.5,1019.3 62.5,1017.7 70.5,1004.7 78.5,996.3 86.5,992.2 94.5,1022.2 102.5,1015.5 110.5,1017.7 118.5,1002.2 126.5,1009.3 134.5,1004.7 142.5,1021.3 150.5,1038.0 158.5,1047.2 166.5,1054.7 174.5,1098.0 182.5,1064.7 190.5,1073.0 198.5,1069.3 206.5,1079.3 214.5,1089.3 222.5,1088.0 230.5,1083.0 238.5,1073.0 246.5,1063.3 254.5,1068.8 262.5,1075.5 270.5,1060.0 278.5,1057.7 286.5,1045.5 294.5,1059.7 302.5,1060.5 310.5,1071.3 318.5,1074.7 326.5,1038.0 334.5,1002.2 342.5,1029.7 350.5,1018.8 358.5,1036.3 366.5,1048.0 374.5,1035.5 382.5,1023.0 390.5,1014.7 398.5,1011.3 406.5,993.0 414.5,995.5 422.5,1013.0 430.5,997.2 438.5,1031.3 446.5,1079.7 454.5,1074.7 462.5,1118.0 470.5,1092.2 478.5,1081.3 486.5,1054.7 494.5,1031.3 502.5,1032.2 510.5,1034.7 518.5,1027.2 526.5,1042.2 534.5,1043.0 542.5,1074.7 550.5,1074.7 558.5,1089.7 566.5,1114.7 574.5,1178.0 582.5,1154.7 590.5,1166.3 598.5,1163.0 606.5,1185.5 614.5,1172.2 622.5,1118.0 630.5,1108.0 638.5,1111.3 646.5,1145.5 654.5,1139.7 662.5,1124.7 670.5,1104.7 678.5,1121.3 686.5,1126.3 694.5,1123.0 702.5,1139.7 710.5,1094.7 718.5,1105.5 726.5,1115.5 734.5,1173.8 742.5,1163.8 750.5,1186.3 758.5,1185.5 766.5,1156.3 774.5,1132.2 782.5,1144.7 790.5,1116.3 798.5,1154.7 806.5,1171.3 814.5,1183.8 822.5,1138.0 830.5,1123.0 838.5,1133.0 846.5,1156.3 854.5,1145.5 862.5,1144.7 870.5,1175.5 878.5,1173.0 886.5,1173.8 894.5,1142.2 902.5,1133.0 910.5,1133.0 918.5,1128.0 926.5,1107.2 934.5,1108.8 942.5,1108.8 950.5,1103.0 958.5,1102.2 966.5,1106.3 974.5,1116.3 982.5,1113.0 990.5,1119.7 998.5,1098.8 1006.5,1091.3 1014.5,1083.0 1022.5,1068.0 1030.5,1066.3 1038.5,1068.0 1046.5,1064.3 1054.5,1079.7 1062.5,1074.7 1070.5,1072.2 1078.5,1075.5 1086.5,1082.2 1094.5,1075.5 1102.5,1071.3 1110.5,1068.0 1118.5,1059.7 1126.5,1054.7 1134.5,1042.2 1142.5,1039.7 1150.5,1051.3 1158.5,1048.0 1166.5,1041.3 1174.5,1052.2 1182.5,1028.0 1190.5,1009.7 1198.5,1002.2 1206.5,1007.2 1214.5,1012.2 1222.5,1008.3 1230.5,1018.8 1238.5,994.7 1246.5,1001.3 1254.5,993.8 1262.5,999.7 1270.5,1004.3 1278.5,1001.7 1286.5,995.5 1294.5,1004.3 1302.5,1003.0 1310.5,993.3 1318.5,992.7 1326.5,991.7 1334.5,998.0 1342.5,998.0 1350.5,998.0 1358.5,999.7 1366.5,1018.8 1374.5,1019.7 1382.5,1048.0 1390.5,1041.3 1398.5,1039.7 1406.5,1045.5 1414.5,1054.7 1422.5,1063.0 1430.5,1067.7 1438.5,1051.3 1446.5,1052.2 1454.5,1058.0 1462.5,1052.7 1470.5,1057.2 1478.5,1052.2 1486.5,1038.8 1494.5,1043.8 1502.5,1042.2 1510.5,1037.2 1518.5,1033.8 1526.5,1036.3 1534.5,1032.7 1542.5,1036.3 1550.5,1044.3 1558.5,1041.3 1566.5,1030.5 1574.5,1031.3 1582.5,1040.5 1590.5,1037.7 1598.5,1026.3 1606.5,1008.8 1614.5,999.7 1622.5,1013.8 1630.5,1024.7 1638.5,1033.8 1646.5,1038.0 1654.5,1032.7 1662.5,1034.3 1670.5,1027.7 1678.5,1032.7 1686.5,1029.3 1694.5,1022.2 1702.5,1008.8 1710.5,1030.5 1718.5,1041.3 1726.5,1027.2 1734.5,1005.5 1742.5,1011.3 1750.5,1011.3 1758.5,1009.3 1766.5,1014.7 1774.5,1022.2 1782.5,1028.0 1790.5,1042.2 1798.5,1037.2 1806.5,1008.0 1814.5,1001.3 1822.5,995.5 1830.5,1004.3 1838.5,1004.3 1846.5,1004.7 1854.5,1013.0 1862.5,1038.0 1870.5,1032.7 1878.5,1037.2 1886.5,1071.3 1894.5,1041.3 1902.5,1054.7 1910.5,1041.3 1918.5,1053.0 1926.5,1055.5 1934.5,1068.8 1942.5,1073.0 1950.5,1091.3 1958.5,1121.3 1966.5,1152.2 1974.5,1185.2 1982.5,1172.2 1990.5,1175.5" fill="none" stroke="#00ffff" stroke-width="1"/>
<polyline points="6.5,1057.2 14.5,1052.2 22.5,1044.7 30.5,1051.3 38.5,1047.7 46.5,1060.0 54.5,1058.0 62.5,1056.3 70.5,1046.3 78.5,1039.7 86.5,1028.0 94.5,1048.0 102.5,1037.2 110.5,1038.8 118.5,1023.0 126.5,1029.7 134.5,1019.7 142.5,1033.8 150.5,1040.5 158.5,1044.7 166.5,1050.5 174.5,1076.3 182.5,1053.8 190.5,1058.8 198.5,1056.3 206.5,1063.0 214.5,1068.8 222.5,1068.8 230.5,1065.5 238.5,1059.7 246.5,1052.7 254.5,1055.5 262.5,1059.3 270.5,1050.5 278.5,1048.8 286.5,1041.7 294.5,1048.8 302.5,1049.3 310.5,1050.0 318.5,1048.3 326.5,1028.0 334.5,998.8 342.5,1017.2 350.5,1010.5 358.5,1023.0 366.5,1021.3 374.5,1014.7 382.5,1007.2 390.5,1001.3 398.5,999.7 406.5,994.7 414.5,998.0 422.5,1003.8 430.5,996.3 438.5,1012.2 446.5,1033.0 454.5,1031.7 462.5,1052.2 470.5,1041.3 478.5,1034.7 486.5,1021.3 494.5,1011.3 502.5,1015.5 510.5,1015.5 518.5,1013.0 526.5,1020.5 534.5,1021.0 542.5,1040.5 550.5,1044.7 558.5,1058.0 566.5,1073.0 574.5,1110.5 582.5,1103.8 590.5,1112.2 598.5,1129.7 606.5,1157.2 614.5,1148.0 622.5,1103.0 630.5,1091.3 638.5,1094.7 646.5,1123.8 654.5,1119.7 662.5,1108.8 670.5,1089.7 678.5,1103.8 686.5,1106.7 694.5,1106.0 702.5,1118.0 710.5,1081.3 718.5,1091.3 726.5,1103.0 734.5,1133.0 742.5,1148.0 750.5,1168.8 758.5,1181.3 766.5,1161.3 774.5,1148.8 782.5,1155.5 790.5,1137.2 798.5,1164.7 806.5,1173.0 814.5,1184.7 822.5,1138.8 830.5,1123.8 838.5,1134.7 846.5,1158.8 854.5,1147.2 862.5,1147.2 870.5,1177.2 878.5,1174.7 886.5,1175.5 894.5,1143.8 902.5,1134.3 910.5,1134.3 918.5,1129.7 926.5,1111.3 934.5,1112.7 942.5,1112.7 950.5,1108.8 958.5,1108.8 966.5,1117.2 974.5,1126.3 982.5,1122.7 990.5,1126.7 998.5,1109.3 1006.5,1101.3 1014.5,1093.0 1022.5,1082.2 1030.5,1082.2 1038.5,1082.2 1046.5,1079.7 1054.5,1092.2 1062.5,1088.5 1070.5,1087.2 1078.5,1089.7 1086.5,1095.0 1094.5,1089.7 1102.5,1085.2 1110.5,1083.0 1118.5,1076.3 1126.5,1075.5 1134.5,1069.2 1142.5,1070.5 1150.5,1083.8 1158.5,1084.3 1166.5,1085.5 1174.5,1092.2 1182.5,1078.8 1190.5,1072.2 1198.5,1069.7 1206.5,1076.3 1214.5,1078.0 1222.5,1075.5 1230.5,1080.5 1238.5,1065.5 1246.5,1060.5 1254.5,1054.7 1262.5,1058.8 1270.5,1061.3 1278.5,1060.5 1286.5,1048.0 1294.5,1050.5 1302.5,1048.8 1310.5,1043.8 1318.5,1027.2 1326.5,1003.8 1334.5,996.3 1342.5,996.3 1350.5,996.3 1358.5,998.8 1366.5,1012.2 1374.5,1012.2 1382.5,1032.2 1390.5,1025.5 1398.5,1021.0 1406.5,1023.8 1414.5,1027.2 1422.5,1031.3 1430.5,1033.8 1438.5,1025.5 1446.5,1025.5 1454.5,1028.8 1462.5,1026.3 1470.5,1028.0 1478.5,1026.3 1486.5,1018.0 1494.5,1018.8 1502.5,1018.3 1510.5,1016.3 1518.5,1013.8 1526.5,1014.7 1534.5,1013.8 1542.5,1015.5 1550.5,1019.7 1558.5,1018.3 1566.5,1015.5 1574.5,1013.0 1582.5,1013.8 1590.5,1013.8 1598.5,1009.7 1606.5,998.8 1614.5,996.0 1622.5,1003.0 1630.5,1007.7 1638.5,1008.0 1646.5,1009.7 1654.5,1008.0 1662.5,1008.0 1670.5,1006.0 1678.5,1006.7 1686.5,1004.7 1694.5,1003.8 1702.5,999.3 1710.5,1005.5 1718.5,1008.0 1726.5,1002.7 1734.5,997.2 1742.5,998.0 1750.5,997.2 1758.5,997.7 1766.5,999.7 1774.5,1001.7 1782.5,1004.3 1790.5,1008.8 1798.5,1008.8 1806.5,997.7 1814.5,995.5 1822.5,993.3 1830.5,996.7 1838.5,996.7 1846.5,997.2 1854.5,1000.5 1862.5,1011.7 1870.5,1011.0 1878.5,1011.3 1886.5,1026.0 1894.5,1012.7 1902.5,1017.2 1910.5,1013.3 1918.5,1016.7 1926.5,1017.7 1934.5,1023.0 1942.5,1025.5 1950.5,1031.3 1958.5,1042.2 1966.5,1049.7 1974.5,1062.2 1982.5,1074.7 1990.5,1074.7" fill="none" stroke="#00ffff" stroke-width="2.6"/>
<rect x="2503" y="15" width="2" height="1" fill="#fff"/>
<text transform="translate(2509,19.5) scale(1.045,1)" fill="#fff" font-size="12" text-anchor="start">79.170</text>
<rect x="2503" y="64" width="2" height="1" fill="#fff"/>
<text transform="translate(2509,68.5) scale(1.045,1)" fill="#fff" font-size="12" text-anchor="start">78.150</text>
<rect x="2503" y="113" width="2" height="1" fill="#fff"/>
<text transform="translate(2509,117.5) scale(1.045,1)" fill="#fff" font-size="12" text-anchor="start">77.130</text>
<rect x="2503" y="162" width="2" height="1" fill="#fff"/>
<text transform="translate(2509,166.5) scale(1.045,1)" fill="#fff" font-size="12" text-anchor="start">76.090</text>
<rect x="2503" y="211" width="2" height="1" fill="#fff"/>
<text transform="translate(2509,215.5) scale(1.045,1)" fill="#fff" font-size="12" text-anchor="start">75.070</text>
<rect x="2503" y="260" width="2" height="1" fill="#fff"/>
<text transform="translate(2509,264.5) scale(1.045,1)" fill="#fff" font-size="12" text-anchor="start">74.050</text>
<rect x="2503" y="309" width="2" height="1" fill="#fff"/>
<text transform="translate(2509,313.5) scale(1.045,1)" fill="#fff" font-size="12" text-anchor="start">73.030</text>
<rect x="2503" y="358" width="2" height="1" fill="#fff"/>
<text transform="translate(2509,362.5) scale(1.045,1)" fill="#fff" font-size="12" text-anchor="start">72.010</text>
<rect x="2503" y="407" width="2" height="1" fill="#fff"/>
<text transform="translate(2509,411.5) scale(1.045,1)" fill="#fff" font-size="12" text-anchor="start">70.990</text>
<rect x="2503" y="456" width="2" height="1" fill="#fff"/>
<text transform="translate(2509,460.5) scale(1.045,1)" fill="#fff" font-size="12" text-anchor="start">69.970</text>
<rect x="2503" y="505" width="2" height="1" fill="#fff"/>
<text transform="translate(2509,509.5) scale(1.045,1)" fill="#fff" font-size="12" text-anchor="start">68.950</text>
<rect x="2503" y="554" width="2" height="1" fill="#fff"/>
<text transform="translate(2509,558.5) scale(1.045,1)" fill="#fff" font-size="12" text-anchor="start">67.930</text>
<rect x="2503" y="603" width="2" height="1" fill="#fff"/>
<text transform="translate(2509,607.5) scale(1.045,1)" fill="#fff" font-size="12" text-anchor="start">66.910</text>
<rect x="2503" y="652" width="2" height="1" fill="#fff"/>
<text transform="translate(2509,656.5) scale(1.045,1)" fill="#fff" font-size="12" text-anchor="start">65.890</text>
<rect x="2503" y="701" width="2" height="1" fill="#fff"/>
<text transform="translate(2509,705.5) scale(1.045,1)" fill="#fff" font-size="12" text-anchor="start">64.870</text>
<rect x="2503" y="750" width="2" height="1" fill="#fff"/>
<text transform="translate(2509,754.5) scale(1.045,1)" fill="#fff" font-size="12" text-anchor="start">63.850</text>
<rect x="2503" y="799" width="2" height="1" fill="#fff"/>
<text transform="translate(2509,803.5) scale(1.045,1)" fill="#fff" font-size="12" text-anchor="start">62.830</text>
<rect x="2503" y="848" width="2" height="1" fill="#fff"/>
<text transform="translate(2509,852.5) scale(1.045,1)" fill="#fff" font-size="12" text-anchor="start">61.810</text>
<rect x="2503" y="897" width="2" height="1" fill="#fff"/>
<text transform="translate(2509,901.5) scale(1.045,1)" fill="#fff" font-size="12" text-anchor="start">60.790</text>
<rect x="2503" y="946" width="2" height="1" fill="#fff"/>
<text transform="translate(2509,950.5) scale(1.045,1)" fill="#fff" font-size="12" text-anchor="start">59.770</text>
<rect x="2504" y="209" width="50" height="14" fill="#ffff00"/>
<text transform="translate(2509,220.5) scale(1.045,1)" fill="#000" font-size="12" text-anchor="start">75.000</text>
<rect x="2504" y="329" width="50" height="14" fill="#ffff00"/>
<text transform="translate(2509,340.5) scale(1.045,1)" fill="#000" font-size="12" text-anchor="start">72.500</text>
<rect x="2504" y="247" width="50" height="14" fill="#fff"/>
<text transform="translate(2509,258.5) scale(1.045,1)" fill="#000" font-size="12" text-anchor="start">74.178</text>
<text transform="translate(2507,979) scale(1.045,1)" fill="#fff" font-size="12" text-anchor="start">1.1</text>
<text transform="translate(2507,982.5) scale(1.045,1)" fill="#fff" font-size="12" text-anchor="start">0.1</text>
<text x="2507" y="1002.5" fill="#fff" font-size="12" text-anchor="start">0</text>
<rect x="2503" y="1030" width="2" height="1" fill="#fff"/>
<text x="2506" y="1034.5" fill="#fff" font-size="12" text-anchor="start">-20</text>
<text x="2507" y="1084.5" fill="#fff" font-size="12" text-anchor="start">0</text>
<rect x="2503" y="1088" width="2" height="1" fill="#fff"/>
<text x="2506" y="1092.5" fill="#fff" font-size="12" text-anchor="start">-50</text>
<rect x="2503" y="1147" width="2" height="1" fill="#fff"/>
<text x="2506" y="1151.5" fill="#fff" font-size="12" text-anchor="start">-80</text>
<text x="2507" y="1183.5" fill="#fff" font-size="12" text-anchor="start">-100</text>
<rect x="6" y="1188" width="1" height="3" fill="#fff"/>
<text transform="translate(5.5,1203) scale(1.05,1)" fill="#fff" font-size="12" text-anchor="start">17 Oct 2019</text>
<rect x="102" y="1188" width="1" height="3" fill="#fff"/>
<text transform="translate(101.5,1203) scale(1.05,1)" fill="#fff" font-size="12" text-anchor="start">1 Nov 2019</text>
<rect x="198" y="1188" width="1" height="3" fill="#fff"/>
<text transform="translate(197.5,1203) scale(1.05,1)" fill="#fff" font-size="12" text-anchor="start">19 Nov 2019</text>
<rect x="294" y="1188" width="1" height="3" fill="#fff"/>
<text transform="translate(293.5,1203) scale(1.05,1)" fill="#fff" font-size="12" text-anchor="start">5 Dec 2019</text>
<rect x="390" y="1188" width="1" height="3" fill="#fff"/>
<text transform="translate(389.5,1203) scale(1.05,1)" fill="#fff" font-size="12" text-anchor="start">23 Dec 2019</text>
<rect x="486" y="1188" width="1" height="3" fill="#fff"/>
<text transform="translate(485.5,1203) scale(1.05,1)" fill="#fff" font-size="12" text-anchor="start">10 Jan 2020</text>
<rect x="582" y="1188" width="1" height="3" fill="#fff"/>
<text transform="translate(581.5,1203) scale(1.05,1)" fill="#fff" font-size="12" text-anchor="start">28 Jan 2020</text>
<rect x="678" y="1188" width="1" height="3" fill="#fff"/>
<text transform="translate(677.5,1203) scale(1.05,1)" fill="#fff" font-size="12" text-anchor="start">13 Feb 2020</text>
<rect x="774" y="1188" width="1" height="3" fill="#fff"/>
<text transform="translate(773.5,1203) scale(1.05,1)" fill="#fff" font-size="12" text-anchor="start">2 Mar 2020</text>
<rect x="870" y="1188" width="1" height="3" fill="#fff"/>
<text transform="translate(869.5,1203) scale(1.05,1)" fill="#fff" font-size="12" text-anchor="start">16 Mar 2020</text>
<rect x="966" y="1188" width="1" height="3" fill="#fff"/>
<text transform="translate(965.5,1203) scale(1.05,1)" fill="#fff" font-size="12" text-anchor="start">31 Mar 2020</text>
<rect x="1062" y="1188" width="1" height="3" fill="#fff"/>
<text transform="translate(1061.5,1203) scale(1.05,1)" fill="#fff" font-size="12" text-anchor="start">16 Apr 2020</text>
<rect x="1158" y="1188" width="1" height="3" fill="#fff"/>
<text transform="translate(1157.5,1203) scale(1.05,1)" fill="#fff" font-size="12" text-anchor="start">4 May 2020</text>
<rect x="1254" y="1188" width="1" height="3" fill="#fff"/>
<text transform="translate(1253.5,1203) scale(1.05,1)" fill="#fff" font-size="12" text-anchor="start">20 May 2020</text>
<rect x="1350" y="1188" width="1" height="3" fill="#fff"/>
<text transform="translate(1349.5,1203) scale(1.05,1)" fill="#fff" font-size="12" text-anchor="start">5 Jun 2020</text>
<rect x="1446" y="1188" width="1" height="3" fill="#fff"/>
<text transform="translate(1445.5,1203) scale(1.05,1)" fill="#fff" font-size="12" text-anchor="start">23 Jun 2020</text>
<rect x="1542" y="1188" width="1" height="3" fill="#fff"/>
<text transform="translate(1541.5,1203) scale(1.05,1)" fill="#fff" font-size="12" text-anchor="start">9 Jul 2020</text>
<rect x="1638" y="1188" width="1" height="3" fill="#fff"/>
<text transform="translate(1637.5,1203) scale(1.05,1)" fill="#fff" font-size="12" text-anchor="start">27 Jul 2020</text>
<rect x="1734" y="1188" width="1" height="3" fill="#fff"/>
<text transform="translate(1733.5,1203) scale(1.05,1)" fill="#fff" font-size="12" text-anchor="start">12 Aug 2020</text>
<rect x="1830" y="1188" width="1" height="3" fill="#fff"/>
<text transform="translate(1829.5,1203) scale(1.05,1)" fill="#fff" font-size="12" text-anchor="start">28 Aug 2020</text>
<rect x="1926" y="1188" width="1" height="3" fill="#fff"/>
<text transform="translate(1925.5,1203) scale(1.05,1)" fill="#fff" font-size="12" text-anchor="start">15 Sep 2020</text>
<path d="M9 11 L18.2 11 L13.6 16 Z" fill="#fff" shape-rendering="auto"/>
<text x="24.5" y="17.5" fill="#fff" font-size="12" text-anchor="start" textLength="71" lengthAdjust="spacingAndGlyphs">AUDJPY,Daily</text>
<text x="104.4" y="17.5" fill="#fff" font-size="12" text-anchor="start" textLength="167" lengthAdjust="spacingAndGlyphs">74.242 74.615 74.000 74.178</text>
<text x="10.3" y="982.8" fill="#fff" font-size="12" text-anchor="start" textLength="167" lengthAdjust="spacingAndGlyphs">DowWave_ALLLTIME 75.7235</text>
<rect x="1486.5" y="235.5" width="32" height="48" fill="none" stroke="#00e5ff" stroke-width="1" stroke-dasharray="3 3"/>
<rect x="1702.5" y="146.5" width="32" height="37" fill="none" stroke="#00e5ff" stroke-width="1" stroke-dasharray="3 3"/>
<rect x="1902.5" y="84.5" width="32" height="38" fill="none" stroke="#ffc0cb" stroke-width="1" stroke-dasharray="3 3"/>
<path d="M894.5 670 V964 M894.5 670.5 H926 M926.5 670 V958" fill="none" stroke="#00e5ff" stroke-width="1" stroke-dasharray="3 3"/>
<path d="M6.5 266 V319" fill="none" stroke="#00e5ff" stroke-width="1" stroke-dasharray="3 3"/>
<path d="M320.4 223.5 L322.4 227 L330.2 218.2" fill="none" stroke="#00e09a" stroke-width="1.5" stroke-linejoin="miter" shape-rendering="auto"/>
<path d="M320.1 223.2 L322.3 227.2" fill="none" stroke="#00e09a" stroke-width="2.2" shape-rendering="auto"/>
<path d="M617.4 266.3 L619.4 269.8 L627.2 261" fill="none" stroke="#00e09a" stroke-width="1.5" stroke-linejoin="miter" shape-rendering="auto"/>
<path d="M617.1 266 L619.3 270" fill="none" stroke="#00e09a" stroke-width="2.2" shape-rendering="auto"/>
<path d="M705.4 236.1 L707.4 239.6 L715.2 230.8" fill="none" stroke="#00e09a" stroke-width="1.5" stroke-linejoin="miter" shape-rendering="auto"/>
<path d="M705.1 235.8 L707.3 239.8" fill="none" stroke="#00e09a" stroke-width="2.2" shape-rendering="auto"/>
<path d="M1174.4 493.5 L1176.4 497 L1184.2 488.2" fill="none" stroke="#00e09a" stroke-width="1.5" stroke-linejoin="miter" shape-rendering="auto"/>
<path d="M1174.1 493.2 L1176.3 497.2" fill="none" stroke="#00e09a" stroke-width="2.2" shape-rendering="auto"/>
<path d="M1801 135.5 L1803 139 L1810.8 130.2" fill="none" stroke="#00e09a" stroke-width="1.5" stroke-linejoin="miter" shape-rendering="auto"/>
<path d="M1800.7 135.2 L1802.9 139.2" fill="none" stroke="#00e09a" stroke-width="2.2" shape-rendering="auto"/>
<path d="M89.8 252.5 L91.8 256 L99.6 247.2" fill="none" stroke="#f000f0" stroke-width="1.5" stroke-linejoin="miter" shape-rendering="auto"/>
<path d="M89.5 252.2 L91.7 256.2" fill="none" stroke="#f000f0" stroke-width="2.2" shape-rendering="auto"/>
<path d="M593.4 324.5 L595.4 328 L603.2 319.2" fill="none" stroke="#f000f0" stroke-width="1.5" stroke-linejoin="miter" shape-rendering="auto"/>
<path d="M593.1 324.2 L595.3 328.2" fill="none" stroke="#f000f0" stroke-width="2.2" shape-rendering="auto"/>
<path d="M640.4 311.5 L642.4 315 L650.2 306.2" fill="none" stroke="#f000f0" stroke-width="1.5" stroke-linejoin="miter" shape-rendering="auto"/>
<path d="M640.1 311.2 L642.3 315.2" fill="none" stroke="#f000f0" stroke-width="2.2" shape-rendering="auto"/>
<path d="M1168.4 561.5 L1170.4 565 L1178.2 556.2" fill="none" stroke="#f000f0" stroke-width="1.5" stroke-linejoin="miter" shape-rendering="auto"/>
<path d="M1168.1 561.2 L1170.3 565.2" fill="none" stroke="#f000f0" stroke-width="2.2" shape-rendering="auto"/>
<path d="M1544.1 267.5 L1546.1 271 L1553.9 262.2" fill="none" stroke="#f000f0" stroke-width="1.5" stroke-linejoin="miter" shape-rendering="auto"/>
<path d="M1543.8 267.2 L1546 271.2" fill="none" stroke="#f000f0" stroke-width="2.2" shape-rendering="auto"/>
<path d="M1880.2 149.3 L1882.2 152.8 L1890 144" fill="none" stroke="#f000f0" stroke-width="1.5" stroke-linejoin="miter" shape-rendering="auto"/>
<path d="M1879.9 149 L1882.1 153" fill="none" stroke="#f000f0" stroke-width="2.2" shape-rendering="auto"/>
<path d="M89.95 190.15 L97.95 196.75 M97.75 189.75 L89.15 197.75" fill="none" stroke="#f4a460" stroke-width="2" shape-rendering="auto"/>
<path d="M794.7 376.1 L802.7 382.7 M802.5 375.7 L793.9 383.7" fill="none" stroke="#f4a460" stroke-width="2" shape-rendering="auto"/>
<path d="M818.2 483.4 L826.2 490 M826 483 L817.4 491" fill="none" stroke="#f4a460" stroke-width="2" shape-rendering="auto"/>
<path d="M113.5 236.5 L121.5 243.1 M121.3 236.1 L112.7 244.1" fill="none" stroke="#6495ed" stroke-width="2" shape-rendering="auto"/>
<path d="M129.7 240.9 L137.7 247.5 M137.5 240.5 L128.9 248.5" fill="none" stroke="#6495ed" stroke-width="2" shape-rendering="auto"/>
<path d="M913.8 800.4 L921.8 807 M921.6 800 L913 808" fill="none" stroke="#6495ed" stroke-width="2" shape-rendering="auto"/>
<path d="M1178.6 573.4 L1186.6 580 M1186.4 573 L1177.8 581" fill="none" stroke="#6495ed" stroke-width="2" shape-rendering="auto"/>
<path d="M1434.2 330.4 L1442.2 337 M1442 330 L1433.4 338" fill="none" stroke="#6495ed" stroke-width="2" shape-rendering="auto"/>
<path d="M22.5 216 L29 222.5 H25.5 V230.5 H19.5 V222.5 H16 Z" fill="none" stroke="#7cfc00" stroke-width="1" shape-rendering="auto"/>
<path d="M670.5 234 L677 240.5 H673.5 V248.5 H667.5 V240.5 H664 Z" fill="none" stroke="#7cfc00" stroke-width="1" shape-rendering="auto"/>
<path d="M1014.5 540 L1021 546.5 H1017.5 V554.5 H1011.5 V546.5 H1008 Z" fill="none" stroke="#7cfc00" stroke-width="1" shape-rendering="auto"/>
<path d="M1110.5 500 L1117 506.5 H1113.5 V514.5 H1107.5 V506.5 H1104 Z" fill="none" stroke="#7cfc00" stroke-width="1" shape-rendering="auto"/>
<path d="M1254.5 392 L1261 398.5 H1257.5 V406.5 H1251.5 V398.5 H1248 Z" fill="none" stroke="#7cfc00" stroke-width="1" shape-rendering="auto"/>
<path d="M1318.5 287 L1325 293.5 H1321.5 V301.5 H1315.5 V293.5 H1312 Z" fill="none" stroke="#7cfc00" stroke-width="1" shape-rendering="auto"/>
<path d="M1518.5 193 L1525 199.5 H1521.5 V207.5 H1515.5 V199.5 H1512 Z" fill="none" stroke="#7cfc00" stroke-width="1" shape-rendering="auto"/>
<path d="M1574.5 187 L1581 193.5 H1577.5 V201.5 H1571.5 V193.5 H1568 Z" fill="none" stroke="#7cfc00" stroke-width="1" shape-rendering="auto"/>
<path d="M1606.5 138 L1613 144.5 H1609.5 V152.5 H1603.5 V144.5 H1600 Z" fill="none" stroke="#7cfc00" stroke-width="1" shape-rendering="auto"/>
<path d="M1686.5 164 L1693 170.5 H1689.5 V178.5 H1683.5 V170.5 H1680 Z" fill="none" stroke="#7cfc00" stroke-width="1" shape-rendering="auto"/>
<path d="M157.5 254 L164.5 247.5 H160.5 V239.5 H154.5 V247.5 H150.5 Z" fill="none" stroke="#f0146e" stroke-width="1" shape-rendering="auto"/>
<path d="M308.5 280 L315.5 273.5 H311.5 V265.5 H305.5 V273.5 H301.5 Z" fill="none" stroke="#f0146e" stroke-width="1" shape-rendering="auto"/>
<path d="M693.5 293 L700.5 286.5 H696.5 V278.5 H690.5 V286.5 H686.5 Z" fill="none" stroke="#f0146e" stroke-width="1" shape-rendering="auto"/>
<path d="M733.5 327 L740.5 320.5 H736.5 V312.5 H730.5 V320.5 H726.5 Z" fill="none" stroke="#f0146e" stroke-width="1" shape-rendering="auto"/>
<path d="M1861.5 132 L1868.5 125.5 H1864.5 V117.5 H1858.5 V125.5 H1854.5 Z" fill="none" stroke="#f0146e" stroke-width="1" shape-rendering="auto"/>
</svg>
</body></html>
